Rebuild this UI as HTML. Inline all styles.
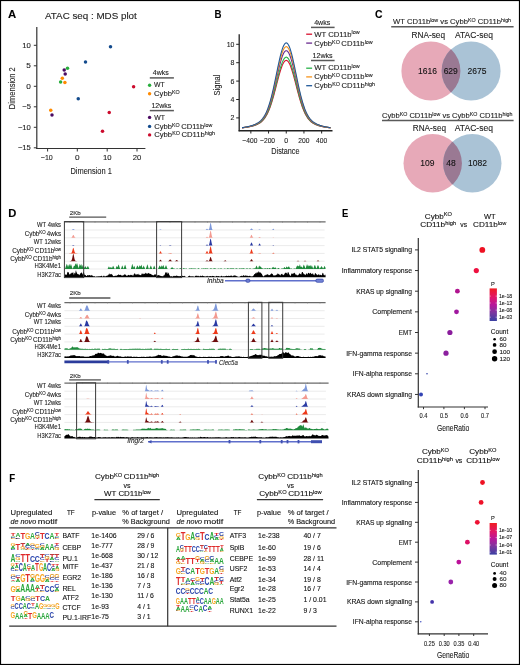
<!DOCTYPE html>
<html><head><meta charset="utf-8"><style>
html,body{margin:0;padding:0;background:#fff;overflow:hidden;width:520px;height:665px;}
svg{display:block;will-change:transform;}
text{font-family:"Liberation Sans",sans-serif;stroke:currentColor;stroke-width:0.1px;}
</style></head><body>
<svg width="520" height="665" viewBox="0 0 520 665">
<rect x="0" y="0" width="520" height="665" fill="#fff"/>
<text x="8.10" y="17.70" font-size="11.40" fill="#000" color="#000" font-weight="bold" textLength="8.20" lengthAdjust="spacingAndGlyphs" >A</text>
<text x="45.00" y="18.80" font-size="8.70" fill="#222" color="#222" textLength="91.80" lengthAdjust="spacingAndGlyphs" >ATAC seq : MDS plot</text>
<line x1="36.80" y1="26.90" x2="36.80" y2="149.00" stroke="#333" stroke-width="1.2" />
<line x1="36.20" y1="148.50" x2="145.40" y2="148.50" stroke="#333" stroke-width="1.2" />
<line x1="33.80" y1="45.30" x2="36.80" y2="45.30" stroke="#333" stroke-width="1" />
<text x="30.90" y="47.90" font-size="7.30" fill="#222" color="#222" text-anchor="end" textLength="8.60" lengthAdjust="spacingAndGlyphs" >10</text>
<line x1="33.80" y1="65.80" x2="36.80" y2="65.80" stroke="#333" stroke-width="1" />
<text x="30.90" y="68.40" font-size="7.30" fill="#222" color="#222" text-anchor="end" textLength="4.60" lengthAdjust="spacingAndGlyphs" >5</text>
<line x1="33.80" y1="86.30" x2="36.80" y2="86.30" stroke="#333" stroke-width="1" />
<text x="30.90" y="88.90" font-size="7.30" fill="#222" color="#222" text-anchor="end" textLength="4.60" lengthAdjust="spacingAndGlyphs" >0</text>
<line x1="33.80" y1="106.80" x2="36.80" y2="106.80" stroke="#333" stroke-width="1" />
<text x="30.90" y="109.40" font-size="7.30" fill="#222" color="#222" text-anchor="end" textLength="8.60" lengthAdjust="spacingAndGlyphs" >−5</text>
<line x1="33.80" y1="127.30" x2="36.80" y2="127.30" stroke="#333" stroke-width="1" />
<text x="30.90" y="129.90" font-size="7.30" fill="#222" color="#222" text-anchor="end" textLength="13.00" lengthAdjust="spacingAndGlyphs" >−10</text>
<line x1="33.80" y1="147.80" x2="36.80" y2="147.80" stroke="#333" stroke-width="1" />
<text x="30.90" y="150.40" font-size="7.30" fill="#222" color="#222" text-anchor="end" textLength="13.00" lengthAdjust="spacingAndGlyphs" >−15</text>
<line x1="47.60" y1="148.50" x2="47.60" y2="151.50" stroke="#333" stroke-width="1" />
<text x="40.80" y="159.90" font-size="7.30" fill="#222" color="#222" textLength="12.00" lengthAdjust="spacingAndGlyphs" >−10</text>
<line x1="77.30" y1="148.50" x2="77.30" y2="151.50" stroke="#333" stroke-width="1" />
<text x="75.00" y="159.90" font-size="7.30" fill="#222" color="#222" textLength="4.60" lengthAdjust="spacingAndGlyphs" >0</text>
<line x1="107.20" y1="148.50" x2="107.20" y2="151.50" stroke="#333" stroke-width="1" />
<text x="102.90" y="159.90" font-size="7.30" fill="#222" color="#222" textLength="8.60" lengthAdjust="spacingAndGlyphs" >10</text>
<line x1="137.00" y1="148.50" x2="137.00" y2="151.50" stroke="#333" stroke-width="1" />
<text x="132.70" y="159.90" font-size="7.30" fill="#222" color="#222" textLength="8.60" lengthAdjust="spacingAndGlyphs" >20</text>
<text x="70.40" y="173.70" font-size="9.00" fill="#222" color="#222" textLength="41.50" lengthAdjust="spacingAndGlyphs" >Dimension 1</text>
<g transform="translate(15.2,109.2) rotate(-90)">
<text x="0.00" y="0.00" font-size="9.00" fill="#222" color="#222" textLength="42.00" lengthAdjust="spacingAndGlyphs" >Dimension 2</text>
</g>
<circle cx="110.50" cy="46.75" r="1.75" fill="#124a8c"/>
<circle cx="85.50" cy="62.00" r="1.75" fill="#124a8c"/>
<circle cx="78.25" cy="98.75" r="1.75" fill="#124a8c"/>
<circle cx="64.20" cy="70.10" r="1.75" fill="#4b0b62"/>
<circle cx="65.20" cy="73.90" r="1.75" fill="#4b0b62"/>
<circle cx="52.00" cy="115.00" r="1.75" fill="#4b0b62"/>
<circle cx="67.50" cy="68.35" r="1.75" fill="#27ae3c"/>
<circle cx="60.60" cy="82.00" r="1.75" fill="#27ae3c"/>
<circle cx="62.30" cy="78.30" r="1.75" fill="#ff8a00"/>
<circle cx="64.90" cy="82.60" r="1.75" fill="#ff8a00"/>
<circle cx="50.75" cy="110.25" r="1.75" fill="#ff8a00"/>
<circle cx="133.60" cy="86.70" r="1.75" fill="#cc0a2c"/>
<circle cx="109.25" cy="112.50" r="1.75" fill="#cc0a2c"/>
<circle cx="102.50" cy="131.25" r="1.75" fill="#cc0a2c"/>
<text x="152.80" y="74.70" font-size="6.60" fill="#222" color="#222" textLength="15.90" lengthAdjust="spacingAndGlyphs" >4wks</text>
<line x1="149.80" y1="77.90" x2="173.90" y2="77.90" stroke="#5a5a5a" stroke-width="1.5" />
<circle cx="149.60" cy="85.30" r="1.70" fill="#27ae3c"/>
<text x="154.10" y="87.40" font-size="6.50" fill="#222" color="#222" textLength="10.70" lengthAdjust="spacingAndGlyphs" >WT</text>
<circle cx="149.60" cy="93.70" r="1.70" fill="#ff8a00"/>
<text x="154.10" y="95.80" font-size="6.50" fill="#222" color="#222" textLength="17.86" lengthAdjust="spacingAndGlyphs" >Cybb</text>
<text x="171.96" y="93.78" font-size="4.55" fill="#222" color="#222" stroke-width="0.05" textLength="7.74" lengthAdjust="spacingAndGlyphs" >KO</text>
<text x="151.40" y="108.20" font-size="6.60" fill="#222" color="#222" textLength="19.80" lengthAdjust="spacingAndGlyphs" >12wks</text>
<line x1="149.80" y1="110.60" x2="173.90" y2="110.60" stroke="#5a5a5a" stroke-width="1.5" />
<circle cx="149.60" cy="117.40" r="1.70" fill="#4b0b62"/>
<text x="154.20" y="119.70" font-size="6.50" fill="#222" color="#222" textLength="10.70" lengthAdjust="spacingAndGlyphs" >WT</text>
<circle cx="149.60" cy="126.40" r="1.70" fill="#124a8c"/>
<text x="154.20" y="128.60" font-size="6.50" fill="#222" color="#222" textLength="17.78" lengthAdjust="spacingAndGlyphs" >Cybb</text>
<text x="171.98" y="126.58" font-size="4.55" fill="#222" color="#222" stroke-width="0.05" textLength="7.70" lengthAdjust="spacingAndGlyphs" >KO</text>
<text x="181.16" y="128.60" font-size="6.50" fill="#222" color="#222" textLength="23.14" lengthAdjust="spacingAndGlyphs" >CD11b</text>
<text x="204.30" y="126.58" font-size="4.55" fill="#222" color="#222" stroke-width="0.05" textLength="8.00" lengthAdjust="spacingAndGlyphs" >low</text>
<circle cx="149.60" cy="134.90" r="1.70" fill="#cc0a2c"/>
<text x="154.20" y="136.90" font-size="6.50" fill="#222" color="#222" textLength="17.96" lengthAdjust="spacingAndGlyphs" >Cybb</text>
<text x="172.16" y="134.89" font-size="4.55" fill="#222" color="#222" stroke-width="0.05" textLength="7.78" lengthAdjust="spacingAndGlyphs" >KO</text>
<text x="181.44" y="136.90" font-size="6.50" fill="#222" color="#222" textLength="23.38" lengthAdjust="spacingAndGlyphs" >CD11b</text>
<text x="204.82" y="134.89" font-size="4.55" fill="#222" color="#222" stroke-width="0.05" textLength="10.18" lengthAdjust="spacingAndGlyphs" >high</text>
<text x="214.40" y="17.50" font-size="11.40" fill="#000" color="#000" font-weight="bold" textLength="7.00" lengthAdjust="spacingAndGlyphs" >B</text>
<line x1="239.20" y1="34.20" x2="239.20" y2="131.30" stroke="#222" stroke-width="1.3" />
<line x1="238.60" y1="130.75" x2="332.50" y2="130.75" stroke="#222" stroke-width="1.3" />
<line x1="236.20" y1="44.30" x2="239.20" y2="44.30" stroke="#222" stroke-width="1" />
<text x="234.40" y="46.80" font-size="7.30" fill="#222" color="#222" text-anchor="end" textLength="7.70" lengthAdjust="spacingAndGlyphs" >10</text>
<line x1="236.20" y1="62.70" x2="239.20" y2="62.70" stroke="#222" stroke-width="1" />
<text x="234.40" y="65.20" font-size="7.30" fill="#222" color="#222" text-anchor="end" textLength="3.90" lengthAdjust="spacingAndGlyphs" >8</text>
<line x1="236.20" y1="81.10" x2="239.20" y2="81.10" stroke="#222" stroke-width="1" />
<text x="234.40" y="83.60" font-size="7.30" fill="#222" color="#222" text-anchor="end" textLength="3.90" lengthAdjust="spacingAndGlyphs" >6</text>
<line x1="236.20" y1="99.50" x2="239.20" y2="99.50" stroke="#222" stroke-width="1" />
<text x="234.40" y="102.00" font-size="7.30" fill="#222" color="#222" text-anchor="end" textLength="3.90" lengthAdjust="spacingAndGlyphs" >4</text>
<line x1="236.20" y1="117.90" x2="239.20" y2="117.90" stroke="#222" stroke-width="1" />
<text x="234.40" y="120.40" font-size="7.30" fill="#222" color="#222" text-anchor="end" textLength="3.90" lengthAdjust="spacingAndGlyphs" >2</text>
<line x1="250.85" y1="130.75" x2="250.85" y2="133.50" stroke="#222" stroke-width="1" />
<text x="242.35" y="143.20" font-size="7.30" fill="#222" color="#222" textLength="15.00" lengthAdjust="spacingAndGlyphs" >−400</text>
<line x1="268.55" y1="130.75" x2="268.55" y2="133.50" stroke="#222" stroke-width="1" />
<text x="260.05" y="143.20" font-size="7.30" fill="#222" color="#222" textLength="15.00" lengthAdjust="spacingAndGlyphs" >−200</text>
<line x1="286.25" y1="130.75" x2="286.25" y2="133.50" stroke="#222" stroke-width="1" />
<text x="284.30" y="143.20" font-size="7.30" fill="#222" color="#222" textLength="3.90" lengthAdjust="spacingAndGlyphs" >0</text>
<line x1="303.95" y1="130.75" x2="303.95" y2="133.50" stroke="#222" stroke-width="1" />
<text x="298.35" y="143.20" font-size="7.30" fill="#222" color="#222" textLength="11.20" lengthAdjust="spacingAndGlyphs" >200</text>
<line x1="321.65" y1="130.75" x2="321.65" y2="133.50" stroke="#222" stroke-width="1" />
<text x="316.05" y="143.20" font-size="7.30" fill="#222" color="#222" textLength="11.20" lengthAdjust="spacingAndGlyphs" >400</text>
<text x="271.30" y="154.00" font-size="9.00" fill="#222" color="#222" textLength="28.20" lengthAdjust="spacingAndGlyphs" >Distance</text>
<g transform="translate(219.6,95.4) rotate(-90)">
<text x="0.00" y="0.00" font-size="9.00" fill="#222" color="#222" textLength="20.80" lengthAdjust="spacingAndGlyphs" >Signal</text>
</g>
<path d="M242.00,127.91 L242.44,127.86 L242.88,127.80 L243.33,127.75 L243.77,127.69 L244.21,127.64 L244.66,127.58 L245.10,127.51 L245.54,127.45 L245.98,127.38 L246.43,127.31 L246.87,127.24 L247.31,127.17 L247.75,127.09 L248.19,127.01 L248.64,126.93 L249.08,126.84 L249.52,126.75 L249.97,126.66 L250.41,126.56 L250.85,126.46 L251.29,126.36 L251.74,126.25 L252.18,126.14 L252.62,126.02 L253.06,125.90 L253.50,125.77 L253.95,125.64 L254.39,125.50 L254.83,125.35 L255.28,125.19 L255.72,125.03 L256.16,124.86 L256.60,124.67 L257.05,124.48 L257.49,124.28 L257.93,124.06 L258.37,123.83 L258.81,123.58 L259.26,123.32 L259.70,123.04 L260.14,122.74 L260.58,122.42 L261.03,122.08 L261.47,121.71 L261.91,121.32 L262.36,120.90 L262.80,120.46 L263.24,119.98 L263.68,119.46 L264.12,118.91 L264.57,118.33 L265.01,117.70 L265.45,117.04 L265.89,116.33 L266.34,115.57 L266.78,114.77 L267.22,113.92 L267.67,113.02 L268.11,112.07 L268.55,111.06 L268.99,110.00 L269.44,108.89 L269.88,107.73 L270.32,106.51 L270.76,105.24 L271.20,103.91 L271.65,102.54 L272.09,101.12 L272.53,99.64 L272.98,98.13 L273.42,96.57 L273.86,94.98 L274.30,93.35 L274.75,91.69 L275.19,90.01 L275.63,88.31 L276.07,86.60 L276.51,84.89 L276.96,83.17 L277.40,81.46 L277.84,79.77 L278.29,78.10 L278.73,76.46 L279.17,74.86 L279.61,73.30 L280.06,71.80 L280.50,70.37 L280.94,69.00 L281.38,67.71 L281.82,66.51 L282.27,65.39 L282.71,64.38 L283.15,63.47 L283.60,62.67 L284.04,61.99 L284.48,61.42 L284.92,60.98 L285.37,60.66 L285.81,60.46 L286.25,60.40 L286.69,60.46 L287.13,60.66 L287.58,60.98 L288.02,61.42 L288.46,61.99 L288.90,62.67 L289.35,63.47 L289.79,64.38 L290.23,65.39 L290.68,66.51 L291.12,67.71 L291.56,69.00 L292.00,70.37 L292.44,71.80 L292.89,73.30 L293.33,74.86 L293.77,76.46 L294.21,78.10 L294.66,79.77 L295.10,81.46 L295.54,83.17 L295.99,84.89 L296.43,86.60 L296.87,88.31 L297.31,90.01 L297.75,91.69 L298.20,93.35 L298.64,94.98 L299.08,96.57 L299.52,98.13 L299.97,99.64 L300.41,101.12 L300.85,102.54 L301.30,103.91 L301.74,105.24 L302.18,106.51 L302.62,107.73 L303.06,108.89 L303.51,110.00 L303.95,111.06 L304.39,112.07 L304.83,113.02 L305.28,113.92 L305.72,114.77 L306.16,115.57 L306.61,116.33 L307.05,117.04 L307.49,117.70 L307.93,118.33 L308.38,118.91 L308.82,119.46 L309.26,119.98 L309.70,120.46 L310.14,120.90 L310.59,121.32 L311.03,121.71 L311.47,122.08 L311.92,122.42 L312.36,122.74 L312.80,123.04 L313.24,123.32 L313.69,123.58 L314.13,123.83 L314.57,124.06 L315.01,124.28 L315.45,124.48 L315.90,124.67 L316.34,124.86 L316.78,125.03 L317.23,125.19 L317.67,125.35 L318.11,125.50 L318.55,125.64 L319.00,125.77 L319.44,125.90 L319.88,126.02 L320.32,126.14 L320.76,126.25 L321.21,126.36 L321.65,126.46 L322.09,126.56 L322.53,126.66 L322.98,126.75 L323.42,126.84 L323.86,126.93 L324.31,127.01 L324.75,127.09 L325.19,127.17 L325.63,127.24 L326.07,127.31 L326.52,127.38 L326.96,127.45 L327.40,127.51 L327.85,127.58 L328.29,127.64 L328.73,127.69 L329.17,127.75 L329.62,127.80 L330.06,127.86 L330.50,127.91" fill="none" stroke="#d8102e" stroke-width="1.1" />
<path d="M242.00,127.86 L242.44,127.81 L242.88,127.75 L243.33,127.69 L243.77,127.64 L244.21,127.58 L244.66,127.51 L245.10,127.45 L245.54,127.38 L245.98,127.31 L246.43,127.24 L246.87,127.16 L247.31,127.08 L247.75,127.00 L248.19,126.92 L248.64,126.83 L249.08,126.74 L249.52,126.65 L249.97,126.55 L250.41,126.45 L250.85,126.35 L251.29,126.24 L251.74,126.12 L252.18,126.01 L252.62,125.88 L253.06,125.76 L253.50,125.62 L253.95,125.48 L254.39,125.33 L254.83,125.18 L255.28,125.02 L255.72,124.85 L256.16,124.67 L256.60,124.47 L257.05,124.27 L257.49,124.06 L257.93,123.83 L258.37,123.59 L258.81,123.33 L259.26,123.06 L259.70,122.76 L260.14,122.45 L260.58,122.12 L261.03,121.76 L261.47,121.38 L261.91,120.97 L262.36,120.53 L262.80,120.06 L263.24,119.56 L263.68,119.02 L264.12,118.44 L264.57,117.83 L265.01,117.18 L265.45,116.48 L265.89,115.73 L266.34,114.94 L266.78,114.10 L267.22,113.21 L267.67,112.27 L268.11,111.27 L268.55,110.22 L268.99,109.11 L269.44,107.95 L269.88,106.73 L270.32,105.46 L270.76,104.13 L271.20,102.74 L271.65,101.30 L272.09,99.81 L272.53,98.27 L272.98,96.68 L273.42,95.05 L273.86,93.38 L274.30,91.68 L274.75,89.94 L275.19,88.18 L275.63,86.40 L276.07,84.61 L276.51,82.82 L276.96,81.02 L277.40,79.23 L277.84,77.46 L278.29,75.71 L278.73,73.99 L279.17,72.32 L279.61,70.69 L280.06,69.12 L280.50,67.62 L280.94,66.18 L281.38,64.83 L281.82,63.57 L282.27,62.41 L282.71,61.35 L283.15,60.40 L283.60,59.56 L284.04,58.84 L284.48,58.25 L284.92,57.78 L285.37,57.45 L285.81,57.25 L286.25,57.18 L286.69,57.25 L287.13,57.45 L287.58,57.78 L288.02,58.25 L288.46,58.84 L288.90,59.56 L289.35,60.40 L289.79,61.35 L290.23,62.41 L290.68,63.57 L291.12,64.83 L291.56,66.18 L292.00,67.62 L292.44,69.12 L292.89,70.69 L293.33,72.32 L293.77,73.99 L294.21,75.71 L294.66,77.46 L295.10,79.23 L295.54,81.02 L295.99,82.82 L296.43,84.61 L296.87,86.40 L297.31,88.18 L297.75,89.94 L298.20,91.68 L298.64,93.38 L299.08,95.05 L299.52,96.68 L299.97,98.27 L300.41,99.81 L300.85,101.30 L301.30,102.74 L301.74,104.13 L302.18,105.46 L302.62,106.73 L303.06,107.95 L303.51,109.11 L303.95,110.22 L304.39,111.27 L304.83,112.27 L305.28,113.21 L305.72,114.10 L306.16,114.94 L306.61,115.73 L307.05,116.48 L307.49,117.18 L307.93,117.83 L308.38,118.44 L308.82,119.02 L309.26,119.56 L309.70,120.06 L310.14,120.53 L310.59,120.97 L311.03,121.38 L311.47,121.76 L311.92,122.12 L312.36,122.45 L312.80,122.76 L313.24,123.06 L313.69,123.33 L314.13,123.59 L314.57,123.83 L315.01,124.06 L315.45,124.27 L315.90,124.47 L316.34,124.67 L316.78,124.85 L317.23,125.02 L317.67,125.18 L318.11,125.33 L318.55,125.48 L319.00,125.62 L319.44,125.76 L319.88,125.88 L320.32,126.01 L320.76,126.12 L321.21,126.24 L321.65,126.35 L322.09,126.45 L322.53,126.55 L322.98,126.65 L323.42,126.74 L323.86,126.83 L324.31,126.92 L324.75,127.00 L325.19,127.08 L325.63,127.16 L326.07,127.24 L326.52,127.31 L326.96,127.38 L327.40,127.45 L327.85,127.51 L328.29,127.58 L328.73,127.64 L329.17,127.69 L329.62,127.75 L330.06,127.81 L330.50,127.86" fill="none" stroke="#2ab34a" stroke-width="1.1" />
<path d="M242.00,127.76 L242.44,127.70 L242.88,127.64 L243.33,127.58 L243.77,127.52 L244.21,127.45 L244.66,127.38 L245.10,127.31 L245.54,127.24 L245.98,127.16 L246.43,127.08 L246.87,127.00 L247.31,126.92 L247.75,126.83 L248.19,126.74 L248.64,126.64 L249.08,126.54 L249.52,126.44 L249.97,126.34 L250.41,126.23 L250.85,126.11 L251.29,125.99 L251.74,125.87 L252.18,125.74 L252.62,125.61 L253.06,125.47 L253.50,125.32 L253.95,125.17 L254.39,125.01 L254.83,124.84 L255.28,124.66 L255.72,124.48 L256.16,124.28 L256.60,124.07 L257.05,123.85 L257.49,123.62 L257.93,123.37 L258.37,123.11 L258.81,122.83 L259.26,122.53 L259.70,122.21 L260.14,121.87 L260.58,121.50 L261.03,121.11 L261.47,120.70 L261.91,120.25 L262.36,119.77 L262.80,119.26 L263.24,118.71 L263.68,118.13 L264.12,117.50 L264.57,116.83 L265.01,116.12 L265.45,115.36 L265.89,114.55 L266.34,113.69 L266.78,112.77 L267.22,111.80 L267.67,110.77 L268.11,109.69 L268.55,108.54 L268.99,107.34 L269.44,106.07 L269.88,104.74 L270.32,103.35 L270.76,101.90 L271.20,100.39 L271.65,98.82 L272.09,97.19 L272.53,95.52 L272.98,93.79 L273.42,92.01 L273.86,90.19 L274.30,88.33 L274.75,86.44 L275.19,84.53 L275.63,82.59 L276.07,80.64 L276.51,78.68 L276.96,76.72 L277.40,74.77 L277.84,72.84 L278.29,70.93 L278.73,69.06 L279.17,67.24 L279.61,65.46 L280.06,63.75 L280.50,62.11 L280.94,60.55 L281.38,59.08 L281.82,57.71 L282.27,56.44 L282.71,55.28 L283.15,54.24 L283.60,53.33 L284.04,52.55 L284.48,51.90 L284.92,51.40 L285.37,51.03 L285.81,50.81 L286.25,50.74 L286.69,50.81 L287.13,51.03 L287.58,51.40 L288.02,51.90 L288.46,52.55 L288.90,53.33 L289.35,54.24 L289.79,55.28 L290.23,56.44 L290.68,57.71 L291.12,59.08 L291.56,60.55 L292.00,62.11 L292.44,63.75 L292.89,65.46 L293.33,67.24 L293.77,69.06 L294.21,70.93 L294.66,72.84 L295.10,74.77 L295.54,76.72 L295.99,78.68 L296.43,80.64 L296.87,82.59 L297.31,84.53 L297.75,86.44 L298.20,88.33 L298.64,90.19 L299.08,92.01 L299.52,93.79 L299.97,95.52 L300.41,97.19 L300.85,98.82 L301.30,100.39 L301.74,101.90 L302.18,103.35 L302.62,104.74 L303.06,106.07 L303.51,107.34 L303.95,108.54 L304.39,109.69 L304.83,110.77 L305.28,111.80 L305.72,112.77 L306.16,113.69 L306.61,114.55 L307.05,115.36 L307.49,116.12 L307.93,116.83 L308.38,117.50 L308.82,118.13 L309.26,118.71 L309.70,119.26 L310.14,119.77 L310.59,120.25 L311.03,120.70 L311.47,121.11 L311.92,121.50 L312.36,121.87 L312.80,122.21 L313.24,122.53 L313.69,122.83 L314.13,123.11 L314.57,123.37 L315.01,123.62 L315.45,123.85 L315.90,124.07 L316.34,124.28 L316.78,124.48 L317.23,124.66 L317.67,124.84 L318.11,125.01 L318.55,125.17 L319.00,125.32 L319.44,125.47 L319.88,125.61 L320.32,125.74 L320.76,125.87 L321.21,125.99 L321.65,126.11 L322.09,126.23 L322.53,126.34 L322.98,126.44 L323.42,126.54 L323.86,126.64 L324.31,126.74 L324.75,126.83 L325.19,126.92 L325.63,127.00 L326.07,127.08 L326.52,127.16 L326.96,127.24 L327.40,127.31 L327.85,127.38 L328.29,127.45 L328.73,127.52 L329.17,127.58 L329.62,127.64 L330.06,127.70 L330.50,127.76" fill="none" stroke="#6a2a8f" stroke-width="1.1" />
<path d="M242.00,127.70 L242.44,127.64 L242.88,127.58 L243.33,127.51 L243.77,127.44 L244.21,127.37 L244.66,127.30 L245.10,127.23 L245.54,127.15 L245.98,127.07 L246.43,126.99 L246.87,126.90 L247.31,126.81 L247.75,126.72 L248.19,126.62 L248.64,126.52 L249.08,126.42 L249.52,126.31 L249.97,126.20 L250.41,126.08 L250.85,125.96 L251.29,125.84 L251.74,125.71 L252.18,125.57 L252.62,125.43 L253.06,125.29 L253.50,125.13 L253.95,124.97 L254.39,124.80 L254.83,124.63 L255.28,124.44 L255.72,124.24 L256.16,124.03 L256.60,123.82 L257.05,123.58 L257.49,123.34 L257.93,123.08 L258.37,122.80 L258.81,122.50 L259.26,122.19 L259.70,121.85 L260.14,121.49 L260.58,121.11 L261.03,120.70 L261.47,120.26 L261.91,119.79 L262.36,119.29 L262.80,118.75 L263.24,118.17 L263.68,117.56 L264.12,116.90 L264.57,116.19 L265.01,115.44 L265.45,114.64 L265.89,113.79 L266.34,112.88 L266.78,111.92 L267.22,110.89 L267.67,109.81 L268.11,108.67 L268.55,107.46 L268.99,106.19 L269.44,104.86 L269.88,103.46 L270.32,101.99 L270.76,100.47 L271.20,98.88 L271.65,97.22 L272.09,95.51 L272.53,93.75 L272.98,91.93 L273.42,90.06 L273.86,88.14 L274.30,86.18 L274.75,84.19 L275.19,82.17 L275.63,80.13 L276.07,78.08 L276.51,76.02 L276.96,73.95 L277.40,71.90 L277.84,69.87 L278.29,67.86 L278.73,65.89 L279.17,63.97 L279.61,62.10 L280.06,60.30 L280.50,58.57 L280.94,56.93 L281.38,55.38 L281.82,53.94 L282.27,52.60 L282.71,51.38 L283.15,50.29 L283.60,49.33 L284.04,48.51 L284.48,47.83 L284.92,47.29 L285.37,46.91 L285.81,46.68 L286.25,46.60 L286.69,46.68 L287.13,46.91 L287.58,47.29 L288.02,47.83 L288.46,48.51 L288.90,49.33 L289.35,50.29 L289.79,51.38 L290.23,52.60 L290.68,53.94 L291.12,55.38 L291.56,56.93 L292.00,58.57 L292.44,60.30 L292.89,62.10 L293.33,63.97 L293.77,65.89 L294.21,67.86 L294.66,69.87 L295.10,71.90 L295.54,73.95 L295.99,76.02 L296.43,78.08 L296.87,80.13 L297.31,82.17 L297.75,84.19 L298.20,86.18 L298.64,88.14 L299.08,90.06 L299.52,91.93 L299.97,93.75 L300.41,95.51 L300.85,97.22 L301.30,98.88 L301.74,100.47 L302.18,101.99 L302.62,103.46 L303.06,104.86 L303.51,106.19 L303.95,107.46 L304.39,108.67 L304.83,109.81 L305.28,110.89 L305.72,111.92 L306.16,112.88 L306.61,113.79 L307.05,114.64 L307.49,115.44 L307.93,116.19 L308.38,116.90 L308.82,117.56 L309.26,118.17 L309.70,118.75 L310.14,119.29 L310.59,119.79 L311.03,120.26 L311.47,120.70 L311.92,121.11 L312.36,121.49 L312.80,121.85 L313.24,122.19 L313.69,122.50 L314.13,122.80 L314.57,123.08 L315.01,123.34 L315.45,123.58 L315.90,123.82 L316.34,124.03 L316.78,124.24 L317.23,124.44 L317.67,124.63 L318.11,124.80 L318.55,124.97 L319.00,125.13 L319.44,125.29 L319.88,125.43 L320.32,125.57 L320.76,125.71 L321.21,125.84 L321.65,125.96 L322.09,126.08 L322.53,126.20 L322.98,126.31 L323.42,126.42 L323.86,126.52 L324.31,126.62 L324.75,126.72 L325.19,126.81 L325.63,126.90 L326.07,126.99 L326.52,127.07 L326.96,127.15 L327.40,127.23 L327.85,127.30 L328.29,127.37 L328.73,127.44 L329.17,127.51 L329.62,127.58 L330.06,127.64 L330.50,127.70" fill="none" stroke="#f7941d" stroke-width="1.1" />
<path d="M242.00,127.64 L242.44,127.58 L242.88,127.51 L243.33,127.45 L243.77,127.38 L244.21,127.30 L244.66,127.23 L245.10,127.15 L245.54,127.07 L245.98,126.98 L246.43,126.90 L246.87,126.81 L247.31,126.71 L247.75,126.62 L248.19,126.52 L248.64,126.41 L249.08,126.30 L249.52,126.19 L249.97,126.08 L250.41,125.96 L250.85,125.83 L251.29,125.70 L251.74,125.56 L252.18,125.42 L252.62,125.28 L253.06,125.12 L253.50,124.96 L253.95,124.79 L254.39,124.62 L254.83,124.43 L255.28,124.24 L255.72,124.03 L256.16,123.82 L256.60,123.59 L257.05,123.34 L257.49,123.09 L257.93,122.82 L258.37,122.53 L258.81,122.22 L259.26,121.89 L259.70,121.54 L260.14,121.16 L260.58,120.76 L261.03,120.33 L261.47,119.87 L261.91,119.38 L262.36,118.86 L262.80,118.29 L263.24,117.69 L263.68,117.05 L264.12,116.36 L264.57,115.62 L265.01,114.84 L265.45,114.00 L265.89,113.11 L266.34,112.16 L266.78,111.15 L267.22,110.09 L267.67,108.96 L268.11,107.76 L268.55,106.50 L268.99,105.17 L269.44,103.78 L269.88,102.32 L270.32,100.79 L270.76,99.19 L271.20,97.53 L271.65,95.81 L272.09,94.02 L272.53,92.17 L272.98,90.27 L273.42,88.32 L273.86,86.32 L274.30,84.27 L274.75,82.19 L275.19,80.08 L275.63,77.95 L276.07,75.80 L276.51,73.65 L276.96,71.50 L277.40,69.35 L277.84,67.23 L278.29,65.13 L278.73,63.07 L279.17,61.06 L279.61,59.11 L280.06,57.23 L280.50,55.43 L280.94,53.71 L281.38,52.10 L281.82,50.58 L282.27,49.19 L282.71,47.92 L283.15,46.77 L283.60,45.77 L284.04,44.91 L284.48,44.20 L284.92,43.64 L285.37,43.24 L285.81,43.00 L286.25,42.92 L286.69,43.00 L287.13,43.24 L287.58,43.64 L288.02,44.20 L288.46,44.91 L288.90,45.77 L289.35,46.77 L289.79,47.92 L290.23,49.19 L290.68,50.58 L291.12,52.10 L291.56,53.71 L292.00,55.43 L292.44,57.23 L292.89,59.11 L293.33,61.06 L293.77,63.07 L294.21,65.13 L294.66,67.23 L295.10,69.35 L295.54,71.50 L295.99,73.65 L296.43,75.80 L296.87,77.95 L297.31,80.08 L297.75,82.19 L298.20,84.27 L298.64,86.32 L299.08,88.32 L299.52,90.27 L299.97,92.17 L300.41,94.02 L300.85,95.81 L301.30,97.53 L301.74,99.19 L302.18,100.79 L302.62,102.32 L303.06,103.78 L303.51,105.17 L303.95,106.50 L304.39,107.76 L304.83,108.96 L305.28,110.09 L305.72,111.15 L306.16,112.16 L306.61,113.11 L307.05,114.00 L307.49,114.84 L307.93,115.62 L308.38,116.36 L308.82,117.05 L309.26,117.69 L309.70,118.29 L310.14,118.86 L310.59,119.38 L311.03,119.87 L311.47,120.33 L311.92,120.76 L312.36,121.16 L312.80,121.54 L313.24,121.89 L313.69,122.22 L314.13,122.53 L314.57,122.82 L315.01,123.09 L315.45,123.34 L315.90,123.59 L316.34,123.82 L316.78,124.03 L317.23,124.24 L317.67,124.43 L318.11,124.62 L318.55,124.79 L319.00,124.96 L319.44,125.12 L319.88,125.28 L320.32,125.42 L320.76,125.56 L321.21,125.70 L321.65,125.83 L322.09,125.96 L322.53,126.08 L322.98,126.19 L323.42,126.30 L323.86,126.41 L324.31,126.52 L324.75,126.62 L325.19,126.71 L325.63,126.81 L326.07,126.90 L326.52,126.98 L326.96,127.07 L327.40,127.15 L327.85,127.23 L328.29,127.30 L328.73,127.38 L329.17,127.45 L329.62,127.51 L330.06,127.58 L330.50,127.64" fill="none" stroke="#215a9a" stroke-width="1.1" />
<text x="314.20" y="24.60" font-size="6.60" fill="#222" color="#222" textLength="16.10" lengthAdjust="spacingAndGlyphs" >4wks</text>
<line x1="311.00" y1="27.40" x2="334.60" y2="27.40" stroke="#5a5a5a" stroke-width="1.5" />
<line x1="306.20" y1="34.20" x2="312.10" y2="34.20" stroke="#d8102e" stroke-width="1.3" />
<text x="314.20" y="36.50" font-size="6.80" fill="#222" color="#222" textLength="37.40" lengthAdjust="spacingAndGlyphs" >WT CD11b</text>
<text x="351.60" y="34.39" font-size="4.76" fill="#222" color="#222" stroke-width="0.05" textLength="8.10" lengthAdjust="spacingAndGlyphs" >low</text>
<line x1="306.20" y1="43.10" x2="312.10" y2="43.10" stroke="#6a2a8f" stroke-width="1.3" />
<text x="314.20" y="45.70" font-size="6.80" fill="#222" color="#222" textLength="17.90" lengthAdjust="spacingAndGlyphs" >Cybb</text>
<text x="332.10" y="43.59" font-size="4.76" fill="#222" color="#222" stroke-width="0.05" textLength="7.76" lengthAdjust="spacingAndGlyphs" >KO</text>
<text x="341.35" y="45.70" font-size="6.80" fill="#222" color="#222" textLength="23.30" lengthAdjust="spacingAndGlyphs" >CD11b</text>
<text x="364.65" y="43.59" font-size="4.76" fill="#222" color="#222" stroke-width="0.05" textLength="8.05" lengthAdjust="spacingAndGlyphs" >low</text>
<line x1="306.20" y1="68.20" x2="312.10" y2="68.20" stroke="#2ab34a" stroke-width="1.3" />
<text x="314.20" y="69.90" font-size="6.80" fill="#222" color="#222" textLength="37.40" lengthAdjust="spacingAndGlyphs" >WT CD11b</text>
<text x="351.60" y="67.79" font-size="4.76" fill="#222" color="#222" stroke-width="0.05" textLength="8.10" lengthAdjust="spacingAndGlyphs" >low</text>
<line x1="306.20" y1="76.90" x2="312.10" y2="76.90" stroke="#f7941d" stroke-width="1.3" />
<text x="314.20" y="78.70" font-size="6.80" fill="#222" color="#222" textLength="17.90" lengthAdjust="spacingAndGlyphs" >Cybb</text>
<text x="332.10" y="76.59" font-size="4.76" fill="#222" color="#222" stroke-width="0.05" textLength="7.76" lengthAdjust="spacingAndGlyphs" >KO</text>
<text x="341.35" y="78.70" font-size="6.80" fill="#222" color="#222" textLength="23.30" lengthAdjust="spacingAndGlyphs" >CD11b</text>
<text x="364.65" y="76.59" font-size="4.76" fill="#222" color="#222" stroke-width="0.05" textLength="8.05" lengthAdjust="spacingAndGlyphs" >low</text>
<line x1="306.20" y1="85.70" x2="312.10" y2="85.70" stroke="#215a9a" stroke-width="1.3" />
<text x="314.20" y="88.40" font-size="6.80" fill="#222" color="#222" textLength="17.96" lengthAdjust="spacingAndGlyphs" >Cybb</text>
<text x="332.16" y="86.29" font-size="4.76" fill="#222" color="#222" stroke-width="0.05" textLength="7.78" lengthAdjust="spacingAndGlyphs" >KO</text>
<text x="341.44" y="88.40" font-size="6.80" fill="#222" color="#222" textLength="23.38" lengthAdjust="spacingAndGlyphs" >CD11b</text>
<text x="364.82" y="86.29" font-size="4.76" fill="#222" color="#222" stroke-width="0.05" textLength="10.18" lengthAdjust="spacingAndGlyphs" >high</text>
<text x="312.60" y="58.00" font-size="6.60" fill="#222" color="#222" textLength="20.00" lengthAdjust="spacingAndGlyphs" >12wks</text>
<line x1="311.00" y1="60.50" x2="334.60" y2="60.50" stroke="#5a5a5a" stroke-width="1.5" />
<text x="375.00" y="17.60" font-size="11.40" fill="#000" color="#000" font-weight="bold" textLength="7.50" lengthAdjust="spacingAndGlyphs" >C</text>
<text x="393.10" y="23.80" font-size="6.80" fill="#222" color="#222" textLength="37.08" lengthAdjust="spacingAndGlyphs" >WT CD11b</text>
<text x="430.18" y="21.69" font-size="4.76" fill="#222" color="#222" stroke-width="0.05" textLength="8.02" lengthAdjust="spacingAndGlyphs" >low</text>
<text x="440.33" y="23.80" font-size="6.80" fill="#222" color="#222" textLength="27.60" lengthAdjust="spacingAndGlyphs" >vs Cybb</text>
<text x="467.92" y="21.69" font-size="4.76" fill="#222" color="#222" stroke-width="0.05" textLength="7.73" lengthAdjust="spacingAndGlyphs" >KO</text>
<text x="477.77" y="23.80" font-size="6.80" fill="#222" color="#222" textLength="23.22" lengthAdjust="spacingAndGlyphs" >CD11b</text>
<text x="500.99" y="21.69" font-size="4.76" fill="#222" color="#222" stroke-width="0.05" textLength="10.11" lengthAdjust="spacingAndGlyphs" >high</text>
<line x1="391.20" y1="26.70" x2="513.60" y2="26.70" stroke="#5a5a5a" stroke-width="1.5" />
<text x="411.50" y="37.70" font-size="8.40" fill="#222" color="#222" textLength="33.50" lengthAdjust="spacingAndGlyphs" >RNA-seq</text>
<text x="455.00" y="37.70" font-size="8.40" fill="#222" color="#222" textLength="38.00" lengthAdjust="spacingAndGlyphs" >ATAC-seq</text>
<circle cx="430.9" cy="70.9" r="29.5" fill="#e39aab" fill-opacity="0.85"/>
<circle cx="471.1" cy="70.9" r="29.5" fill="#9bb8cf" fill-opacity="0.85"/>
<clipPath id="cp70"><circle cx="430.9" cy="70.9" r="29.5"/></clipPath>
<circle cx="471.1" cy="70.9" r="29.5" fill="#9a7993" clip-path="url(#cp70)"/>
<text x="427.50" y="74.20" font-size="9.20" fill="#111" color="#111" text-anchor="middle" textLength="19.00" lengthAdjust="spacingAndGlyphs" >1616</text>
<text x="450.75" y="74.20" font-size="9.20" fill="#111" color="#111" text-anchor="middle" textLength="14.25" lengthAdjust="spacingAndGlyphs" >629</text>
<text x="477.00" y="74.20" font-size="9.20" fill="#111" color="#111" text-anchor="middle" textLength="19.00" lengthAdjust="spacingAndGlyphs" >2675</text>
<text x="382.00" y="118.30" font-size="6.80" fill="#222" color="#222" textLength="17.66" lengthAdjust="spacingAndGlyphs" >Cybb</text>
<text x="399.66" y="116.19" font-size="4.76" fill="#222" color="#222" stroke-width="0.05" textLength="7.65" lengthAdjust="spacingAndGlyphs" >KO</text>
<text x="409.41" y="118.30" font-size="6.80" fill="#222" color="#222" textLength="22.98" lengthAdjust="spacingAndGlyphs" >CD11b</text>
<text x="432.39" y="116.19" font-size="4.76" fill="#222" color="#222" stroke-width="0.05" textLength="7.94" lengthAdjust="spacingAndGlyphs" >low</text>
<text x="442.44" y="118.30" font-size="6.80" fill="#222" color="#222" textLength="27.32" lengthAdjust="spacingAndGlyphs" >vs Cybb</text>
<text x="469.76" y="116.19" font-size="4.76" fill="#222" color="#222" stroke-width="0.05" textLength="7.65" lengthAdjust="spacingAndGlyphs" >KO</text>
<text x="479.51" y="118.30" font-size="6.80" fill="#222" color="#222" textLength="22.98" lengthAdjust="spacingAndGlyphs" >CD11b</text>
<text x="502.49" y="116.19" font-size="4.76" fill="#222" color="#222" stroke-width="0.05" textLength="10.01" lengthAdjust="spacingAndGlyphs" >high</text>
<line x1="382.00" y1="120.60" x2="513.60" y2="120.60" stroke="#5a5a5a" stroke-width="1.5" />
<text x="412.80" y="131.00" font-size="8.40" fill="#222" color="#222" textLength="33.20" lengthAdjust="spacingAndGlyphs" >RNA-seq</text>
<text x="454.80" y="131.00" font-size="8.40" fill="#222" color="#222" textLength="38.20" lengthAdjust="spacingAndGlyphs" >ATAC-seq</text>
<circle cx="432.7" cy="163.2" r="29.2" fill="#e39aab" fill-opacity="0.85"/>
<circle cx="472.3" cy="163.2" r="29.2" fill="#9bb8cf" fill-opacity="0.85"/>
<clipPath id="cp163"><circle cx="432.7" cy="163.2" r="29.2"/></clipPath>
<circle cx="472.3" cy="163.2" r="29.2" fill="#9a7993" clip-path="url(#cp163)"/>
<text x="427.30" y="166.20" font-size="9.20" fill="#111" color="#111" text-anchor="middle" textLength="14.25" lengthAdjust="spacingAndGlyphs" >109</text>
<text x="451.00" y="166.20" font-size="9.20" fill="#111" color="#111" text-anchor="middle" textLength="9.50" lengthAdjust="spacingAndGlyphs" >48</text>
<text x="477.60" y="166.20" font-size="9.20" fill="#111" color="#111" text-anchor="middle" textLength="19.00" lengthAdjust="spacingAndGlyphs" >1082</text>
<text x="8.30" y="216.80" font-size="11.40" fill="#000" color="#000" font-weight="bold" textLength="8.10" lengthAdjust="spacingAndGlyphs" >D</text>
<text x="69.80" y="214.70" font-size="6.20" fill="#222" color="#222" textLength="11.00" lengthAdjust="spacingAndGlyphs" >2Kb</text>
<line x1="69.20" y1="217.10" x2="106.20" y2="217.10" stroke="#555" stroke-width="1.3" />
<line x1="64.40" y1="230.00" x2="324.60" y2="230.00" stroke="#e2e2e2" stroke-width="0.7" />
<line x1="64.40" y1="237.80" x2="324.60" y2="237.80" stroke="#e2e2e2" stroke-width="0.7" />
<line x1="64.40" y1="245.60" x2="324.60" y2="245.60" stroke="#e2e2e2" stroke-width="0.7" />
<line x1="64.40" y1="253.40" x2="324.60" y2="253.40" stroke="#e2e2e2" stroke-width="0.7" />
<line x1="64.40" y1="261.20" x2="324.60" y2="261.20" stroke="#e2e2e2" stroke-width="0.7" />
<line x1="64.40" y1="269.00" x2="324.60" y2="269.00" stroke="#e2e2e2" stroke-width="0.7" />
<line x1="64.40" y1="221.90" x2="325.60" y2="221.90" stroke="#6a6a6a" stroke-width="1.2" />
<line x1="70.00" y1="221.30" x2="70.00" y2="222.80" stroke="#777" stroke-width="0.5" />
<line x1="82.50" y1="221.30" x2="82.50" y2="222.80" stroke="#777" stroke-width="0.5" />
<line x1="95.00" y1="221.30" x2="95.00" y2="222.80" stroke="#777" stroke-width="0.5" />
<line x1="107.50" y1="221.30" x2="107.50" y2="222.80" stroke="#777" stroke-width="0.5" />
<line x1="120.00" y1="221.30" x2="120.00" y2="222.80" stroke="#777" stroke-width="0.5" />
<line x1="132.50" y1="221.30" x2="132.50" y2="222.80" stroke="#777" stroke-width="0.5" />
<line x1="145.00" y1="221.30" x2="145.00" y2="222.80" stroke="#777" stroke-width="0.5" />
<line x1="157.50" y1="221.30" x2="157.50" y2="222.80" stroke="#777" stroke-width="0.5" />
<line x1="170.00" y1="221.30" x2="170.00" y2="222.80" stroke="#777" stroke-width="0.5" />
<line x1="182.50" y1="221.30" x2="182.50" y2="222.80" stroke="#777" stroke-width="0.5" />
<line x1="195.00" y1="221.30" x2="195.00" y2="222.80" stroke="#777" stroke-width="0.5" />
<line x1="207.50" y1="221.30" x2="207.50" y2="222.80" stroke="#777" stroke-width="0.5" />
<line x1="220.00" y1="221.30" x2="220.00" y2="222.80" stroke="#777" stroke-width="0.5" />
<line x1="232.50" y1="221.30" x2="232.50" y2="222.80" stroke="#777" stroke-width="0.5" />
<line x1="245.00" y1="221.30" x2="245.00" y2="222.80" stroke="#777" stroke-width="0.5" />
<line x1="257.50" y1="221.30" x2="257.50" y2="222.80" stroke="#777" stroke-width="0.5" />
<line x1="270.00" y1="221.30" x2="270.00" y2="222.80" stroke="#777" stroke-width="0.5" />
<line x1="282.50" y1="221.30" x2="282.50" y2="222.80" stroke="#777" stroke-width="0.5" />
<line x1="295.00" y1="221.30" x2="295.00" y2="222.80" stroke="#777" stroke-width="0.5" />
<line x1="307.50" y1="221.30" x2="307.50" y2="222.80" stroke="#777" stroke-width="0.5" />
<line x1="320.00" y1="221.30" x2="320.00" y2="222.80" stroke="#777" stroke-width="0.5" />
<text x="61.00" y="227.20" font-size="6.40" fill="#222" color="#222" text-anchor="end" textLength="23.90" lengthAdjust="spacingAndGlyphs" >WT 4wks</text>
<text x="24.80" y="236.20" font-size="6.40" fill="#222" color="#222" textLength="14.52" lengthAdjust="spacingAndGlyphs" >Cybb</text>
<text x="39.32" y="234.22" font-size="4.48" fill="#222" color="#222" stroke-width="0.05" textLength="6.29" lengthAdjust="spacingAndGlyphs" >KO</text>
<text x="46.83" y="236.20" font-size="6.40" fill="#222" color="#222" textLength="14.17" lengthAdjust="spacingAndGlyphs" >4wks</text>
<text x="61.00" y="243.70" font-size="6.40" fill="#222" color="#222" text-anchor="end" textLength="27.20" lengthAdjust="spacingAndGlyphs" >WT 12wks</text>
<text x="12.20" y="252.90" font-size="6.40" fill="#222" color="#222" textLength="14.93" lengthAdjust="spacingAndGlyphs" >Cybb</text>
<text x="27.13" y="250.92" font-size="4.48" fill="#222" color="#222" stroke-width="0.05" textLength="6.47" lengthAdjust="spacingAndGlyphs" >KO</text>
<text x="34.85" y="252.90" font-size="6.40" fill="#222" color="#222" textLength="19.44" lengthAdjust="spacingAndGlyphs" >CD11b</text>
<text x="54.28" y="250.92" font-size="4.48" fill="#222" color="#222" stroke-width="0.05" textLength="6.72" lengthAdjust="spacingAndGlyphs" >low</text>
<text x="10.20" y="261.00" font-size="6.40" fill="#222" color="#222" textLength="15.01" lengthAdjust="spacingAndGlyphs" >Cybb</text>
<text x="25.21" y="259.02" font-size="4.48" fill="#222" color="#222" stroke-width="0.05" textLength="6.50" lengthAdjust="spacingAndGlyphs" >KO</text>
<text x="32.96" y="261.00" font-size="6.40" fill="#222" color="#222" textLength="19.53" lengthAdjust="spacingAndGlyphs" >CD11b</text>
<text x="52.49" y="259.02" font-size="4.48" fill="#222" color="#222" stroke-width="0.05" textLength="8.51" lengthAdjust="spacingAndGlyphs" >high</text>
<text x="61.00" y="267.90" font-size="6.40" fill="#222" color="#222" text-anchor="end" textLength="26.60" lengthAdjust="spacingAndGlyphs" >H3K4Me1</text>
<text x="61.00" y="276.50" font-size="6.40" fill="#222" color="#222" text-anchor="end" textLength="23.70" lengthAdjust="spacingAndGlyphs" >H3K27ac</text>
<path d="M70.90,230.00 L70.90,229.99 L71.20,229.98 L71.50,229.95 L71.80,229.88 L72.10,229.75 L72.40,229.56 L72.70,229.35 L73.00,229.17 L73.30,229.10 L73.60,229.17 L73.90,229.35 L74.20,229.56 L74.50,229.75 L74.80,229.88 L75.10,229.95 L75.40,229.98 L75.70,229.99 L75.70,230.00Z" fill="#7d98da" />
<path d="M158.58,230.00 L158.58,230.00 L158.88,229.98 L159.18,229.95 L159.48,229.86 L159.78,229.71 L160.08,229.53 L160.38,229.41 L160.68,229.43 L160.98,229.56 L161.28,229.74 L161.58,229.88 L161.88,229.96 L162.18,229.99 L162.42,230.00Z" fill="#7d98da" />
<path d="M205.08,230.00 L205.08,229.99 L205.38,229.97 L205.68,229.89 L205.98,229.72 L206.28,229.42 L206.58,229.06 L206.88,228.82 L207.18,228.85 L207.48,229.13 L207.78,229.48 L208.08,229.74 L208.38,229.82 L208.68,229.70 L208.98,229.30 L209.28,228.47 L209.58,227.14 L209.88,225.46 L210.18,223.84 L210.48,222.89 L210.78,223.00 L211.08,224.13 L211.38,225.81 L211.68,227.45 L211.98,228.68 L212.28,229.41 L212.58,229.78 L212.88,229.93 L213.00,230.00Z" fill="#7d98da" />
<path d="M249.26,230.00 L249.26,229.99 L249.56,229.97 L249.86,229.90 L250.16,229.74 L250.46,229.47 L250.76,229.08 L251.06,228.69 L251.36,228.43 L251.66,228.44 L251.96,228.71 L252.26,229.11 L252.56,229.49 L252.86,229.76 L253.16,229.90 L253.46,229.97 L253.74,230.00Z" fill="#7d98da" />
<path d="M257.68,230.00 L257.68,230.00 L257.98,229.98 L258.28,229.95 L258.58,229.86 L258.88,229.71 L259.18,229.53 L259.48,229.41 L259.78,229.43 L260.08,229.56 L260.38,229.74 L260.68,229.88 L260.98,229.96 L261.28,229.99 L261.52,230.00Z" fill="#7d98da" />
<path d="M271.70,230.00 L271.70,229.99 L272.00,229.96 L272.30,229.82 L272.60,229.51 L272.90,229.06 L273.20,228.73 L273.50,228.80 L273.80,229.21 L274.10,229.64 L274.40,229.88 L274.70,229.97 L274.90,230.00Z" fill="#7d98da" />
<path d="M68.18,237.80 L68.18,237.80 L68.48,237.80 L68.78,237.79 L69.08,237.79 L69.38,237.79 L69.68,237.78 L69.98,237.77 L70.28,237.75 L70.58,237.73 L70.88,237.69 L71.18,237.63 L71.48,237.51 L71.78,237.28 L72.08,236.88 L72.38,236.32 L72.68,235.67 L72.98,235.13 L73.28,234.90 L73.58,235.08 L73.88,235.59 L74.18,236.24 L74.48,236.82 L74.78,237.23 L75.08,237.48 L75.38,237.62 L75.68,237.68 L75.98,237.72 L76.28,237.75 L76.58,237.76 L76.88,237.78 L77.18,237.78 L77.48,237.79 L77.78,237.79 L78.08,237.80 L78.38,237.80 L78.42,237.80Z" fill="#f39a90" />
<path d="M205.08,237.80 L205.08,237.79 L205.38,237.77 L205.68,237.71 L205.98,237.56 L206.28,237.31 L206.58,237.02 L206.88,236.82 L207.18,236.84 L207.48,237.07 L207.78,237.36 L208.08,237.58 L208.38,237.64 L208.68,237.51 L208.98,237.10 L209.28,236.27 L209.58,234.94 L209.88,233.26 L210.18,231.64 L210.48,230.69 L210.78,230.80 L211.08,231.93 L211.38,233.61 L211.68,235.25 L211.98,236.48 L212.28,237.21 L212.58,237.58 L212.88,237.73 L213.00,237.80Z" fill="#f39a90" />
<path d="M249.26,237.80 L249.26,237.78 L249.56,237.74 L249.86,237.61 L250.16,237.32 L250.46,236.81 L250.76,236.08 L251.06,235.34 L251.36,234.86 L251.66,234.88 L251.96,235.38 L252.26,236.14 L252.56,236.85 L252.86,237.35 L253.16,237.62 L253.46,237.74 L253.74,237.80Z" fill="#f39a90" />
<path d="M257.68,237.80 L257.68,237.79 L257.98,237.78 L258.28,237.72 L258.58,237.59 L258.88,237.36 L259.18,237.10 L259.48,236.92 L259.78,236.94 L260.08,237.15 L260.38,237.41 L260.68,237.62 L260.98,237.74 L261.28,237.78 L261.52,237.80Z" fill="#f39a90" />
<path d="M271.70,237.80 L271.70,237.80 L272.00,237.79 L272.30,237.76 L272.60,237.69 L272.90,237.58 L273.20,237.51 L273.50,237.52 L273.80,237.62 L274.10,237.72 L274.40,237.77 L274.70,237.79 L274.90,237.80Z" fill="#f39a90" />
<path d="M70.90,245.60 L70.90,245.60 L71.20,245.59 L71.50,245.56 L71.80,245.51 L72.10,245.41 L72.40,245.26 L72.70,245.09 L73.00,244.95 L73.30,244.90 L73.60,244.95 L73.90,245.09 L74.20,245.26 L74.50,245.41 L74.80,245.51 L75.10,245.56 L75.40,245.59 L75.70,245.60 L75.70,245.60Z" fill="#2a3aa3" />
<path d="M158.58,245.60 L158.58,245.60 L158.88,245.59 L159.18,245.56 L159.48,245.48 L159.78,245.36 L160.08,245.21 L160.38,245.11 L160.68,245.12 L160.98,245.24 L161.28,245.39 L161.58,245.50 L161.88,245.56 L162.18,245.59 L162.42,245.60Z" fill="#2a3aa3" />
<path d="M167.64,245.60 L167.64,245.60 L167.94,245.59 L168.24,245.57 L168.54,245.53 L168.84,245.46 L169.14,245.35 L169.44,245.22 L169.74,245.09 L170.04,245.01 L170.34,245.01 L170.64,245.08 L170.94,245.21 L171.24,245.34 L171.54,245.45 L171.84,245.53 L172.14,245.57 L172.44,245.59 L172.74,245.60 L172.76,245.60Z" fill="#2a3aa3" />
<path d="M205.08,245.60 L205.08,245.59 L205.38,245.57 L205.68,245.49 L205.98,245.32 L206.28,245.02 L206.58,244.66 L206.88,244.42 L207.18,244.45 L207.48,244.73 L207.78,245.08 L208.08,245.34 L208.38,245.43 L208.68,245.31 L208.98,244.92 L209.28,244.11 L209.58,242.82 L209.88,241.18 L210.18,239.62 L210.48,238.69 L210.78,238.80 L211.08,239.90 L211.38,241.52 L211.68,243.12 L211.98,244.31 L212.28,245.03 L212.58,245.39 L212.88,245.53 L213.00,245.60Z" fill="#2a3aa3" />
<path d="M249.26,245.60 L249.26,245.58 L249.56,245.53 L249.86,245.39 L250.16,245.09 L250.46,244.54 L250.76,243.77 L251.06,242.97 L251.36,242.46 L251.66,242.48 L251.96,243.02 L252.26,243.83 L252.56,244.58 L252.86,245.12 L253.16,245.41 L253.46,245.54 L253.74,245.60Z" fill="#2a3aa3" />
<path d="M257.68,245.60 L257.68,245.59 L257.98,245.54 L258.28,245.40 L258.58,245.08 L258.88,244.53 L259.18,243.88 L259.48,243.44 L259.78,243.50 L260.08,244.00 L260.38,244.65 L260.68,245.16 L260.98,245.44 L261.28,245.56 L261.52,245.60Z" fill="#2a3aa3" />
<path d="M271.70,245.60 L271.70,245.60 L272.00,245.58 L272.30,245.52 L272.60,245.37 L272.90,245.16 L273.20,245.01 L273.50,245.05 L273.80,245.24 L274.10,245.43 L274.40,245.55 L274.70,245.59 L274.90,245.60Z" fill="#2a3aa3" />
<path d="M68.18,253.40 L68.18,253.40 L68.48,253.39 L68.78,253.39 L69.08,253.38 L69.38,253.37 L69.68,253.35 L69.98,253.33 L70.28,253.30 L70.58,253.25 L70.88,253.18 L71.18,253.06 L71.48,252.82 L71.78,252.38 L72.08,251.62 L72.38,250.54 L72.68,249.29 L72.98,248.25 L73.28,247.80 L73.58,248.15 L73.88,249.13 L74.18,250.37 L74.48,251.49 L74.78,252.30 L75.08,252.78 L75.38,253.04 L75.68,253.17 L75.98,253.24 L76.28,253.29 L76.58,253.33 L76.88,253.35 L77.18,253.37 L77.48,253.38 L77.78,253.39 L78.08,253.39 L78.38,253.40 L78.42,253.40Z" fill="#ee3a1a" />
<path d="M158.58,253.40 L158.58,253.39 L158.88,253.34 L159.18,253.20 L159.48,252.88 L159.78,252.33 L160.08,251.68 L160.38,251.24 L160.68,251.30 L160.98,251.80 L161.28,252.45 L161.58,252.96 L161.88,253.24 L162.18,253.36 L162.42,253.40Z" fill="#ee3a1a" />
<path d="M167.64,253.40 L167.64,253.40 L167.94,253.39 L168.24,253.39 L168.54,253.37 L168.84,253.33 L169.14,253.28 L169.44,253.21 L169.74,253.15 L170.04,253.11 L170.34,253.10 L170.64,253.14 L170.94,253.20 L171.24,253.27 L171.54,253.33 L171.84,253.36 L172.14,253.38 L172.44,253.39 L172.74,253.40 L172.76,253.40Z" fill="#ee3a1a" />
<path d="M205.08,253.40 L205.08,253.39 L205.38,253.33 L205.68,253.18 L205.98,252.81 L206.28,252.18 L206.58,251.44 L206.88,250.95 L207.18,251.01 L207.48,251.58 L207.78,252.32 L208.08,252.88 L208.38,253.13 L208.68,253.08 L208.98,252.69 L209.28,251.87 L209.58,250.54 L209.88,248.86 L210.18,247.24 L210.48,246.29 L210.78,246.40 L211.08,247.53 L211.38,249.21 L211.68,250.85 L211.98,252.08 L212.28,252.81 L212.58,253.18 L212.88,253.33 L213.00,253.40Z" fill="#ee3a1a" />
<path d="M249.26,253.40 L249.26,253.37 L249.56,253.31 L249.86,253.13 L250.16,252.73 L250.46,252.01 L250.76,251.00 L251.06,249.95 L251.36,249.28 L251.66,249.31 L251.96,250.02 L252.26,251.07 L252.56,252.07 L252.86,252.76 L253.16,253.15 L253.46,253.32 L253.74,253.40Z" fill="#ee3a1a" />
<path d="M257.68,253.40 L257.68,253.40 L257.98,253.39 L258.28,253.38 L258.58,253.35 L258.88,253.30 L259.18,253.24 L259.48,253.20 L259.78,253.21 L260.08,253.25 L260.38,253.31 L260.68,253.36 L260.98,253.39 L261.28,253.40 L261.52,253.40Z" fill="#ee3a1a" />
<path d="M271.70,253.40 L271.70,253.40 L272.00,253.38 L272.30,253.32 L272.60,253.17 L272.90,252.96 L273.20,252.81 L273.50,252.85 L273.80,253.04 L274.10,253.23 L274.40,253.35 L274.70,253.39 L274.90,253.40Z" fill="#ee3a1a" />
<path d="M68.18,261.20 L68.18,261.20 L68.48,261.19 L68.78,261.19 L69.08,261.18 L69.38,261.16 L69.68,261.14 L69.98,261.11 L70.28,261.06 L70.58,261.00 L70.88,260.91 L71.18,260.75 L71.48,260.43 L71.78,259.84 L72.08,258.84 L72.38,257.41 L72.68,255.77 L72.98,254.39 L73.28,253.80 L73.58,254.26 L73.88,255.56 L74.18,257.20 L74.48,258.68 L74.78,259.74 L75.08,260.37 L75.38,260.72 L75.68,260.89 L75.98,260.99 L76.28,261.06 L76.58,261.10 L76.88,261.13 L77.18,261.16 L77.48,261.17 L77.78,261.18 L78.08,261.19 L78.38,261.19 L78.42,261.20Z" fill="#6e0c0c" />
<path d="M158.58,261.20 L158.58,261.19 L158.88,261.16 L159.18,261.06 L159.48,260.82 L159.78,260.42 L160.08,259.95 L160.38,259.63 L160.68,259.67 L160.98,260.04 L161.28,260.51 L161.58,260.88 L161.88,261.09 L162.18,261.17 L162.42,261.20Z" fill="#6e0c0c" />
<path d="M167.64,261.20 L167.64,261.19 L167.94,261.17 L168.24,261.11 L168.54,260.99 L168.84,260.78 L169.14,260.45 L169.44,260.05 L169.74,259.67 L170.04,259.44 L170.34,259.43 L170.64,259.65 L170.94,260.03 L171.24,260.43 L171.54,260.76 L171.84,260.98 L172.14,261.10 L172.44,261.16 L172.74,261.19 L172.76,261.20Z" fill="#6e0c0c" />
<path d="M174.46,261.20 L174.46,261.19 L174.76,261.17 L175.06,261.12 L175.36,261.01 L175.66,260.80 L175.96,260.51 L176.26,260.22 L176.56,260.02 L176.86,260.03 L177.16,260.23 L177.46,260.53 L177.76,260.82 L178.06,261.02 L178.36,261.13 L178.66,261.18 L178.94,261.20Z" fill="#6e0c0c" />
<path d="M205.08,261.20 L205.08,261.19 L205.38,261.17 L205.68,261.11 L205.98,260.96 L206.28,260.71 L206.58,260.42 L206.88,260.22 L207.18,260.24 L207.48,260.47 L207.78,260.77 L208.08,260.99 L208.38,261.08 L208.68,261.02 L208.98,260.79 L209.28,260.31 L209.58,259.53 L209.88,258.55 L210.18,257.61 L210.48,257.05 L210.78,257.12 L211.08,257.78 L211.38,258.75 L211.68,259.71 L211.98,260.43 L212.28,260.86 L212.58,261.07 L212.88,261.16 L213.00,261.20Z" fill="#6e0c0c" />
<path d="M223.28,261.20 L223.28,261.19 L223.58,261.18 L223.88,261.12 L224.18,260.99 L224.48,260.76 L224.78,260.50 L225.08,260.32 L225.38,260.34 L225.68,260.55 L225.98,260.81 L226.28,261.02 L226.58,261.14 L226.88,261.18 L227.12,261.20Z" fill="#6e0c0c" />
<path d="M249.26,261.20 L249.26,261.19 L249.56,261.16 L249.86,261.07 L250.16,260.88 L250.46,260.54 L250.76,260.06 L251.06,259.56 L251.36,259.24 L251.66,259.25 L251.96,259.59 L252.26,260.09 L252.56,260.56 L252.86,260.90 L253.16,261.08 L253.46,261.16 L253.74,261.20Z" fill="#6e0c0c" />
<path d="M296.08,261.20 L296.08,261.20 L296.38,261.19 L296.68,261.16 L296.98,261.08 L297.28,260.96 L297.58,260.81 L297.88,260.71 L298.18,260.72 L298.48,260.84 L298.78,260.99 L299.08,261.10 L299.38,261.16 L299.68,261.19 L299.92,261.20Z" fill="#6e0c0c" />
<path d="M303.08,261.20 L303.08,261.20 L303.38,261.19 L303.68,261.16 L303.98,261.08 L304.28,260.96 L304.58,260.81 L304.88,260.71 L305.18,260.72 L305.48,260.84 L305.78,260.99 L306.08,261.10 L306.38,261.16 L306.68,261.19 L306.92,261.20Z" fill="#6e0c0c" />
<path d="M316.08,261.20 L316.08,261.20 L316.38,261.18 L316.68,261.13 L316.98,261.01 L317.28,260.81 L317.58,260.57 L317.88,260.42 L318.18,260.44 L318.48,260.62 L318.78,260.86 L319.08,261.04 L319.38,261.14 L319.68,261.18 L319.92,261.20Z" fill="#6e0c0c" />
<path d="M64.4,269.00 L64.4,269.00 L64.8,269.00 L65.1,268.45 L65.5,267.44 L65.8,266.43 L66.2,265.41 L66.5,264.40 L66.9,263.79 L67.2,264.80 L67.6,265.81 L67.9,266.82 L68.2,266.73 L68.6,265.61 L69.0,264.49 L69.3,264.04 L69.7,265.16 L70.0,266.28 L70.4,265.45 L70.7,264.35 L71.1,264.15 L71.4,265.25 L71.8,266.35 L72.1,267.46 L72.5,268.56 L72.8,268.66 L73.2,267.76 L73.5,266.87 L73.9,265.97 L74.2,265.39 L74.6,266.28 L74.9,265.55 L75.2,264.35 L75.6,263.15 L76.0,264.24 L76.3,265.00 L76.7,263.86 L77.0,262.91 L77.4,264.05 L77.7,265.19 L78.1,266.33 L78.4,267.48 L78.8,267.90 L79.1,266.49 L79.5,265.09 L79.8,263.69 L80.2,264.65 L80.5,266.05 L80.9,264.85 L81.2,263.89 L81.6,265.31 L81.9,266.73 L82.2,266.64 L82.6,265.42 L83.0,264.77 L83.3,265.99 L83.7,267.20 L84.0,268.14 L84.4,267.58 L84.7,267.02 L85.1,266.47 L85.4,266.30 L85.8,266.85 L86.1,267.41 L86.5,267.97 L86.8,267.87 L87.2,267.18 L87.5,266.49 L87.9,265.89 L88.2,266.58 L88.6,267.27 L88.9,267.96 L89.2,268.65 L89.6,269.00 L90.0,269.00 L90.3,269.00 L90.7,269.00 L91.0,269.00 L91.4,269.00 L91.7,269.00 L92.1,269.00 L92.4,269.00 L92.8,269.00 L93.1,269.00 L93.5,269.00 L93.8,269.00 L94.2,269.00 L94.5,269.00 L94.9,269.00 L95.2,269.00 L95.6,269.00 L95.9,269.00 L96.2,269.00 L96.6,269.00 L97.0,269.00 L97.3,269.00 L97.7,269.00 L98.0,269.00 L98.3,269.00 L98.7,269.00 L99.1,269.00 L99.4,269.00 L99.8,269.00 L100.1,269.00 L100.5,269.00 L100.8,269.00 L101.2,269.00 L101.5,269.00 L101.8,269.00 L102.2,269.00 L102.6,269.00 L102.9,269.00 L103.2,269.00 L103.6,269.00 L104.0,269.00 L104.3,269.00 L104.7,269.00 L105.0,269.00 L105.3,269.00 L105.7,269.00 L106.1,269.00 L106.4,269.00 L106.8,269.00 L107.1,269.00 L107.5,269.00 L107.8,268.43 L108.2,267.77 L108.5,267.11 L108.8,266.45 L109.2,266.83 L109.6,267.49 L109.9,268.12 L110.2,267.72 L110.6,267.32 L111.0,267.04 L111.3,267.44 L111.7,267.84 L112.0,268.16 L112.3,267.39 L112.7,266.62 L113.1,265.85 L113.4,266.19 L113.8,266.96 L114.1,267.73 L114.5,268.50 L114.8,269.00 L115.2,269.00 L115.5,269.00 L115.8,268.11 L116.2,267.19 L116.6,266.27 L116.9,265.91 L117.2,266.83 L117.6,267.16 L118.0,266.10 L118.3,265.05 L118.7,264.50 L119.0,265.55 L119.3,266.60 L119.7,267.65 L120.1,268.71 L120.4,269.00 L120.8,269.00 L121.1,268.53 L121.5,267.50 L121.8,266.46 L122.2,265.43 L122.5,265.76 L122.8,266.80 L123.2,267.83 L123.6,268.87 L123.9,268.18 L124.2,267.08 L124.6,265.97 L125.0,264.87 L125.3,265.08 L125.7,266.18 L126.0,267.29 L126.3,268.39 L126.7,269.00 L127.1,269.00 L127.4,269.00 L127.8,269.00 L128.1,269.00 L128.4,269.00 L128.8,269.00 L129.2,269.00 L129.5,269.00 L129.9,269.00 L130.2,269.00 L130.6,269.00 L130.9,269.00 L131.2,267.81 L131.6,266.44 L131.9,265.07 L132.3,263.70 L132.7,265.06 L133.0,266.43 L133.3,267.68 L133.7,266.75 L134.1,265.83 L134.4,266.13 L134.8,267.06 L135.1,267.98 L135.4,268.91 L135.8,268.93 L136.2,268.11 L136.5,267.28 L136.8,266.45 L137.2,265.63 L137.6,265.46 L137.9,266.29 L138.2,267.12 L138.6,267.72 L138.9,266.94 L139.3,266.15 L139.7,265.36 L140.0,265.57 L140.3,266.36 L140.7,266.62 L141.1,265.43 L141.4,264.53 L141.8,265.73 L142.1,266.92 L142.4,268.11 L142.8,267.51 L143.2,266.64 L143.5,265.77 L143.8,265.85 L144.2,266.73 L144.6,267.60 L144.9,268.47 L145.2,269.00 L145.6,269.00 L145.9,268.70 L146.3,267.55 L146.7,266.40 L147.0,265.24 L147.3,264.18 L147.7,265.34 L148.1,266.49 L148.4,267.65 L148.8,268.80 L149.1,269.00 L149.4,268.56 L149.8,267.74 L150.2,266.91 L150.5,266.08 L150.8,265.50 L151.2,266.33 L151.6,267.16 L151.9,267.98 L152.2,268.81 L152.6,269.00 L152.9,268.70 L153.3,267.75 L153.7,266.80 L154.0,265.85 L154.3,265.81 L154.7,266.76 L155.1,267.71 L155.4,268.65 L155.8,269.00 L156.1,269.00 L156.4,269.00 L156.8,269.00 L157.2,269.00 L157.5,269.00 L157.8,269.00 L158.2,268.39 L158.6,267.65 L158.9,266.90 L159.2,266.16 L159.6,265.42 L159.9,265.78 L160.3,266.52 L160.7,267.27 L161.0,267.35 L161.3,266.32 L161.7,265.30 L162.1,265.96 L162.4,266.98 L162.8,266.02 L163.1,264.92 L163.4,265.16 L163.8,266.26 L164.2,267.36 L164.5,268.46 L164.8,267.88 L165.2,266.97 L165.6,266.07 L165.9,265.16 L166.2,265.60 L166.6,266.50 L166.9,267.41 L167.3,268.32 L167.7,269.00 L168.0,269.00 L168.3,269.00 L168.7,269.00 L169.1,269.00 L169.4,269.00 L169.8,269.00 L170.1,269.00 L170.4,268.81 L170.8,268.45 L171.2,268.08 L171.5,267.72 L171.8,267.36 L172.2,267.21 L172.6,267.57 L172.9,267.93 L173.2,268.30 L173.6,268.44 L173.9,268.42 L174.3,268.54 L174.7,268.66 L175.0,268.78 L175.3,268.89 L175.7,269.00 L176.1,268.83 L176.4,268.65 L176.8,268.48 L177.1,268.31 L177.4,268.48 L177.8,268.65 L178.1,268.83 L178.5,269.00 L178.8,268.96 L179.2,268.73 L179.6,268.50 L179.9,268.27 L180.2,268.10 L180.6,268.34 L180.9,268.57 L181.3,268.80 L181.6,269.00 L182.0,269.00 L182.3,268.89 L182.7,268.70 L183.1,268.51 L183.4,268.32 L183.8,268.12 L184.1,268.24 L184.4,268.43 L184.8,268.62 L185.1,268.81 L185.5,268.70 L185.8,268.54 L186.2,268.45 L186.6,268.61 L186.9,268.76 L187.2,268.92 L187.6,269.00 L187.9,269.00 L188.3,268.90 L188.6,268.76 L189.0,268.63 L189.3,268.49 L189.7,268.35 L190.1,268.42 L190.4,268.56 L190.8,268.60 L191.1,268.41 L191.4,268.22 L191.8,268.17 L192.1,268.36 L192.5,268.55 L192.8,268.66 L193.2,268.53 L193.6,268.40 L193.9,268.45 L194.2,268.57 L194.6,268.52 L194.9,268.38 L195.3,268.41 L195.7,268.56 L196.0,268.70 L196.3,268.85 L196.7,268.99 L197.1,268.97 L197.4,268.77 L197.8,268.57 L198.1,268.37 L198.4,268.17 L198.8,268.35 L199.2,268.56 L199.5,268.76 L199.8,268.96 L200.2,269.00 L200.5,269.00 L200.9,268.91 L201.2,268.73 L201.6,268.55 L201.9,268.37 L202.3,268.49 L202.7,268.67 L203.0,268.77 L203.3,268.56 L203.7,268.35 L204.0,268.29 L204.4,268.50 L204.8,268.65 L205.1,268.49 L205.4,268.33 L205.8,268.33 L206.2,268.49 L206.5,268.53 L206.8,268.39 L207.2,268.25 L207.5,268.39 L207.9,268.54 L208.2,268.68 L208.6,268.82 L208.9,268.96 L209.3,268.94 L209.7,268.77 L210.0,268.59 L210.3,268.42 L210.7,268.24 L211.0,268.22 L211.4,268.39 L211.8,268.57 L212.1,268.74 L212.4,268.91 L212.8,268.77 L213.2,268.60 L213.5,268.44 L213.8,268.50 L214.2,268.45 L214.5,268.27 L214.9,268.08 L215.2,268.26 L215.6,268.45 L215.9,268.63 L216.3,268.82 L216.7,269.00 L217.0,268.97 L217.3,268.87 L217.7,268.78 L218.0,268.68 L218.4,268.59 L218.8,268.60 L219.1,268.69 L219.4,268.78 L219.8,268.84 L220.2,268.64 L220.5,268.43 L220.8,268.22 L221.2,268.23 L221.5,268.44 L221.9,268.64 L222.2,268.85 L222.6,269.00 L222.9,269.00 L223.3,268.94 L223.7,268.83 L224.0,268.71 L224.3,268.59 L224.7,268.47 L225.0,268.54 L225.4,268.66 L225.8,268.78 L226.1,268.90 L226.4,268.82 L226.8,268.64 L227.2,268.45 L227.5,268.27 L227.8,268.08 L228.2,268.26 L228.5,268.44 L228.9,268.63 L229.2,268.81 L229.6,268.71 L229.9,268.55 L230.3,268.38 L230.7,268.21 L231.0,268.17 L231.3,268.34 L231.7,268.50 L232.0,268.58 L232.4,268.41 L232.8,268.25 L233.1,268.18 L233.4,268.35 L233.8,268.51 L234.2,268.67 L234.5,268.84 L234.8,268.91 L235.2,268.76 L235.5,268.61 L235.9,268.46 L236.2,268.31 L236.6,268.30 L236.9,268.46 L237.3,268.61 L237.7,268.76 L238.0,268.91 L238.3,268.90 L238.7,268.73 L239.0,268.56 L239.4,268.39 L239.8,268.21 L240.1,268.30 L240.4,268.48 L240.8,268.65 L241.2,268.61 L241.5,268.44 L241.8,268.26 L242.2,268.25 L242.5,268.42 L242.9,268.41 L243.2,268.26 L243.6,268.20 L243.9,268.35 L244.3,268.51 L244.7,268.66 L245.0,268.82 L245.3,268.98 L245.7,268.83 L246.0,268.63 L246.4,268.43 L246.8,268.23 L247.1,268.22 L247.4,268.42 L247.8,268.62 L248.2,268.82 L248.5,268.98 L248.8,268.80 L249.2,268.61 L249.5,268.42 L249.9,268.24 L250.2,268.29 L250.6,268.47 L250.9,268.66 L251.3,268.85 L251.7,268.99 L252.0,268.88 L252.3,268.77 L252.7,268.65 L253.0,268.54 L253.4,268.45 L253.8,268.56 L254.1,268.48 L254.4,268.29 L254.8,268.22 L255.2,268.40 L255.5,267.75 L255.8,266.99 L256.2,266.23 L256.5,265.59 L256.9,266.35 L257.2,267.11 L257.6,267.87 L257.9,268.63 L258.3,267.89 L258.6,266.99 L259.0,266.09 L259.4,265.40 L259.7,266.30 L260.0,267.03 L260.4,266.44 L260.8,266.40 L261.1,266.99 L261.4,267.57 L261.8,268.16 L262.1,268.35 L262.5,268.33 L262.9,268.47 L263.2,268.61 L263.5,268.74 L263.9,268.76 L264.2,268.59 L264.6,268.42 L264.9,268.25 L265.3,268.13 L265.6,268.30 L266.0,268.47 L266.4,268.64 L266.7,268.45 L267.0,268.20 L267.4,268.08 L267.8,268.33 L268.1,268.57 L268.4,268.63 L268.8,268.44 L269.1,268.24 L269.5,268.05 L269.9,268.09 L270.2,268.28 L270.5,268.48 L270.9,268.67 L271.2,268.86 L271.6,268.76 L271.9,268.26 L272.3,267.76 L272.6,267.25 L273.0,266.75 L273.4,267.00 L273.7,267.50 L274.0,268.00 L274.4,267.96 L274.8,267.53 L275.1,267.11 L275.4,267.46 L275.8,267.88 L276.1,268.30 L276.5,268.72 L276.9,268.93 L277.2,268.72 L277.5,268.51 L277.9,268.31 L278.2,268.10 L278.6,268.04 L278.9,268.25 L279.3,268.46 L279.6,268.67 L280.0,268.88 L280.4,269.00 L280.7,269.00 L281.0,268.80 L281.4,268.60 L281.8,268.40 L282.1,268.19 L282.4,268.40 L282.8,268.60 L283.1,268.80 L283.5,268.31 L283.9,267.76 L284.2,267.22 L284.5,266.90 L284.9,267.45 L285.2,268.00 L285.6,268.27 L285.9,267.69 L286.3,267.11 L286.6,266.53 L287.0,266.74 L287.4,267.33 L287.7,267.79 L288.0,267.27 L288.4,266.75 L288.8,266.23 L289.1,266.60 L289.4,267.13 L289.8,267.65 L290.1,268.17 L290.5,268.66 L290.9,268.47 L291.2,268.30 L291.5,268.49 L291.9,268.68 L292.2,268.87 L292.6,269.00 L292.9,268.97 L293.3,268.84 L293.6,268.71 L294.0,268.58 L294.4,268.45 L294.7,268.39 L295.0,268.52 L295.4,268.65 L295.8,268.46 L296.1,267.69 L296.4,266.92 L296.8,266.15 L297.1,265.38 L297.5,265.54 L297.9,266.31 L298.2,266.49 L298.5,265.75 L298.9,266.34 L299.2,266.32 L299.6,265.12 L299.9,264.28 L300.3,265.47 L300.6,266.67 L301.0,267.05 L301.4,266.48 L301.7,266.56 L302.0,267.14 L302.4,267.71 L302.8,267.42 L303.1,266.48 L303.4,265.53 L303.8,264.59 L304.1,265.17 L304.5,266.12 L304.9,267.07 L305.2,268.01 L305.5,268.61 L305.9,267.57 L306.2,266.54 L306.6,265.50 L306.9,264.47 L307.3,264.41 L307.6,265.45 L308.0,266.48 L308.4,266.34 L308.7,265.26 L309.0,265.21 L309.4,266.29 L309.8,265.71 L310.1,264.85 L310.4,265.42 L310.8,266.28 L311.1,266.98 L311.5,266.09 L311.9,265.20 L312.2,266.05 L312.5,266.94 L312.9,267.83 L313.2,268.72 L313.6,267.89 L313.9,266.97 L314.3,266.05 L314.6,265.13 L315.0,264.99 L315.4,265.91 L315.7,266.83 L316.0,267.75 L316.4,268.55 L316.8,267.74 L317.1,266.93 L317.4,266.12 L317.8,265.31 L318.1,265.24 L318.5,266.05 L318.9,266.85 L319.2,267.66 L319.5,268.47 L319.9,268.56 L320.2,267.99 L320.6,267.42 L321.0,266.84 L321.3,266.27 L321.6,266.17 L322.0,266.74 L322.4,267.31 L322.7,267.88 L323.0,268.45 L323.4,268.15 L323.8,267.41 L324.1,266.68 L324.5,265.94 L324.8,266.20 L325.1,266.94 L325.5,267.67 L325.6,269.00Z" fill="#1e8a3c" />
<path d="M64.4,277.30 L64.4,275.83 L64.8,275.05 L65.2,274.13 L65.6,274.49 L66.0,275.19 L66.4,274.67 L66.8,274.60 L67.2,272.74 L67.6,271.89 L68.0,271.82 L68.4,272.25 L68.8,272.53 L69.2,274.19 L69.6,274.24 L70.0,274.81 L70.4,272.98 L70.8,274.18 L71.2,272.46 L71.6,273.72 L72.0,272.24 L72.4,272.69 L72.8,272.96 L73.2,271.93 L73.6,274.14 L74.0,275.12 L74.4,272.96 L74.8,272.66 L75.2,273.87 L75.6,271.48 L76.0,270.07 L76.4,272.21 L76.8,272.43 L77.2,273.83 L77.6,274.24 L78.0,273.78 L78.4,274.81 L78.8,273.92 L79.2,274.90 L79.6,275.15 L80.0,273.39 L80.4,273.41 L80.8,273.26 L81.2,272.50 L81.6,272.53 L82.0,273.05 L82.4,274.63 L82.8,273.47 L83.2,272.26 L83.6,271.80 L84.0,272.69 L84.4,274.13 L84.8,275.02 L85.2,275.07 L85.6,275.12 L86.0,275.80 L86.4,275.99 L86.8,275.90 L87.2,275.61 L87.6,274.95 L88.0,275.00 L88.4,275.76 L88.8,274.96 L89.2,275.09 L89.6,275.03 L90.0,275.47 L90.4,275.41 L90.8,275.44 L91.2,274.85 L91.6,275.61 L92.0,275.39 L92.4,275.86 L92.8,275.46 L93.2,276.16 L93.6,276.28 L94.0,276.32 L94.4,276.11 L94.8,276.56 L95.2,276.49 L95.6,276.66 L96.0,276.71 L96.4,276.62 L96.8,276.28 L97.2,276.38 L97.6,276.15 L98.0,276.47 L98.4,276.19 L98.8,276.34 L99.2,276.52 L99.6,276.20 L100.0,275.79 L100.4,276.24 L100.8,276.27 L101.2,275.75 L101.6,275.87 L102.0,276.08 L102.4,276.51 L102.8,276.75 L103.2,276.32 L103.6,275.81 L104.0,275.61 L104.4,275.94 L104.8,276.46 L105.2,276.53 L105.6,276.19 L106.0,275.87 L106.4,275.72 L106.8,275.93 L107.2,275.67 L107.6,275.46 L108.0,274.99 L108.4,275.19 L108.8,274.00 L109.2,273.23 L109.6,274.28 L110.0,274.70 L110.4,273.76 L110.8,274.56 L111.2,273.81 L111.6,274.35 L112.0,274.47 L112.4,274.67 L112.8,275.52 L113.2,275.92 L113.6,276.19 L114.0,275.88 L114.4,275.69 L114.8,276.14 L115.2,275.60 L115.6,275.74 L116.0,276.00 L116.4,275.92 L116.8,275.21 L117.2,275.26 L117.6,275.19 L118.0,274.78 L118.4,274.47 L118.8,274.55 L119.2,275.04 L119.6,275.12 L120.0,274.78 L120.4,274.72 L120.8,274.95 L121.2,275.38 L121.6,275.61 L122.0,275.26 L122.4,275.27 L122.8,275.97 L123.2,275.48 L123.6,274.91 L124.0,274.70 L124.4,274.43 L124.8,274.26 L125.2,274.67 L125.6,274.58 L126.0,275.09 L126.4,275.78 L126.8,275.84 L127.2,275.93 L127.6,275.14 L128.0,274.95 L128.4,275.00 L128.8,274.87 L129.2,275.50 L129.6,275.21 L130.0,274.70 L130.4,274.86 L130.8,275.22 L131.2,275.12 L131.6,275.22 L132.0,274.56 L132.4,275.25 L132.8,275.77 L133.2,275.64 L133.6,274.78 L134.0,274.10 L134.4,273.83 L134.8,273.01 L135.2,273.68 L135.6,274.83 L136.0,274.44 L136.4,274.28 L136.8,274.85 L137.2,273.94 L137.6,274.27 L138.0,274.76 L138.4,274.84 L138.8,273.39 L139.2,274.84 L139.6,274.83 L140.0,275.01 L140.4,275.29 L140.8,274.88 L141.2,275.15 L141.6,273.55 L142.0,273.64 L142.4,273.22 L142.8,274.34 L143.2,274.27 L143.6,273.90 L144.0,273.12 L144.4,274.07 L144.8,274.11 L145.2,273.15 L145.6,272.59 L146.0,273.73 L146.4,273.66 L146.8,273.08 L147.2,273.69 L147.6,273.44 L148.0,273.38 L148.4,272.71 L148.8,273.27 L149.2,273.31 L149.6,274.01 L150.0,273.52 L150.4,274.07 L150.8,273.95 L151.2,274.19 L151.6,274.48 L152.0,275.11 L152.4,275.31 L152.8,274.69 L153.2,275.10 L153.6,275.83 L154.0,274.68 L154.4,275.11 L154.8,274.12 L155.2,274.21 L155.6,274.68 L156.0,274.13 L156.4,273.88 L156.8,274.77 L157.2,275.61 L157.6,275.39 L158.0,275.05 L158.4,275.18 L158.8,275.04 L159.2,275.40 L159.6,275.37 L160.0,275.78 L160.4,275.87 L160.8,275.98 L161.2,276.07 L161.6,276.13 L162.0,275.78 L162.4,276.19 L162.8,276.36 L163.2,276.36 L163.6,275.40 L164.0,275.12 L164.4,275.55 L164.8,274.23 L165.2,272.98 L165.6,272.08 L166.0,272.74 L166.4,272.07 L166.8,273.00 L167.2,274.14 L167.6,272.70 L168.0,272.09 L168.4,273.62 L168.8,272.91 L169.2,274.75 L169.6,275.24 L170.0,276.12 L170.4,276.37 L170.8,276.55 L171.2,276.07 L171.6,276.27 L172.0,276.48 L172.4,276.60 L172.8,276.53 L173.2,275.96 L173.6,275.83 L174.0,276.25 L174.4,275.91 L174.8,275.86 L175.2,275.92 L175.6,275.89 L176.0,275.75 L176.4,275.54 L176.8,275.73 L177.2,275.73 L177.6,275.91 L178.0,275.88 L178.4,276.09 L178.8,276.20 L179.2,276.19 L179.6,276.04 L180.0,276.29 L180.4,275.95 L180.8,276.07 L181.2,275.87 L181.6,275.87 L182.0,275.66 L182.4,275.74 L182.8,275.98 L183.2,276.14 L183.6,276.08 L184.0,275.92 L184.4,275.76 L184.8,276.23 L185.2,276.56 L185.6,276.73 L186.0,276.85 L186.4,276.94 L186.8,277.04 L187.2,276.91 L187.6,276.94 L188.0,276.53 L188.4,276.34 L188.8,275.98 L189.2,275.78 L189.6,275.82 L190.0,275.70 L190.4,276.29 L190.8,276.50 L191.2,276.13 L191.6,276.23 L192.0,276.47 L192.4,276.23 L192.8,276.31 L193.2,276.27 L193.6,276.41 L194.0,276.54 L194.4,276.73 L194.8,276.45 L195.2,276.01 L195.6,275.70 L196.0,275.68 L196.4,275.52 L196.8,275.88 L197.2,276.14 L197.6,275.78 L198.0,275.82 L198.4,275.79 L198.8,276.33 L199.2,276.47 L199.6,276.33 L200.0,276.04 L200.4,275.78 L200.8,275.68 L201.2,275.99 L201.6,276.14 L202.0,275.83 L202.4,275.54 L202.8,275.80 L203.2,276.20 L203.6,276.08 L204.0,276.09 L204.4,276.25 L204.8,276.44 L205.2,276.44 L205.6,276.26 L206.0,276.53 L206.4,276.37 L206.8,275.95 L207.2,275.86 L207.6,276.19 L208.0,276.26 L208.4,276.54 L208.8,276.21 L209.2,276.08 L209.6,276.37 L210.0,276.23 L210.4,276.10 L210.8,276.03 L211.2,276.15 L211.6,276.28 L212.0,276.31 L212.4,275.75 L212.8,276.01 L213.2,276.00 L213.6,276.04 L214.0,276.32 L214.4,276.28 L214.8,276.44 L215.2,276.43 L215.6,276.38 L216.0,276.37 L216.4,275.83 L216.8,276.10 L217.2,276.24 L217.6,276.03 L218.0,276.15 L218.4,276.12 L218.8,276.00 L219.2,276.42 L219.6,276.18 L220.0,276.51 L220.4,276.59 L220.8,276.19 L221.2,275.82 L221.6,275.86 L222.0,276.27 L222.4,276.31 L222.8,276.45 L223.2,276.11 L223.6,276.36 L224.0,276.54 L224.4,276.30 L224.8,276.15 L225.2,276.09 L225.6,276.13 L226.0,275.76 L226.4,275.93 L226.8,275.62 L227.2,275.88 L227.6,275.97 L228.0,276.11 L228.4,275.86 L228.8,275.66 L229.2,276.02 L229.6,275.96 L230.0,275.71 L230.4,275.78 L230.8,275.66 L231.2,275.63 L231.6,275.50 L232.0,275.80 L232.4,276.03 L232.8,276.45 L233.2,275.83 L233.6,275.56 L234.0,275.81 L234.4,275.38 L234.8,275.20 L235.2,275.84 L235.6,275.56 L236.0,275.80 L236.4,276.05 L236.8,276.25 L237.2,276.23 L237.6,276.56 L238.0,276.75 L238.4,276.81 L238.8,276.66 L239.2,276.71 L239.6,276.78 L240.0,276.13 L240.4,276.18 L240.8,276.09 L241.2,275.93 L241.6,275.49 L242.0,276.01 L242.4,276.23 L242.8,275.73 L243.2,275.37 L243.6,275.13 L244.0,275.40 L244.4,275.72 L244.8,276.10 L245.2,275.60 L245.6,275.45 L246.0,275.59 L246.4,275.44 L246.8,275.88 L247.2,275.89 L247.6,275.55 L248.0,276.11 L248.4,275.98 L248.8,276.31 L249.2,275.93 L249.6,275.73 L250.0,275.79 L250.4,276.00 L250.8,276.47 L251.2,276.36 L251.6,276.40 L252.0,276.36 L252.4,276.59 L252.8,275.92 L253.2,275.78 L253.6,275.54 L254.0,274.86 L254.4,274.10 L254.8,273.98 L255.2,273.78 L255.6,272.82 L256.0,273.24 L256.4,272.03 L256.8,273.72 L257.2,272.47 L257.6,272.48 L258.0,272.17 L258.4,270.77 L258.8,272.45 L259.2,272.89 L259.6,272.00 L260.0,271.85 L260.4,272.68 L260.8,272.77 L261.2,273.38 L261.6,273.61 L262.0,274.31 L262.4,275.15 L262.8,275.67 L263.2,276.16 L263.6,276.35 L264.0,276.55 L264.4,275.21 L264.8,275.62 L265.2,275.05 L265.6,275.54 L266.0,274.30 L266.4,274.41 L266.8,275.19 L267.2,274.56 L267.6,274.24 L268.0,273.95 L268.4,274.96 L268.8,275.25 L269.2,275.00 L269.6,275.35 L270.0,275.04 L270.4,274.53 L270.8,274.02 L271.2,273.48 L271.6,273.26 L272.0,274.11 L272.4,273.68 L272.8,274.15 L273.2,275.00 L273.6,275.81 L274.0,275.13 L274.4,275.23 L274.8,275.77 L275.2,275.31 L275.6,275.14 L276.0,275.19 L276.4,274.71 L276.8,274.48 L277.2,274.41 L277.6,273.50 L278.0,273.26 L278.4,274.35 L278.8,274.03 L279.2,274.82 L279.6,274.26 L280.0,275.29 L280.4,275.43 L280.8,274.38 L281.2,274.05 L281.6,273.64 L282.0,274.38 L282.4,275.05 L282.8,273.48 L283.2,274.68 L283.6,275.17 L284.0,274.89 L284.4,273.84 L284.8,273.58 L285.2,272.68 L285.6,272.58 L286.0,273.23 L286.4,272.39 L286.8,273.28 L287.2,274.52 L287.6,272.84 L288.0,272.05 L288.4,272.25 L288.8,272.95 L289.2,274.15 L289.6,274.85 L290.0,275.62 L290.4,276.01 L290.8,275.41 L291.2,274.18 L291.6,273.33 L292.0,273.67 L292.4,273.52 L292.8,273.88 L293.2,273.45 L293.6,273.40 L294.0,272.85 L294.4,272.87 L294.8,273.25 L295.2,273.63 L295.6,274.65 L296.0,274.62 L296.4,274.59 L296.8,275.16 L297.2,275.40 L297.6,275.06 L298.0,275.40 L298.4,274.58 L298.8,274.80 L299.2,273.46 L299.6,273.36 L300.0,273.65 L300.4,273.96 L300.8,274.18 L301.2,274.71 L301.6,273.02 L302.0,271.97 L302.4,271.99 L302.8,272.01 L303.2,273.54 L303.6,273.37 L304.0,274.39 L304.4,274.60 L304.8,274.08 L305.2,274.85 L305.6,275.13 L306.0,274.02 L306.4,273.91 L306.8,272.72 L307.2,273.89 L307.6,274.82 L308.0,273.03 L308.4,272.92 L308.8,272.70 L309.2,273.00 L309.6,274.27 L310.0,272.93 L310.4,273.33 L310.8,272.46 L311.2,273.80 L311.6,274.24 L312.0,273.72 L312.4,274.23 L312.8,272.78 L313.2,273.69 L313.6,274.80 L314.0,275.26 L314.4,275.28 L314.8,273.68 L315.2,273.03 L315.6,273.17 L316.0,273.78 L316.4,274.97 L316.8,273.87 L317.2,274.79 L317.6,275.18 L318.0,274.88 L318.4,273.73 L318.8,274.65 L319.2,275.49 L319.6,274.14 L320.0,275.29 L320.4,274.39 L320.8,275.09 L321.2,275.13 L321.6,275.33 L322.0,274.86 L322.4,273.35 L322.8,272.65 L323.2,273.07 L323.6,274.52 L324.0,275.22 L324.4,275.44 L324.8,274.75 L325.2,274.41 L325.6,275.69 L325.6,277.30Z" fill="#000" />
<rect x="64.40" y="221.60" width="19.30" height="56.00" fill="none" stroke="#3a3a3a" stroke-width="1.0" />
<rect x="156.60" y="221.60" width="25.00" height="56.00" fill="none" stroke="#3a3a3a" stroke-width="1.0" />
<line x1="225.00" y1="280.70" x2="323.00" y2="280.70" stroke="#5f6fcc" stroke-width="1.6" />
<rect x="246.00" y="279.10" width="3.80" height="3.20" fill="#6d7cd0" stroke="#3446a8" stroke-width="0.7" rx="1"/>
<rect x="315.90" y="279.10" width="7.50" height="3.20" fill="#7383d6" stroke="#3446a8" stroke-width="0.7" rx="1.2"/>
<text x="207.00" y="282.80" font-size="6.60" fill="#222" color="#222" font-style="italic" textLength="16.60" lengthAdjust="spacingAndGlyphs" >Inhba</text>
<text x="69.80" y="295.40" font-size="6.20" fill="#222" color="#222" textLength="11.00" lengthAdjust="spacingAndGlyphs" >2Kb</text>
<line x1="69.20" y1="298.00" x2="110.40" y2="298.00" stroke="#555" stroke-width="1.3" />
<line x1="64.40" y1="310.70" x2="324.60" y2="310.70" stroke="#e2e2e2" stroke-width="0.7" />
<line x1="64.40" y1="318.50" x2="324.60" y2="318.50" stroke="#e2e2e2" stroke-width="0.7" />
<line x1="64.40" y1="326.30" x2="324.60" y2="326.30" stroke="#e2e2e2" stroke-width="0.7" />
<line x1="64.40" y1="334.10" x2="324.60" y2="334.10" stroke="#e2e2e2" stroke-width="0.7" />
<line x1="64.40" y1="341.90" x2="324.60" y2="341.90" stroke="#e2e2e2" stroke-width="0.7" />
<line x1="64.40" y1="349.70" x2="324.60" y2="349.70" stroke="#e2e2e2" stroke-width="0.7" />
<line x1="64.40" y1="302.60" x2="325.60" y2="302.60" stroke="#6a6a6a" stroke-width="1.2" />
<line x1="70.00" y1="302.00" x2="70.00" y2="303.50" stroke="#777" stroke-width="0.5" />
<line x1="82.50" y1="302.00" x2="82.50" y2="303.50" stroke="#777" stroke-width="0.5" />
<line x1="95.00" y1="302.00" x2="95.00" y2="303.50" stroke="#777" stroke-width="0.5" />
<line x1="107.50" y1="302.00" x2="107.50" y2="303.50" stroke="#777" stroke-width="0.5" />
<line x1="120.00" y1="302.00" x2="120.00" y2="303.50" stroke="#777" stroke-width="0.5" />
<line x1="132.50" y1="302.00" x2="132.50" y2="303.50" stroke="#777" stroke-width="0.5" />
<line x1="145.00" y1="302.00" x2="145.00" y2="303.50" stroke="#777" stroke-width="0.5" />
<line x1="157.50" y1="302.00" x2="157.50" y2="303.50" stroke="#777" stroke-width="0.5" />
<line x1="170.00" y1="302.00" x2="170.00" y2="303.50" stroke="#777" stroke-width="0.5" />
<line x1="182.50" y1="302.00" x2="182.50" y2="303.50" stroke="#777" stroke-width="0.5" />
<line x1="195.00" y1="302.00" x2="195.00" y2="303.50" stroke="#777" stroke-width="0.5" />
<line x1="207.50" y1="302.00" x2="207.50" y2="303.50" stroke="#777" stroke-width="0.5" />
<line x1="220.00" y1="302.00" x2="220.00" y2="303.50" stroke="#777" stroke-width="0.5" />
<line x1="232.50" y1="302.00" x2="232.50" y2="303.50" stroke="#777" stroke-width="0.5" />
<line x1="245.00" y1="302.00" x2="245.00" y2="303.50" stroke="#777" stroke-width="0.5" />
<line x1="257.50" y1="302.00" x2="257.50" y2="303.50" stroke="#777" stroke-width="0.5" />
<line x1="270.00" y1="302.00" x2="270.00" y2="303.50" stroke="#777" stroke-width="0.5" />
<line x1="282.50" y1="302.00" x2="282.50" y2="303.50" stroke="#777" stroke-width="0.5" />
<line x1="295.00" y1="302.00" x2="295.00" y2="303.50" stroke="#777" stroke-width="0.5" />
<line x1="307.50" y1="302.00" x2="307.50" y2="303.50" stroke="#777" stroke-width="0.5" />
<line x1="320.00" y1="302.00" x2="320.00" y2="303.50" stroke="#777" stroke-width="0.5" />
<text x="61.00" y="307.90" font-size="6.40" fill="#222" color="#222" text-anchor="end" textLength="23.90" lengthAdjust="spacingAndGlyphs" >WT 4wks</text>
<text x="24.80" y="316.90" font-size="6.40" fill="#222" color="#222" textLength="14.52" lengthAdjust="spacingAndGlyphs" >Cybb</text>
<text x="39.32" y="314.92" font-size="4.48" fill="#222" color="#222" stroke-width="0.05" textLength="6.29" lengthAdjust="spacingAndGlyphs" >KO</text>
<text x="46.83" y="316.90" font-size="6.40" fill="#222" color="#222" textLength="14.17" lengthAdjust="spacingAndGlyphs" >4wks</text>
<text x="61.00" y="324.40" font-size="6.40" fill="#222" color="#222" text-anchor="end" textLength="27.20" lengthAdjust="spacingAndGlyphs" >WT 12wks</text>
<text x="12.20" y="333.60" font-size="6.40" fill="#222" color="#222" textLength="14.93" lengthAdjust="spacingAndGlyphs" >Cybb</text>
<text x="27.13" y="331.62" font-size="4.48" fill="#222" color="#222" stroke-width="0.05" textLength="6.47" lengthAdjust="spacingAndGlyphs" >KO</text>
<text x="34.85" y="333.60" font-size="6.40" fill="#222" color="#222" textLength="19.44" lengthAdjust="spacingAndGlyphs" >CD11b</text>
<text x="54.28" y="331.62" font-size="4.48" fill="#222" color="#222" stroke-width="0.05" textLength="6.72" lengthAdjust="spacingAndGlyphs" >low</text>
<text x="10.20" y="341.70" font-size="6.40" fill="#222" color="#222" textLength="15.01" lengthAdjust="spacingAndGlyphs" >Cybb</text>
<text x="25.21" y="339.72" font-size="4.48" fill="#222" color="#222" stroke-width="0.05" textLength="6.50" lengthAdjust="spacingAndGlyphs" >KO</text>
<text x="32.96" y="341.70" font-size="6.40" fill="#222" color="#222" textLength="19.53" lengthAdjust="spacingAndGlyphs" >CD11b</text>
<text x="52.49" y="339.72" font-size="4.48" fill="#222" color="#222" stroke-width="0.05" textLength="8.51" lengthAdjust="spacingAndGlyphs" >high</text>
<text x="61.00" y="348.60" font-size="6.40" fill="#222" color="#222" text-anchor="end" textLength="26.60" lengthAdjust="spacingAndGlyphs" >H3K4Me1</text>
<text x="61.00" y="357.20" font-size="6.40" fill="#222" color="#222" text-anchor="end" textLength="23.70" lengthAdjust="spacingAndGlyphs" >H3K27ac</text>
<path d="M78.56,310.70 L78.56,310.69 L78.86,310.65 L79.16,310.55 L79.46,310.33 L79.76,309.94 L80.06,309.38 L80.36,308.81 L80.66,308.45 L80.96,308.46 L81.26,308.85 L81.56,309.42 L81.86,309.97 L82.16,310.35 L82.46,310.56 L82.76,310.65 L83.04,310.70Z" fill="#7d98da" />
<path d="M83.64,310.70 L83.64,310.68 L83.94,310.63 L84.24,310.52 L84.54,310.28 L84.84,309.84 L85.14,309.15 L85.44,308.25 L85.74,307.26 L86.04,306.38 L86.34,305.75 L86.64,305.43 L86.94,305.36 L87.24,305.50 L87.54,305.85 L87.84,306.41 L88.14,307.17 L88.44,308.04 L88.74,308.88 L89.04,309.58 L89.34,310.08 L89.64,310.39 L89.94,310.56 L90.24,310.65 L90.48,310.70Z" fill="#7d98da" />
<path d="M193.30,310.70 L193.30,310.70 L193.60,310.69 L193.90,310.68 L194.20,310.66 L194.50,310.63 L194.80,310.58 L195.10,310.51 L195.40,310.41 L195.70,310.27 L196.00,310.06 L196.30,309.70 L196.60,309.09 L196.90,308.18 L197.20,307.07 L197.50,306.06 L197.80,305.53 L198.10,305.74 L198.40,306.61 L198.70,307.82 L199.00,308.97 L199.30,309.81 L199.60,310.31 L199.90,310.56 L200.20,310.65 L200.30,310.70Z" fill="#7d98da" />
<path d="M210.80,310.70 L210.80,310.69 L211.10,310.68 L211.40,310.66 L211.70,310.61 L212.00,310.54 L212.30,310.41 L212.60,310.24 L212.90,310.02 L213.20,309.75 L213.50,309.44 L213.80,309.05 L214.10,308.53 L214.40,307.80 L214.70,306.80 L215.00,305.61 L215.30,304.42 L215.60,303.56 L215.90,303.30 L216.20,303.78 L216.50,304.88 L216.80,306.31 L217.10,307.73 L217.40,308.90 L217.70,309.72 L218.00,310.23 L218.30,310.49 L218.60,310.62 L218.78,310.70Z" fill="#7d98da" />
<path d="M250.30,310.70 L250.30,310.69 L250.60,310.67 L250.90,310.63 L251.20,310.54 L251.50,310.40 L251.80,310.18 L252.10,309.87 L252.40,309.50 L252.70,309.10 L253.00,308.76 L253.30,308.54 L253.60,308.51 L253.90,308.67 L254.20,308.98 L254.50,309.37 L254.80,309.75 L255.10,310.09 L255.40,310.34 L255.70,310.50 L256.00,310.60 L256.30,310.66 L256.60,310.68 L256.70,310.70Z" fill="#7d98da" />
<path d="M270.08,310.70 L270.08,310.69 L270.38,310.65 L270.68,310.52 L270.98,310.23 L271.28,309.73 L271.58,309.13 L271.88,308.74 L272.18,308.79 L272.48,309.25 L272.78,309.84 L273.08,310.30 L273.38,310.56 L273.68,310.66 L273.92,310.70Z" fill="#7d98da" />
<path d="M274.98,310.70 L274.98,310.69 L275.28,310.67 L275.58,310.61 L275.88,310.46 L276.18,310.21 L276.48,309.92 L276.78,309.72 L277.08,309.74 L277.38,309.97 L277.68,310.27 L277.98,310.50 L278.28,310.63 L278.58,310.68 L278.82,310.70Z" fill="#7d98da" />
<path d="M78.56,318.50 L78.56,318.49 L78.86,318.47 L79.16,318.40 L79.46,318.24 L79.76,317.97 L80.06,317.58 L80.36,317.19 L80.66,316.93 L80.96,316.94 L81.26,317.21 L81.56,317.61 L81.86,317.99 L82.16,318.26 L82.46,318.40 L82.76,318.47 L83.04,318.50Z" fill="#f39a90" />
<path d="M83.64,318.50 L83.64,318.49 L83.94,318.46 L84.24,318.40 L84.54,318.26 L84.84,318.00 L85.14,317.60 L85.44,317.06 L85.74,316.45 L86.04,315.87 L86.34,315.40 L86.64,315.08 L86.94,314.90 L87.24,314.87 L87.54,315.01 L87.84,315.36 L88.14,315.89 L88.44,316.52 L88.74,317.14 L89.04,317.66 L89.34,318.04 L89.64,318.27 L89.94,318.40 L90.24,318.46 L90.48,318.50Z" fill="#f39a90" />
<path d="M138.08,318.50 L138.08,318.50 L138.38,318.49 L138.68,318.47 L138.98,318.43 L139.28,318.35 L139.58,318.27 L139.88,318.21 L140.18,318.21 L140.48,318.28 L140.78,318.37 L141.08,318.44 L141.38,318.48 L141.68,318.49 L141.92,318.50Z" fill="#f39a90" />
<path d="M193.30,318.50 L193.30,318.50 L193.60,318.49 L193.90,318.48 L194.20,318.46 L194.50,318.43 L194.80,318.38 L195.10,318.31 L195.40,318.21 L195.70,318.07 L196.00,317.86 L196.30,317.50 L196.60,316.89 L196.90,315.98 L197.20,314.87 L197.50,313.86 L197.80,313.33 L198.10,313.54 L198.40,314.41 L198.70,315.62 L199.00,316.77 L199.30,317.61 L199.60,318.11 L199.90,318.36 L200.20,318.45 L200.30,318.50Z" fill="#f39a90" />
<path d="M210.80,318.50 L210.80,318.49 L211.10,318.49 L211.40,318.47 L211.70,318.43 L212.00,318.36 L212.30,318.26 L212.60,318.12 L212.90,317.93 L213.20,317.70 L213.50,317.42 L213.80,317.07 L214.10,316.58 L214.40,315.88 L214.70,314.92 L215.00,313.77 L215.30,312.63 L215.60,311.79 L215.90,311.54 L216.20,311.98 L216.50,313.01 L216.80,314.36 L217.10,315.70 L217.40,316.80 L217.70,317.58 L218.00,318.05 L218.30,318.31 L218.60,318.42 L218.78,318.50Z" fill="#f39a90" />
<path d="M250.30,318.50 L250.30,318.49 L250.60,318.48 L250.90,318.46 L251.20,318.41 L251.50,318.34 L251.80,318.22 L252.10,318.05 L252.40,317.84 L252.70,317.63 L253.00,317.44 L253.30,317.32 L253.60,317.31 L253.90,317.39 L254.20,317.56 L254.50,317.77 L254.80,317.98 L255.10,318.17 L255.40,318.30 L255.70,318.39 L256.00,318.45 L256.30,318.48 L256.60,318.49 L256.70,318.50Z" fill="#f39a90" />
<path d="M270.08,318.50 L270.08,318.49 L270.38,318.47 L270.68,318.39 L270.98,318.22 L271.28,317.92 L271.58,317.56 L271.88,317.32 L272.18,317.35 L272.48,317.63 L272.78,317.98 L273.08,318.26 L273.38,318.41 L273.68,318.48 L273.92,318.50Z" fill="#f39a90" />
<path d="M274.98,318.50 L274.98,318.50 L275.28,318.48 L275.58,318.45 L275.88,318.36 L276.18,318.21 L276.48,318.03 L276.78,317.91 L277.08,317.93 L277.38,318.06 L277.68,318.24 L277.98,318.38 L278.28,318.46 L278.58,318.49 L278.82,318.50Z" fill="#f39a90" />
<path d="M78.56,326.30 L78.56,326.28 L78.86,326.24 L79.16,326.11 L79.46,325.84 L79.76,325.34 L80.06,324.64 L80.36,323.92 L80.66,323.46 L80.96,323.47 L81.26,323.96 L81.56,324.69 L81.86,325.38 L82.16,325.86 L82.46,326.13 L82.76,326.24 L83.04,326.30Z" fill="#2a3aa3" />
<path d="M83.64,326.30 L83.64,326.27 L83.94,326.22 L84.24,326.07 L84.54,325.77 L84.84,325.21 L85.14,324.35 L85.44,323.24 L85.74,322.07 L86.04,321.11 L86.34,320.55 L86.64,320.45 L86.94,320.69 L87.24,321.14 L87.54,321.70 L87.84,322.37 L88.14,323.14 L88.44,323.95 L88.74,324.70 L89.04,325.32 L89.34,325.76 L89.64,326.03 L89.94,326.18 L90.24,326.25 L90.48,326.30Z" fill="#2a3aa3" />
<path d="M193.30,326.30 L193.30,326.30 L193.60,326.29 L193.90,326.27 L194.20,326.24 L194.50,326.19 L194.80,326.11 L195.10,326.00 L195.40,325.84 L195.70,325.65 L196.00,325.39 L196.30,325.00 L196.60,324.39 L196.90,323.51 L197.20,322.44 L197.50,321.48 L197.80,321.00 L198.10,321.25 L198.40,322.16 L198.70,323.40 L199.00,324.56 L199.30,325.41 L199.60,325.91 L199.90,326.15 L200.20,326.25 L200.30,326.30Z" fill="#2a3aa3" />
<path d="M210.80,326.30 L210.80,326.29 L211.10,326.29 L211.40,326.27 L211.70,326.23 L212.00,326.16 L212.30,326.06 L212.60,325.92 L212.90,325.73 L213.20,325.50 L213.50,325.22 L213.80,324.87 L214.10,324.38 L214.40,323.68 L214.70,322.72 L215.00,321.57 L215.30,320.43 L215.60,319.59 L215.90,319.34 L216.20,319.78 L216.50,320.81 L216.80,322.16 L217.10,323.50 L217.40,324.60 L217.70,325.38 L218.00,325.85 L218.30,326.11 L218.60,326.22 L218.78,326.30Z" fill="#2a3aa3" />
<path d="M250.30,326.30 L250.30,326.28 L250.60,326.26 L250.90,326.21 L251.20,326.12 L251.50,325.95 L251.80,325.69 L252.10,325.32 L252.40,324.88 L252.70,324.41 L253.00,324.01 L253.30,323.75 L253.60,323.71 L253.90,323.90 L254.20,324.26 L254.50,324.72 L254.80,325.18 L255.10,325.58 L255.40,325.87 L255.70,326.07 L256.00,326.19 L256.30,326.25 L256.60,326.28 L256.70,326.30Z" fill="#2a3aa3" />
<path d="M270.08,326.30 L270.08,326.29 L270.38,326.27 L270.68,326.19 L270.98,326.02 L271.28,325.72 L271.58,325.36 L271.88,325.12 L272.18,325.15 L272.48,325.43 L272.78,325.78 L273.08,326.06 L273.38,326.21 L273.68,326.28 L273.92,326.30Z" fill="#2a3aa3" />
<path d="M78.56,334.10 L78.56,334.08 L78.86,334.01 L79.16,333.84 L79.46,333.46 L79.76,332.77 L80.06,331.81 L80.36,330.82 L80.66,330.18 L80.96,330.20 L81.26,330.88 L81.56,331.88 L81.86,332.83 L82.16,333.49 L82.46,333.86 L82.76,334.02 L83.04,334.10Z" fill="#ee3a1a" />
<path d="M83.64,334.10 L83.64,334.07 L83.94,334.02 L84.24,333.87 L84.54,333.56 L84.84,333.00 L85.14,332.13 L85.44,331.01 L85.74,329.81 L86.04,328.80 L86.34,328.17 L86.64,327.97 L86.94,328.11 L87.24,328.47 L87.54,329.00 L87.84,329.69 L88.14,330.52 L88.44,331.42 L88.74,332.28 L89.04,332.98 L89.34,333.48 L89.64,333.79 L89.94,333.96 L90.24,334.05 L90.48,334.10Z" fill="#ee3a1a" />
<path d="M153.20,334.10 L153.20,334.09 L153.50,334.05 L153.80,333.88 L154.10,333.50 L154.40,332.94 L154.70,332.53 L155.00,332.62 L155.30,333.13 L155.60,333.66 L155.90,333.96 L156.20,334.07 L156.40,334.10Z" fill="#ee3a1a" />
<path d="M193.30,334.10 L193.30,334.10 L193.60,334.09 L193.90,334.07 L194.20,334.04 L194.50,333.99 L194.80,333.91 L195.10,333.79 L195.40,333.64 L195.70,333.44 L196.00,333.15 L196.30,332.70 L196.60,331.97 L196.90,330.89 L197.20,329.59 L197.50,328.41 L197.80,327.81 L198.10,328.09 L198.40,329.16 L198.70,330.63 L199.00,332.02 L199.30,333.03 L199.60,333.63 L199.90,333.93 L200.20,334.04 L200.30,334.10Z" fill="#ee3a1a" />
<path d="M210.80,334.10 L210.80,334.09 L211.10,334.09 L211.40,334.07 L211.70,334.03 L212.00,333.96 L212.30,333.86 L212.60,333.72 L212.90,333.53 L213.20,333.31 L213.50,333.05 L213.80,332.73 L214.10,332.29 L214.40,331.68 L214.70,330.85 L215.00,329.85 L215.30,328.87 L215.60,328.15 L215.90,327.94 L216.20,328.34 L216.50,329.25 L216.80,330.44 L217.10,331.63 L217.40,332.60 L217.70,333.29 L218.00,333.71 L218.30,333.93 L218.60,334.03 L218.78,334.10Z" fill="#ee3a1a" />
<path d="M250.30,334.10 L250.30,334.08 L250.60,334.04 L250.90,333.97 L251.20,333.83 L251.50,333.59 L251.80,333.20 L252.10,332.67 L252.40,332.02 L252.70,331.34 L253.00,330.75 L253.30,330.38 L253.60,330.32 L253.90,330.59 L254.20,331.13 L254.50,331.80 L254.80,332.47 L255.10,333.04 L255.40,333.47 L255.70,333.76 L256.00,333.93 L256.30,334.02 L256.60,334.07 L256.70,334.10Z" fill="#ee3a1a" />
<path d="M270.08,334.10 L270.08,334.08 L270.38,334.02 L270.68,333.83 L270.98,333.39 L271.28,332.64 L271.58,331.75 L271.88,331.16 L272.18,331.23 L272.48,331.92 L272.78,332.81 L273.08,333.51 L273.38,333.89 L273.68,334.04 L273.92,334.10Z" fill="#ee3a1a" />
<path d="M274.98,334.10 L274.98,334.09 L275.28,334.07 L275.58,334.01 L275.88,333.86 L276.18,333.61 L276.48,333.32 L276.78,333.12 L277.08,333.14 L277.38,333.37 L277.68,333.67 L277.98,333.90 L278.28,334.03 L278.58,334.08 L278.82,334.10Z" fill="#ee3a1a" />
<path d="M78.56,341.90 L78.56,341.88 L78.86,341.84 L79.16,341.71 L79.46,341.44 L79.76,340.94 L80.06,340.24 L80.36,339.52 L80.66,339.06 L80.96,339.07 L81.26,339.56 L81.56,340.29 L81.86,340.98 L82.16,341.46 L82.46,341.73 L82.76,341.84 L83.04,341.90Z" fill="#6e0c0c" />
<path d="M83.64,341.90 L83.64,341.88 L83.94,341.82 L84.24,341.70 L84.54,341.42 L84.84,340.92 L85.14,340.14 L85.44,339.13 L85.74,338.04 L86.04,337.09 L86.34,336.46 L86.64,336.20 L86.94,336.24 L87.24,336.49 L87.54,336.93 L87.84,337.55 L88.14,338.35 L88.44,339.23 L88.74,340.08 L89.04,340.78 L89.34,341.28 L89.64,341.59 L89.94,341.76 L90.24,341.85 L90.48,341.90Z" fill="#6e0c0c" />
<path d="M153.20,341.90 L153.20,341.89 L153.50,341.86 L153.80,341.74 L154.10,341.45 L154.40,341.03 L154.70,340.72 L155.00,340.79 L155.30,341.17 L155.60,341.57 L155.90,341.79 L156.20,341.88 L156.40,341.90Z" fill="#6e0c0c" />
<path d="M193.30,341.90 L193.30,341.89 L193.60,341.89 L193.90,341.87 L194.20,341.83 L194.50,341.76 L194.80,341.66 L195.10,341.52 L195.40,341.34 L195.70,341.11 L196.00,340.84 L196.30,340.46 L196.60,339.90 L196.90,339.13 L197.20,338.21 L197.50,337.39 L197.80,337.01 L198.10,337.28 L198.40,338.13 L198.70,339.26 L199.00,340.32 L199.30,341.09 L199.60,341.55 L199.90,341.77 L200.20,341.86 L200.30,341.90Z" fill="#6e0c0c" />
<path d="M210.80,341.90 L210.80,341.89 L211.10,341.88 L211.40,341.85 L211.70,341.79 L212.00,341.70 L212.30,341.54 L212.60,341.33 L212.90,341.06 L213.20,340.74 L213.50,340.40 L213.80,340.04 L214.10,339.60 L214.40,339.02 L214.70,338.26 L215.00,337.35 L215.30,336.45 L215.60,335.81 L215.90,335.65 L216.20,336.09 L216.50,337.03 L216.80,338.23 L217.10,339.42 L217.40,340.40 L217.70,341.09 L218.00,341.51 L218.30,341.73 L218.60,341.83 L218.78,341.90Z" fill="#6e0c0c" />
<path d="M250.30,341.90 L250.30,341.88 L250.60,341.85 L250.90,341.78 L251.20,341.64 L251.50,341.41 L251.80,341.05 L252.10,340.55 L252.40,339.93 L252.70,339.29 L253.00,338.72 L253.30,338.37 L253.60,338.32 L253.90,338.58 L254.20,339.08 L254.50,339.72 L254.80,340.35 L255.10,340.90 L255.40,341.31 L255.70,341.58 L256.00,341.74 L256.30,341.83 L256.60,341.87 L256.70,341.90Z" fill="#6e0c0c" />
<path d="M270.08,341.90 L270.08,341.89 L270.38,341.83 L270.68,341.68 L270.98,341.31 L271.28,340.68 L271.58,339.94 L271.88,339.45 L272.18,339.51 L272.48,340.08 L272.78,340.83 L273.08,341.41 L273.38,341.72 L273.68,341.85 L273.92,341.90Z" fill="#6e0c0c" />
<path d="M274.98,341.90 L274.98,341.89 L275.28,341.86 L275.58,341.77 L275.88,341.55 L276.18,341.17 L276.48,340.73 L276.78,340.43 L277.08,340.47 L277.38,340.81 L277.68,341.26 L277.98,341.60 L278.28,341.79 L278.58,341.87 L278.82,341.90Z" fill="#6e0c0c" />
<path d="M64.4,349.70 L64.4,348.74 L64.8,348.49 L65.2,348.33 L65.6,348.30 L66.0,348.45 L66.4,348.25 L66.8,348.19 L67.2,348.36 L67.6,348.50 L68.0,348.72 L68.4,348.94 L68.8,348.89 L69.2,348.73 L69.6,348.78 L70.0,348.36 L70.4,348.30 L70.8,348.18 L71.2,348.21 L71.6,347.32 L72.0,346.93 L72.4,346.53 L72.8,346.58 L73.2,347.27 L73.6,347.39 L74.0,347.31 L74.4,347.66 L74.8,347.04 L75.2,347.25 L75.6,347.60 L76.0,347.15 L76.4,347.57 L76.8,347.06 L77.2,347.24 L77.6,347.30 L78.0,347.60 L78.4,347.74 L78.8,348.14 L79.2,348.53 L79.6,348.33 L80.0,348.63 L80.4,348.60 L80.8,348.85 L81.2,348.73 L81.6,348.70 L82.0,348.73 L82.4,348.74 L82.8,348.80 L83.2,348.80 L83.6,348.97 L84.0,348.97 L84.4,348.86 L84.8,348.99 L85.2,348.85 L85.6,348.77 L86.0,348.87 L86.4,348.94 L86.8,348.96 L87.2,348.99 L87.6,348.83 L88.0,348.91 L88.4,349.07 L88.8,349.14 L89.2,349.00 L89.6,348.83 L90.0,348.88 L90.4,348.90 L90.8,348.90 L91.2,348.83 L91.6,348.94 L92.0,348.88 L92.4,348.84 L92.8,348.78 L93.2,348.88 L93.6,348.93 L94.0,348.88 L94.4,348.59 L94.8,348.64 L95.2,348.55 L95.6,348.63 L96.0,348.77 L96.4,348.89 L96.8,348.64 L97.2,348.53 L97.6,348.66 L98.0,348.64 L98.4,348.65 L98.8,348.59 L99.2,348.56 L99.6,348.74 L100.0,348.66 L100.4,349.65 L100.8,349.67 L101.2,349.68 L101.6,349.69 L102.0,348.90 L102.4,349.00 L102.8,348.87 L103.2,349.00 L103.6,349.11 L104.0,348.95 L104.4,348.86 L104.8,348.89 L105.2,348.80 L105.6,348.98 L106.0,349.01 L106.4,349.01 L106.8,348.95 L107.2,348.99 L107.6,349.04 L108.0,348.95 L108.4,348.65 L108.8,348.40 L109.2,348.34 L109.6,348.42 L110.0,348.58 L110.4,348.37 L110.8,348.46 L111.2,348.44 L111.6,348.76 L112.0,348.88 L112.4,348.72 L112.8,348.68 L113.2,348.64 L113.6,348.72 L114.0,348.83 L114.4,348.85 L114.8,348.78 L115.2,348.91 L115.6,348.92 L116.0,349.00 L116.4,348.90 L116.8,349.07 L117.2,348.96 L117.6,348.82 L118.0,349.02 L118.4,349.70 L118.8,349.70 L119.2,349.70 L119.6,349.70 L120.0,348.96 L120.4,348.99 L120.8,348.83 L121.2,348.76 L121.6,348.95 L122.0,349.07 L122.4,349.14 L122.8,349.21 L123.2,349.12 L123.6,349.16 L124.0,348.97 L124.4,348.91 L124.8,349.04 L125.2,348.99 L125.6,349.03 L126.0,349.00 L126.4,349.06 L126.8,349.11 L127.2,349.14 L127.6,349.09 L128.0,348.96 L128.4,348.92 L128.8,349.06 L129.2,348.92 L129.6,348.78 L130.0,348.71 L130.4,348.66 L130.8,348.88 L131.2,348.85 L131.6,348.97 L132.0,348.77 L132.4,348.87 L132.8,348.70 L133.2,348.78 L133.6,348.64 L134.0,348.71 L134.4,348.87 L134.8,348.82 L135.2,348.83 L135.6,348.58 L136.0,348.70 L136.4,348.69 L136.8,348.68 L137.2,348.53 L137.6,348.78 L138.0,348.75 L138.4,348.77 L138.8,348.72 L139.2,348.61 L139.6,348.79 L140.0,348.77 L140.4,348.82 L140.8,348.84 L141.2,349.01 L141.6,348.88 L142.0,348.75 L142.4,348.86 L142.8,348.94 L143.2,348.77 L143.6,348.94 L144.0,349.05 L144.4,349.12 L144.8,348.90 L145.2,348.77 L145.6,348.79 L146.0,348.73 L146.4,348.90 L146.8,348.76 L147.2,348.74 L147.6,348.68 L148.0,348.69 L148.4,348.68 L148.8,348.75 L149.2,348.87 L149.6,348.77 L150.0,348.80 L150.4,348.61 L150.8,348.45 L151.2,348.41 L151.6,348.52 L152.0,348.70 L152.4,349.43 L152.8,349.46 L153.2,349.47 L153.6,349.47 L154.0,348.83 L154.4,348.85 L154.8,348.86 L155.2,348.80 L155.6,348.72 L156.0,348.71 L156.4,348.76 L156.8,348.75 L157.2,348.77 L157.6,348.73 L158.0,348.76 L158.4,348.78 L158.8,348.92 L159.2,348.81 L159.6,348.90 L160.0,348.89 L160.4,348.81 L160.8,348.73 L161.2,348.67 L161.6,348.93 L162.0,348.99 L162.4,349.03 L162.8,349.03 L163.2,349.11 L163.6,349.03 L164.0,349.12 L164.4,349.11 L164.8,348.91 L165.2,348.86 L165.6,348.90 L166.0,349.04 L166.4,348.87 L166.8,348.84 L167.2,348.97 L167.6,349.01 L168.0,348.95 L168.4,348.89 L168.8,348.99 L169.2,348.84 L169.6,348.94 L170.0,349.02 L170.4,349.70 L170.8,349.70 L171.2,349.70 L171.6,349.70 L172.0,348.97 L172.4,349.03 L172.8,349.03 L173.2,348.87 L173.6,348.91 L174.0,348.95 L174.4,348.91 L174.8,348.99 L175.2,349.07 L175.6,349.06 L176.0,349.08 L176.4,349.12 L176.8,348.92 L177.2,349.07 L177.6,348.93 L178.0,348.81 L178.4,349.70 L178.8,349.70 L179.2,349.70 L179.6,349.70 L180.0,349.70 L180.4,349.70 L180.8,349.70 L181.2,349.14 L181.6,349.05 L182.0,349.13 L182.4,349.12 L182.8,349.06 L183.2,348.90 L183.6,348.96 L184.0,349.06 L184.4,348.93 L184.8,348.84 L185.2,348.88 L185.6,349.04 L186.0,349.10 L186.4,349.07 L186.8,349.01 L187.2,349.07 L187.6,348.93 L188.0,348.83 L188.4,348.75 L188.8,348.72 L189.2,348.95 L189.6,348.93 L190.0,349.06 L190.4,348.90 L190.8,348.84 L191.2,348.81 L191.6,348.96 L192.0,349.09 L192.4,348.94 L192.8,348.91 L193.2,348.89 L193.6,348.92 L194.0,348.84 L194.4,348.93 L194.8,349.00 L195.2,349.01 L195.6,349.03 L196.0,348.94 L196.4,348.78 L196.8,348.94 L197.2,349.03 L197.6,348.91 L198.0,348.76 L198.4,348.84 L198.8,348.85 L199.2,348.95 L199.6,349.01 L200.0,348.86 L200.4,349.40 L200.8,349.40 L201.2,349.46 L201.6,349.52 L202.0,349.50 L202.4,349.54 L202.8,349.58 L203.2,348.80 L203.6,348.78 L204.0,348.84 L204.4,349.01 L204.8,348.88 L205.2,349.00 L205.6,349.12 L206.0,349.10 L206.4,349.03 L206.8,348.96 L207.2,349.05 L207.6,348.95 L208.0,348.95 L208.4,349.05 L208.8,348.91 L209.2,348.83 L209.6,348.76 L210.0,348.78 L210.4,348.93 L210.8,348.86 L211.2,348.77 L211.6,348.83 L212.0,348.76 L212.4,348.69 L212.8,348.83 L213.2,348.74 L213.6,348.70 L214.0,348.71 L214.4,348.95 L214.8,348.99 L215.2,349.70 L215.6,349.70 L216.0,349.69 L216.4,349.69 L216.8,349.69 L217.2,349.68 L217.6,349.67 L218.0,348.75 L218.4,348.90 L218.8,348.73 L219.2,348.76 L219.6,348.69 L220.0,348.64 L220.4,348.55 L220.8,348.66 L221.2,348.83 L221.6,348.79 L222.0,348.85 L222.4,348.72 L222.8,348.51 L223.2,348.57 L223.6,348.70 L224.0,348.84 L224.4,348.72 L224.8,348.58 L225.2,348.77 L225.6,348.58 L226.0,349.32 L226.4,349.38 L226.8,349.29 L227.2,349.33 L227.6,349.31 L228.0,349.38 L228.4,349.47 L228.8,349.52 L229.2,348.88 L229.6,348.82 L230.0,348.75 L230.4,348.72 L230.8,348.75 L231.2,348.90 L231.6,348.93 L232.0,349.67 L232.4,349.68 L232.8,349.69 L233.2,349.69 L233.6,349.69 L234.0,349.70 L234.4,349.70 L234.8,349.70 L235.2,349.70 L235.6,349.70 L236.0,349.70 L236.4,349.70 L236.8,349.70 L237.2,349.70 L237.6,349.70 L238.0,349.70 L238.4,349.70 L238.8,349.70 L239.2,349.70 L239.6,349.70 L240.0,349.70 L240.4,349.70 L240.8,349.70 L241.2,349.70 L241.6,349.70 L242.0,349.70 L242.4,349.70 L242.8,349.70 L243.2,349.70 L243.6,349.70 L244.0,349.70 L244.4,349.70 L244.8,349.70 L245.2,349.70 L245.6,349.70 L246.0,349.70 L246.4,349.70 L246.8,349.70 L247.2,349.70 L247.6,349.70 L248.0,349.70 L248.4,349.70 L248.8,349.70 L249.2,349.70 L249.6,349.70 L250.0,348.94 L250.4,349.05 L250.8,348.90 L251.2,348.97 L251.6,348.88 L252.0,348.94 L252.4,348.98 L252.8,349.00 L253.2,349.54 L253.6,349.46 L254.0,349.44 L254.4,349.35 L254.8,349.32 L255.2,349.25 L255.6,349.25 L256.0,348.65 L256.4,348.76 L256.8,348.88 L257.2,348.68 L257.6,348.71 L258.0,348.88 L258.4,348.69 L258.8,348.69 L259.2,348.93 L259.6,348.83 L260.0,348.82 L260.4,349.60 L260.8,349.58 L261.2,349.52 L261.6,349.49 L262.0,348.59 L262.4,348.48 L262.8,348.50 L263.2,348.49 L263.6,348.23 L264.0,348.10 L264.4,348.12 L264.8,348.11 L265.2,348.29 L265.6,348.09 L266.0,348.46 L266.4,348.36 L266.8,348.44 L267.2,348.63 L267.6,348.58 L268.0,348.55 L268.4,348.75 L268.8,348.67 L269.2,348.73 L269.6,348.42 L270.0,348.42 L270.4,348.39 L270.8,348.42 L271.2,348.53 L271.6,348.51 L272.0,348.53 L272.4,348.25 L272.8,347.97 L273.2,348.27 L273.6,348.54 L274.0,348.50 L274.4,348.74 L274.8,348.75 L275.2,348.64 L275.6,348.81 L276.0,348.70 L276.4,348.69 L276.8,348.83 L277.2,348.83 L277.6,348.63 L278.0,348.71 L278.4,348.69 L278.8,348.44 L279.2,348.12 L279.6,348.10 L280.0,348.01 L280.4,348.38 L280.8,348.45 L281.2,348.52 L281.6,348.28 L282.0,348.48 L282.4,348.42 L282.8,348.75 L283.2,349.44 L283.6,349.43 L284.0,349.42 L284.4,349.40 L284.8,349.40 L285.2,349.26 L285.6,349.26 L286.0,348.18 L286.4,347.97 L286.8,347.83 L287.2,347.84 L287.6,348.10 L288.0,348.15 L288.4,348.00 L288.8,347.95 L289.2,348.15 L289.6,348.08 L290.0,348.51 L290.4,348.66 L290.8,348.87 L291.2,348.91 L291.6,348.77 L292.0,348.73 L292.4,348.92 L292.8,348.98 L293.2,349.07 L293.6,348.94 L294.0,348.91 L294.4,348.95 L294.8,348.90 L295.2,348.65 L295.6,348.63 L296.0,348.47 L296.4,348.36 L296.8,348.35 L297.2,348.29 L297.6,348.35 L298.0,348.50 L298.4,348.44 L298.8,348.53 L299.2,348.60 L299.6,348.74 L300.0,348.52 L300.4,349.39 L300.8,349.49 L301.2,349.57 L301.6,349.61 L302.0,349.61 L302.4,349.65 L302.8,349.66 L303.2,349.68 L303.6,349.69 L304.0,348.96 L304.4,348.88 L304.8,348.90 L305.2,348.96 L305.6,349.02 L306.0,348.96 L306.4,349.69 L306.8,349.68 L307.2,349.68 L307.6,349.67 L308.0,349.64 L308.4,349.60 L308.8,349.59 L309.2,349.54 L309.6,349.48 L310.0,348.55 L310.4,348.37 L310.8,348.27 L311.2,348.48 L311.6,348.27 L312.0,348.45 L312.4,348.56 L312.8,348.36 L313.2,349.37 L313.6,349.42 L314.0,349.44 L314.4,349.51 L314.8,349.55 L315.2,349.54 L315.6,349.54 L316.0,349.52 L316.4,349.47 L316.8,349.39 L317.2,349.29 L317.6,349.18 L318.0,347.98 L318.4,348.06 L318.8,347.97 L319.2,348.01 L319.6,347.75 L320.0,347.80 L320.4,348.00 L320.8,348.02 L321.2,348.29 L321.6,348.57 L322.0,348.63 L322.4,348.82 L322.8,349.00 L323.2,349.08 L323.6,349.01 L324.0,348.87 L324.4,349.05 L324.8,348.96 L325.2,349.07 L325.6,349.02 L325.6,349.70Z" fill="#1e8a3c" />
<path d="M64.4,358.00 L64.4,356.27 L64.8,356.44 L65.2,356.59 L65.6,356.22 L66.0,356.39 L66.4,356.54 L66.8,356.40 L67.2,356.47 L67.6,356.29 L68.0,356.49 L68.4,356.28 L68.8,356.41 L69.2,356.33 L69.6,356.05 L70.0,355.92 L70.4,355.62 L70.8,355.45 L71.2,355.71 L71.6,355.26 L72.0,355.15 L72.4,355.29 L72.8,355.50 L73.2,355.17 L73.6,355.24 L74.0,355.11 L74.4,355.25 L74.8,355.29 L75.2,355.62 L75.6,355.78 L76.0,355.94 L76.4,356.21 L76.8,356.02 L77.2,356.21 L77.6,356.07 L78.0,355.88 L78.4,355.90 L78.8,356.16 L79.2,355.96 L79.6,355.92 L80.0,356.15 L80.4,356.38 L80.8,356.27 L81.2,356.49 L81.6,356.18 L82.0,356.24 L82.4,356.30 L82.8,356.41 L83.2,356.39 L83.6,356.30 L84.0,356.52 L84.4,356.64 L84.8,356.65 L85.2,356.76 L85.6,356.73 L86.0,356.74 L86.4,356.78 L86.8,356.72 L87.2,356.72 L87.6,356.87 L88.0,356.61 L88.4,356.67 L88.8,356.65 L89.2,356.62 L89.6,356.35 L90.0,356.11 L90.4,356.11 L90.8,356.11 L91.2,356.22 L91.6,355.78 L92.0,355.86 L92.4,355.60 L92.8,355.50 L93.2,355.38 L93.6,355.21 L94.0,355.17 L94.4,355.25 L94.8,354.72 L95.2,354.04 L95.6,353.69 L96.0,353.96 L96.4,353.48 L96.8,353.97 L97.2,353.80 L97.6,353.14 L98.0,352.62 L98.4,352.95 L98.8,352.66 L99.2,352.99 L99.6,353.18 L100.0,353.26 L100.4,352.84 L100.8,352.92 L101.2,353.31 L101.6,353.26 L102.0,353.33 L102.4,353.73 L102.8,353.50 L103.2,353.38 L103.6,353.61 L104.0,353.49 L104.4,354.48 L104.8,354.68 L105.2,354.80 L105.6,355.23 L106.0,355.68 L106.4,355.64 L106.8,355.83 L107.2,356.04 L107.6,356.27 L108.0,355.81 L108.4,355.83 L108.8,355.92 L109.2,355.86 L109.6,355.74 L110.0,355.16 L110.4,355.35 L110.8,355.41 L111.2,355.64 L111.6,355.55 L112.0,355.78 L112.4,355.90 L112.8,355.80 L113.2,355.74 L113.6,355.84 L114.0,356.32 L114.4,356.44 L114.8,356.27 L115.2,356.51 L115.6,356.55 L116.0,356.38 L116.4,356.29 L116.8,356.01 L117.2,355.82 L117.6,355.84 L118.0,356.00 L118.4,356.14 L118.8,356.23 L119.2,356.45 L119.6,356.30 L120.0,356.52 L120.4,356.36 L120.8,356.42 L121.2,356.72 L121.6,356.73 L122.0,356.72 L122.4,356.91 L122.8,356.86 L123.2,356.98 L123.6,356.79 L124.0,356.93 L124.4,356.78 L124.8,356.54 L125.2,356.43 L125.6,356.58 L126.0,356.55 L126.4,356.68 L126.8,356.67 L127.2,356.45 L127.6,356.33 L128.0,356.60 L128.4,356.62 L128.8,356.52 L129.2,356.67 L129.6,356.51 L130.0,356.40 L130.4,356.48 L130.8,356.62 L131.2,356.53 L131.6,356.62 L132.0,356.79 L132.4,356.88 L132.8,356.97 L133.2,356.80 L133.6,356.82 L134.0,356.78 L134.4,356.72 L134.8,356.64 L135.2,356.84 L135.6,356.89 L136.0,356.77 L136.4,356.74 L136.8,356.84 L137.2,356.82 L137.6,356.94 L138.0,357.03 L138.4,357.12 L138.8,357.07 L139.2,357.08 L139.6,357.00 L140.0,356.82 L140.4,356.96 L140.8,356.92 L141.2,356.80 L141.6,356.81 L142.0,356.84 L142.4,356.78 L142.8,356.97 L143.2,356.81 L143.6,356.79 L144.0,356.74 L144.4,356.70 L144.8,356.90 L145.2,357.03 L145.6,357.08 L146.0,357.00 L146.4,356.82 L146.8,356.72 L147.2,356.81 L147.6,356.80 L148.0,356.75 L148.4,356.84 L148.8,356.69 L149.2,356.59 L149.6,356.60 L150.0,356.53 L150.4,356.50 L150.8,356.52 L151.2,356.63 L151.6,356.69 L152.0,356.73 L152.4,356.80 L152.8,356.46 L153.2,356.48 L153.6,356.59 L154.0,356.49 L154.4,356.50 L154.8,356.29 L155.2,356.18 L155.6,356.18 L156.0,355.95 L156.4,355.81 L156.8,355.73 L157.2,355.31 L157.6,355.41 L158.0,355.26 L158.4,354.90 L158.8,354.59 L159.2,354.88 L159.6,355.33 L160.0,354.88 L160.4,354.98 L160.8,355.30 L161.2,355.58 L161.6,355.68 L162.0,355.70 L162.4,355.87 L162.8,356.04 L163.2,355.49 L163.6,355.30 L164.0,355.69 L164.4,355.68 L164.8,355.48 L165.2,355.58 L165.6,355.95 L166.0,356.03 L166.4,356.09 L166.8,355.87 L167.2,355.98 L167.6,356.17 L168.0,356.24 L168.4,356.58 L168.8,356.52 L169.2,356.47 L169.6,356.50 L170.0,356.64 L170.4,356.74 L170.8,356.89 L171.2,356.93 L171.6,356.91 L172.0,356.75 L172.4,356.47 L172.8,356.51 L173.2,356.37 L173.6,356.15 L174.0,355.97 L174.4,356.17 L174.8,355.72 L175.2,355.61 L175.6,355.70 L176.0,355.78 L176.4,355.52 L176.8,355.20 L177.2,355.43 L177.6,355.56 L178.0,355.55 L178.4,355.85 L178.8,355.91 L179.2,355.68 L179.6,355.82 L180.0,355.81 L180.4,356.15 L180.8,356.09 L181.2,356.14 L181.6,356.45 L182.0,356.53 L182.4,356.54 L182.8,356.61 L183.2,356.65 L183.6,356.81 L184.0,356.80 L184.4,356.86 L184.8,356.75 L185.2,356.81 L185.6,356.63 L186.0,356.63 L186.4,356.73 L186.8,356.68 L187.2,356.73 L187.6,356.44 L188.0,356.51 L188.4,356.21 L188.8,356.10 L189.2,355.66 L189.6,355.73 L190.0,355.31 L190.4,354.94 L190.8,355.06 L191.2,355.22 L191.6,355.09 L192.0,354.78 L192.4,355.00 L192.8,355.41 L193.2,355.33 L193.6,355.08 L194.0,355.55 L194.4,355.34 L194.8,355.63 L195.2,356.07 L195.6,356.41 L196.0,356.51 L196.4,356.56 L196.8,356.76 L197.2,356.92 L197.6,356.87 L198.0,356.95 L198.4,356.94 L198.8,356.93 L199.2,356.85 L199.6,356.85 L200.0,356.95 L200.4,357.03 L200.8,356.87 L201.2,357.02 L201.6,357.09 L202.0,357.15 L202.4,356.95 L202.8,356.92 L203.2,356.78 L203.6,356.79 L204.0,356.88 L204.4,356.91 L204.8,356.84 L205.2,356.94 L205.6,356.83 L206.0,356.89 L206.4,357.03 L206.8,357.03 L207.2,356.96 L207.6,357.04 L208.0,356.86 L208.4,356.75 L208.8,356.80 L209.2,356.72 L209.6,356.73 L210.0,356.79 L210.4,356.94 L210.8,356.78 L211.2,356.70 L211.6,356.80 L212.0,356.87 L212.4,357.01 L212.8,356.93 L213.2,356.81 L213.6,356.88 L214.0,356.95 L214.4,356.90 L214.8,356.81 L215.2,356.94 L215.6,356.99 L216.0,356.90 L216.4,357.04 L216.8,356.86 L217.2,356.91 L217.6,356.75 L218.0,356.76 L218.4,356.84 L218.8,356.92 L219.2,356.90 L219.6,356.80 L220.0,356.49 L220.4,356.23 L220.8,356.11 L221.2,356.18 L221.6,356.04 L222.0,355.92 L222.4,356.07 L222.8,356.33 L223.2,356.31 L223.6,356.45 L224.0,356.56 L224.4,356.53 L224.8,356.65 L225.2,356.31 L225.6,356.37 L226.0,356.05 L226.4,355.89 L226.8,356.16 L227.2,355.81 L227.6,355.64 L228.0,355.71 L228.4,355.59 L228.8,355.79 L229.2,356.22 L229.6,356.44 L230.0,356.53 L230.4,356.39 L230.8,356.37 L231.2,356.68 L231.6,356.79 L232.0,356.94 L232.4,357.00 L232.8,356.99 L233.2,356.96 L233.6,357.02 L234.0,356.87 L234.4,356.90 L234.8,356.67 L235.2,356.64 L235.6,356.62 L236.0,356.43 L236.4,356.47 L236.8,356.51 L237.2,356.59 L237.6,356.56 L238.0,356.57 L238.4,356.36 L238.8,356.44 L239.2,356.36 L239.6,356.54 L240.0,356.76 L240.4,356.81 L240.8,356.83 L241.2,356.68 L241.6,356.85 L242.0,356.95 L242.4,357.04 L242.8,357.06 L243.2,356.85 L243.6,356.74 L244.0,356.89 L244.4,357.03 L244.8,356.98 L245.2,356.92 L245.6,357.03 L246.0,357.01 L246.4,356.88 L246.8,357.04 L247.2,356.91 L247.6,356.83 L248.0,356.73 L248.4,356.74 L248.8,356.70 L249.2,356.59 L249.6,356.59 L250.0,356.33 L250.4,356.19 L250.8,355.97 L251.2,355.96 L251.6,355.85 L252.0,355.85 L252.4,355.46 L252.8,355.47 L253.2,355.18 L253.6,354.98 L254.0,355.01 L254.4,355.05 L254.8,354.55 L255.2,354.15 L255.6,353.97 L256.0,354.18 L256.4,354.38 L256.8,355.11 L257.2,355.30 L257.6,354.96 L258.0,355.03 L258.4,355.24 L258.8,355.05 L259.2,354.57 L259.6,354.98 L260.0,355.22 L260.4,354.98 L260.8,354.45 L261.2,354.60 L261.6,354.90 L262.0,354.75 L262.4,355.41 L262.8,355.73 L263.2,355.77 L263.6,355.66 L264.0,355.56 L264.4,355.79 L264.8,355.95 L265.2,356.03 L265.6,356.26 L266.0,356.38 L266.4,356.28 L266.8,356.22 L267.2,356.54 L267.6,356.83 L268.0,356.77 L268.4,356.67 L268.8,356.68 L269.2,356.80 L269.6,356.76 L270.0,356.73 L270.4,356.71 L270.8,356.77 L271.2,356.63 L271.6,356.60 L272.0,356.74 L272.4,356.73 L272.8,356.82 L273.2,356.74 L273.6,356.47 L274.0,356.39 L274.4,356.29 L274.8,356.07 L275.2,356.27 L275.6,356.24 L276.0,356.14 L276.4,356.07 L276.8,355.89 L277.2,355.58 L277.6,355.38 L278.0,355.30 L278.4,355.03 L278.8,354.85 L279.2,354.23 L279.6,354.11 L280.0,353.99 L280.4,354.09 L280.8,354.09 L281.2,353.64 L281.6,353.73 L282.0,353.05 L282.4,352.76 L282.8,352.23 L283.2,352.23 L283.6,352.43 L284.0,352.83 L284.4,353.53 L284.8,353.00 L285.2,352.48 L285.6,352.16 L286.0,351.90 L286.4,352.86 L286.8,352.49 L287.2,352.88 L287.6,352.93 L288.0,352.20 L288.4,352.47 L288.8,352.59 L289.2,353.39 L289.6,353.80 L290.0,354.15 L290.4,354.49 L290.8,354.46 L291.2,355.06 L291.6,355.42 L292.0,355.69 L292.4,355.41 L292.8,355.23 L293.2,355.44 L293.6,355.80 L294.0,356.27 L294.4,356.22 L294.8,356.49 L295.2,356.63 L295.6,356.46 L296.0,356.14 L296.4,356.19 L296.8,355.93 L297.2,356.09 L297.6,355.91 L298.0,356.00 L298.4,356.07 L298.8,356.14 L299.2,356.30 L299.6,356.65 L300.0,356.74 L300.4,356.80 L300.8,356.77 L301.2,356.91 L301.6,356.89 L302.0,356.96 L302.4,357.03 L302.8,357.00 L303.2,356.86 L303.6,356.86 L304.0,356.92 L304.4,357.00 L304.8,357.00 L305.2,356.99 L305.6,357.03 L306.0,357.03 L306.4,357.06 L306.8,357.06 L307.2,356.94 L307.6,356.89 L308.0,356.85 L308.4,356.74 L308.8,356.75 L309.2,356.92 L309.6,356.94 L310.0,356.91 L310.4,356.82 L310.8,356.82 L311.2,356.96 L311.6,356.90 L312.0,356.78 L312.4,356.63 L312.8,356.63 L313.2,356.68 L313.6,356.75 L314.0,356.56 L314.4,356.28 L314.8,356.38 L315.2,356.20 L315.6,356.02 L316.0,355.91 L316.4,356.02 L316.8,356.16 L317.2,356.28 L317.6,356.17 L318.0,355.69 L318.4,355.69 L318.8,355.29 L319.2,355.13 L319.6,355.20 L320.0,355.34 L320.4,355.35 L320.8,355.16 L321.2,355.41 L321.6,355.69 L322.0,355.36 L322.4,355.39 L322.8,355.63 L323.2,355.82 L323.6,356.18 L324.0,356.20 L324.4,356.20 L324.8,356.40 L325.2,356.48 L325.6,356.56 L325.6,358.00Z" fill="#000" />
<rect x="248.40" y="302.30" width="13.50" height="56.00" fill="none" stroke="#3a3a3a" stroke-width="1.0" />
<rect x="268.80" y="302.30" width="13.90" height="56.00" fill="none" stroke="#3a3a3a" stroke-width="1.0" />
<line x1="64.40" y1="361.90" x2="108.30" y2="361.90" stroke="#2b3c9c" stroke-width="2.6" />
<line x1="108.30" y1="361.90" x2="216.00" y2="361.90" stroke="#5f6fcc" stroke-width="1.4" />
<rect x="107.40" y="360.10" width="1.80" height="3.60" fill="#3f4fb0" />
<rect x="126.90" y="360.10" width="1.80" height="3.60" fill="#3f4fb0" />
<rect x="160.90" y="360.10" width="1.80" height="3.60" fill="#3f4fb0" />
<rect x="166.80" y="360.10" width="1.80" height="3.60" fill="#3f4fb0" />
<rect x="207.10" y="360.10" width="1.80" height="3.60" fill="#3f4fb0" />
<rect x="215.10" y="360.10" width="1.80" height="3.60" fill="#3f4fb0" />
<text x="219.00" y="364.70" font-size="6.60" fill="#222" color="#222" font-style="italic" textLength="18.80" lengthAdjust="spacingAndGlyphs" >Clec5a</text>
<text x="69.80" y="377.60" font-size="6.20" fill="#222" color="#222" textLength="11.00" lengthAdjust="spacingAndGlyphs" >2Kb</text>
<line x1="69.20" y1="379.90" x2="100.90" y2="379.90" stroke="#555" stroke-width="1.3" />
<line x1="64.40" y1="391.20" x2="325.90" y2="391.20" stroke="#e2e2e2" stroke-width="0.7" />
<line x1="64.40" y1="399.00" x2="325.90" y2="399.00" stroke="#e2e2e2" stroke-width="0.7" />
<line x1="64.40" y1="406.80" x2="325.90" y2="406.80" stroke="#e2e2e2" stroke-width="0.7" />
<line x1="64.40" y1="414.60" x2="325.90" y2="414.60" stroke="#e2e2e2" stroke-width="0.7" />
<line x1="64.40" y1="422.40" x2="325.90" y2="422.40" stroke="#e2e2e2" stroke-width="0.7" />
<line x1="64.40" y1="430.20" x2="325.90" y2="430.20" stroke="#e2e2e2" stroke-width="0.7" />
<line x1="64.40" y1="383.10" x2="328.60" y2="383.10" stroke="#6a6a6a" stroke-width="1.2" />
<line x1="70.00" y1="382.50" x2="70.00" y2="384.00" stroke="#777" stroke-width="0.5" />
<line x1="82.50" y1="382.50" x2="82.50" y2="384.00" stroke="#777" stroke-width="0.5" />
<line x1="95.00" y1="382.50" x2="95.00" y2="384.00" stroke="#777" stroke-width="0.5" />
<line x1="107.50" y1="382.50" x2="107.50" y2="384.00" stroke="#777" stroke-width="0.5" />
<line x1="120.00" y1="382.50" x2="120.00" y2="384.00" stroke="#777" stroke-width="0.5" />
<line x1="132.50" y1="382.50" x2="132.50" y2="384.00" stroke="#777" stroke-width="0.5" />
<line x1="145.00" y1="382.50" x2="145.00" y2="384.00" stroke="#777" stroke-width="0.5" />
<line x1="157.50" y1="382.50" x2="157.50" y2="384.00" stroke="#777" stroke-width="0.5" />
<line x1="170.00" y1="382.50" x2="170.00" y2="384.00" stroke="#777" stroke-width="0.5" />
<line x1="182.50" y1="382.50" x2="182.50" y2="384.00" stroke="#777" stroke-width="0.5" />
<line x1="195.00" y1="382.50" x2="195.00" y2="384.00" stroke="#777" stroke-width="0.5" />
<line x1="207.50" y1="382.50" x2="207.50" y2="384.00" stroke="#777" stroke-width="0.5" />
<line x1="220.00" y1="382.50" x2="220.00" y2="384.00" stroke="#777" stroke-width="0.5" />
<line x1="232.50" y1="382.50" x2="232.50" y2="384.00" stroke="#777" stroke-width="0.5" />
<line x1="245.00" y1="382.50" x2="245.00" y2="384.00" stroke="#777" stroke-width="0.5" />
<line x1="257.50" y1="382.50" x2="257.50" y2="384.00" stroke="#777" stroke-width="0.5" />
<line x1="270.00" y1="382.50" x2="270.00" y2="384.00" stroke="#777" stroke-width="0.5" />
<line x1="282.50" y1="382.50" x2="282.50" y2="384.00" stroke="#777" stroke-width="0.5" />
<line x1="295.00" y1="382.50" x2="295.00" y2="384.00" stroke="#777" stroke-width="0.5" />
<line x1="307.50" y1="382.50" x2="307.50" y2="384.00" stroke="#777" stroke-width="0.5" />
<line x1="320.00" y1="382.50" x2="320.00" y2="384.00" stroke="#777" stroke-width="0.5" />
<text x="61.00" y="388.40" font-size="6.40" fill="#222" color="#222" text-anchor="end" textLength="23.90" lengthAdjust="spacingAndGlyphs" >WT 4wks</text>
<text x="24.80" y="397.40" font-size="6.40" fill="#222" color="#222" textLength="14.52" lengthAdjust="spacingAndGlyphs" >Cybb</text>
<text x="39.32" y="395.42" font-size="4.48" fill="#222" color="#222" stroke-width="0.05" textLength="6.29" lengthAdjust="spacingAndGlyphs" >KO</text>
<text x="46.83" y="397.40" font-size="6.40" fill="#222" color="#222" textLength="14.17" lengthAdjust="spacingAndGlyphs" >4wks</text>
<text x="61.00" y="404.90" font-size="6.40" fill="#222" color="#222" text-anchor="end" textLength="27.20" lengthAdjust="spacingAndGlyphs" >WT 12wks</text>
<text x="12.20" y="414.10" font-size="6.40" fill="#222" color="#222" textLength="14.93" lengthAdjust="spacingAndGlyphs" >Cybb</text>
<text x="27.13" y="412.12" font-size="4.48" fill="#222" color="#222" stroke-width="0.05" textLength="6.47" lengthAdjust="spacingAndGlyphs" >KO</text>
<text x="34.85" y="414.10" font-size="6.40" fill="#222" color="#222" textLength="19.44" lengthAdjust="spacingAndGlyphs" >CD11b</text>
<text x="54.28" y="412.12" font-size="4.48" fill="#222" color="#222" stroke-width="0.05" textLength="6.72" lengthAdjust="spacingAndGlyphs" >low</text>
<text x="10.20" y="422.20" font-size="6.40" fill="#222" color="#222" textLength="15.01" lengthAdjust="spacingAndGlyphs" >Cybb</text>
<text x="25.21" y="420.22" font-size="4.48" fill="#222" color="#222" stroke-width="0.05" textLength="6.50" lengthAdjust="spacingAndGlyphs" >KO</text>
<text x="32.96" y="422.20" font-size="6.40" fill="#222" color="#222" textLength="19.53" lengthAdjust="spacingAndGlyphs" >CD11b</text>
<text x="52.49" y="420.22" font-size="4.48" fill="#222" color="#222" stroke-width="0.05" textLength="8.51" lengthAdjust="spacingAndGlyphs" >high</text>
<text x="61.00" y="429.10" font-size="6.40" fill="#222" color="#222" text-anchor="end" textLength="26.60" lengthAdjust="spacingAndGlyphs" >H3K4Me1</text>
<text x="61.00" y="437.70" font-size="6.40" fill="#222" color="#222" text-anchor="end" textLength="23.70" lengthAdjust="spacingAndGlyphs" >H3K27ac</text>
<path d="M144.76,391.20 L144.76,391.06 L145.06,390.79 L145.36,389.93 L145.66,388.06 L145.96,385.77 L146.26,384.87 L146.56,386.10 L146.86,388.02 L147.16,389.19 L147.46,389.59 L147.76,389.72 L148.06,389.85 L148.36,390.04 L148.66,390.26 L148.96,390.48 L149.26,390.67 L149.56,390.80 L149.86,390.86 L150.16,390.83 L150.46,390.70 L150.76,390.51 L151.06,390.32 L151.36,390.21 L151.66,390.22 L151.96,390.35 L152.26,390.56 L152.56,390.78 L152.86,390.95 L153.16,391.06 L153.46,391.09 L153.76,391.06 L154.06,390.97 L154.36,390.84 L154.66,390.68 L154.96,390.53 L155.26,390.43 L155.56,390.40 L155.86,390.44 L156.16,390.54 L156.46,390.62 L156.76,390.63 L157.06,390.56 L157.36,390.45 L157.66,390.37 L157.96,390.40 L158.26,390.55 L158.56,390.75 L158.86,390.95 L159.16,391.08 L159.46,391.15 L159.76,391.18 L160.04,391.20Z" fill="#7d98da" />
<path d="M160.38,391.20 L160.38,391.19 L160.68,391.16 L160.98,391.06 L161.28,390.82 L161.58,390.42 L161.88,389.95 L162.18,389.63 L162.48,389.67 L162.78,390.04 L163.08,390.51 L163.38,390.88 L163.68,391.09 L163.98,391.17 L164.22,391.20Z" fill="#7d98da" />
<path d="M248.08,391.20 L248.08,391.20 L248.38,391.18 L248.68,391.13 L248.98,391.01 L249.28,390.81 L249.58,390.57 L249.88,390.40 L250.18,390.39 L250.48,390.49 L250.78,390.58 L251.08,390.54 L251.38,390.38 L251.68,390.23 L251.98,390.20 L252.28,390.34 L252.58,390.58 L252.88,390.82 L253.18,391.01 L253.48,391.12 L253.78,391.17 L254.08,391.19 L254.14,391.20Z" fill="#7d98da" />
<path d="M295.00,391.20 L295.00,391.20 L295.30,391.18 L295.60,391.13 L295.90,391.01 L296.20,390.84 L296.50,390.71 L296.80,390.74 L297.10,390.90 L297.40,391.06 L297.70,391.16 L298.00,391.19 L298.20,391.20Z" fill="#7d98da" />
<path d="M300.16,391.20 L300.16,391.19 L300.46,391.17 L300.76,391.15 L301.06,391.10 L301.36,391.02 L301.66,390.90 L301.96,390.73 L302.26,390.50 L302.56,390.23 L302.86,389.92 L303.16,389.62 L303.46,389.36 L303.76,389.12 L304.06,388.90 L304.36,388.58 L304.66,388.05 L304.96,387.18 L305.26,385.72 L305.56,383.92 L305.86,383.50 L306.16,384.63 L306.46,385.97 L306.76,387.36 L307.06,388.71 L307.36,389.79 L307.66,390.51 L307.96,390.90 L308.26,391.09 L308.56,391.20Z" fill="#7d98da" />
<path d="M84.80,399.00 L84.80,399.00 L85.10,398.99 L85.40,398.99 L85.70,398.97 L86.00,398.95 L86.30,398.91 L86.60,398.85 L86.90,398.78 L87.20,398.71 L87.50,398.65 L87.80,398.61 L88.10,398.60 L88.40,398.63 L88.70,398.69 L89.00,398.76 L89.30,398.83 L89.60,398.89 L89.90,398.93 L90.20,398.96 L90.50,398.98 L90.80,398.99 L91.10,399.00 L91.20,399.00Z" fill="#f39a90" />
<path d="M144.76,399.00 L144.76,398.86 L145.06,398.59 L145.36,397.73 L145.66,395.86 L145.96,393.57 L146.26,392.67 L146.56,393.90 L146.86,395.82 L147.16,396.99 L147.46,397.39 L147.76,397.52 L148.06,397.65 L148.36,397.84 L148.66,398.06 L148.96,398.28 L149.26,398.47 L149.56,398.60 L149.86,398.66 L150.16,398.63 L150.46,398.50 L150.76,398.31 L151.06,398.12 L151.36,398.01 L151.66,398.02 L151.96,398.15 L152.26,398.36 L152.56,398.58 L152.86,398.75 L153.16,398.86 L153.46,398.89 L153.76,398.86 L154.06,398.77 L154.36,398.64 L154.66,398.48 L154.96,398.33 L155.26,398.23 L155.56,398.20 L155.86,398.24 L156.16,398.33 L156.46,398.40 L156.76,398.40 L157.06,398.31 L157.36,398.17 L157.66,398.07 L157.96,398.10 L158.26,398.27 L158.56,398.50 L158.86,398.71 L159.16,398.86 L159.46,398.95 L159.76,398.98 L160.04,399.00Z" fill="#f39a90" />
<path d="M160.38,399.00 L160.38,398.99 L160.68,398.97 L160.98,398.88 L161.28,398.69 L161.58,398.37 L161.88,397.98 L162.18,397.73 L162.48,397.76 L162.78,398.06 L163.08,398.44 L163.38,398.74 L163.68,398.91 L163.98,398.97 L164.22,399.00Z" fill="#f39a90" />
<path d="M249.66,399.00 L249.66,398.99 L249.96,398.95 L250.26,398.84 L250.56,398.60 L250.86,398.17 L251.16,397.57 L251.46,396.95 L251.76,396.55 L252.06,396.56 L252.36,396.99 L252.66,397.61 L252.96,398.21 L253.26,398.62 L253.56,398.85 L253.86,398.95 L254.14,399.00Z" fill="#f39a90" />
<path d="M295.00,399.00 L295.00,399.00 L295.30,398.97 L295.60,398.89 L295.90,398.70 L296.20,398.42 L296.50,398.22 L296.80,398.26 L297.10,398.51 L297.40,398.78 L297.70,398.93 L298.00,398.98 L298.20,399.00Z" fill="#f39a90" />
<path d="M300.16,399.00 L300.16,398.99 L300.46,398.97 L300.76,398.95 L301.06,398.90 L301.36,398.82 L301.66,398.70 L301.96,398.53 L302.26,398.30 L302.56,398.03 L302.86,397.72 L303.16,397.43 L303.46,397.17 L303.76,396.96 L304.06,396.79 L304.36,396.60 L304.66,396.30 L304.96,395.81 L305.26,395.07 L305.56,394.25 L305.86,394.03 L306.16,394.53 L306.46,395.34 L306.76,396.31 L307.06,397.26 L307.36,398.02 L307.66,398.52 L307.96,398.79 L308.26,398.92 L308.56,399.00Z" fill="#f39a90" />
<path d="M144.76,406.80 L144.76,406.66 L145.06,406.41 L145.36,405.62 L145.66,403.90 L145.96,401.80 L146.26,400.96 L146.56,402.07 L146.86,403.79 L147.16,404.85 L147.46,405.20 L147.76,405.32 L148.06,405.45 L148.36,405.64 L148.66,405.86 L148.96,406.08 L149.26,406.27 L149.56,406.40 L149.86,406.46 L150.16,406.43 L150.46,406.30 L150.76,406.11 L151.06,405.92 L151.36,405.81 L151.66,405.82 L151.96,405.95 L152.26,406.16 L152.56,406.38 L152.86,406.55 L153.16,406.65 L153.46,406.68 L153.76,406.64 L154.06,406.54 L154.36,406.39 L154.66,406.22 L154.96,406.05 L155.26,405.93 L155.56,405.90 L155.86,405.96 L156.16,406.07 L156.46,406.19 L156.76,406.26 L157.06,406.26 L157.36,406.20 L157.66,406.16 L157.96,406.19 L158.26,406.31 L158.56,406.46 L158.86,406.61 L159.16,406.71 L159.46,406.76 L159.76,406.79 L160.04,406.80Z" fill="#2a3aa3" />
<path d="M160.38,406.80 L160.38,406.79 L160.68,406.75 L160.98,406.62 L161.28,406.33 L161.58,405.83 L161.88,405.23 L162.18,404.84 L162.48,404.89 L162.78,405.35 L163.08,405.94 L163.38,406.40 L163.68,406.66 L163.98,406.76 L164.22,406.80Z" fill="#2a3aa3" />
<path d="M249.66,406.80 L249.66,406.79 L249.96,406.77 L250.26,406.70 L250.56,406.56 L250.86,406.30 L251.16,405.94 L251.46,405.57 L251.76,405.33 L252.06,405.34 L252.36,405.59 L252.66,405.97 L252.96,406.32 L253.26,406.57 L253.56,406.71 L253.86,406.77 L254.14,406.80Z" fill="#2a3aa3" />
<path d="M295.00,406.80 L295.00,406.79 L295.30,406.77 L295.60,406.66 L295.90,406.42 L296.20,406.07 L296.50,405.82 L296.80,405.88 L297.10,406.19 L297.40,406.52 L297.70,406.71 L298.00,406.78 L298.20,406.80Z" fill="#2a3aa3" />
<path d="M300.16,406.80 L300.16,406.79 L300.46,406.77 L300.76,406.75 L301.06,406.70 L301.36,406.62 L301.66,406.50 L301.96,406.33 L302.26,406.10 L302.56,405.83 L302.86,405.52 L303.16,405.23 L303.46,404.96 L303.76,404.74 L304.06,404.55 L304.36,404.30 L304.66,403.90 L304.96,403.26 L305.26,402.35 L305.56,401.37 L305.86,401.04 L306.16,401.54 L306.46,402.47 L306.76,403.60 L307.06,404.73 L307.36,405.63 L307.66,406.22 L307.96,406.55 L308.26,406.71 L308.56,406.80Z" fill="#2a3aa3" />
<path d="M84.80,414.60 L84.80,414.41 L85.10,414.34 L85.40,414.23 L85.70,414.07 L86.00,413.84 L86.30,413.50 L86.60,413.07 L86.90,412.55 L87.20,412.02 L87.50,411.57 L87.80,411.28 L88.10,411.22 L88.40,411.40 L88.70,411.78 L89.00,412.27 L89.30,412.78 L89.60,413.23 L89.90,413.59 L90.20,413.86 L90.50,414.05 L90.80,414.18 L91.10,414.28 L91.40,414.35 L91.70,414.41 L92.00,414.45 L92.30,414.49 L92.60,414.52 L92.90,414.54 L93.20,414.56 L93.50,414.57 L93.80,414.58 L94.10,414.59 L94.40,414.59 L94.70,414.60 L94.70,414.60Z" fill="#ee3a1a" />
<path d="M144.76,414.60 L144.76,414.46 L145.06,414.19 L145.36,413.33 L145.66,411.46 L145.96,409.17 L146.26,408.27 L146.56,409.50 L146.86,411.42 L147.16,412.59 L147.46,412.99 L147.76,413.12 L148.06,413.25 L148.36,413.44 L148.66,413.66 L148.96,413.88 L149.26,414.07 L149.56,414.20 L149.86,414.26 L150.16,414.23 L150.46,414.10 L150.76,413.91 L151.06,413.72 L151.36,413.61 L151.66,413.62 L151.96,413.75 L152.26,413.96 L152.56,414.18 L152.86,414.35 L153.16,414.45 L153.46,414.47 L153.76,414.43 L154.06,414.32 L154.36,414.15 L154.66,413.95 L154.96,413.76 L155.26,413.63 L155.56,413.60 L155.86,413.66 L156.16,413.77 L156.46,413.87 L156.76,413.89 L157.06,413.81 L157.36,413.66 L157.66,413.56 L157.96,413.60 L158.26,413.79 L158.56,414.04 L158.86,414.28 L159.16,414.45 L159.46,414.54 L159.76,414.58 L160.04,414.60Z" fill="#ee3a1a" />
<path d="M160.38,414.60 L160.38,414.59 L160.68,414.56 L160.98,414.46 L161.28,414.22 L161.58,413.82 L161.88,413.35 L162.18,413.03 L162.48,413.07 L162.78,413.44 L163.08,413.91 L163.38,414.28 L163.68,414.49 L163.98,414.57 L164.22,414.60Z" fill="#ee3a1a" />
<path d="M178.60,414.60 L178.60,414.60 L178.90,414.58 L179.20,414.52 L179.50,414.37 L179.80,414.16 L180.10,414.01 L180.40,414.05 L180.70,414.24 L181.00,414.43 L181.30,414.55 L181.60,414.59 L181.80,414.60Z" fill="#ee3a1a" />
<path d="M249.66,414.60 L249.66,414.59 L249.96,414.58 L250.26,414.54 L250.56,414.44 L250.86,414.27 L251.16,414.03 L251.46,413.78 L251.76,413.62 L252.06,413.63 L252.36,413.79 L252.66,414.05 L252.96,414.28 L253.26,414.45 L253.56,414.54 L253.86,414.58 L254.14,414.60Z" fill="#ee3a1a" />
<path d="M260.40,414.60 L260.40,414.60 L260.70,414.59 L261.00,414.56 L261.30,414.49 L261.60,414.38 L261.90,414.31 L262.20,414.32 L262.50,414.42 L262.80,414.52 L263.10,414.57 L263.40,414.59 L263.60,414.60Z" fill="#ee3a1a" />
<path d="M295.00,414.60 L295.00,414.59 L295.30,414.57 L295.60,414.46 L295.90,414.22 L296.20,413.87 L296.50,413.62 L296.80,413.68 L297.10,413.99 L297.40,414.32 L297.70,414.51 L298.00,414.58 L298.20,414.60Z" fill="#ee3a1a" />
<path d="M300.16,414.60 L300.16,414.59 L300.46,414.57 L300.76,414.55 L301.06,414.50 L301.36,414.42 L301.66,414.30 L301.96,414.13 L302.26,413.90 L302.56,413.63 L302.86,413.32 L303.16,413.03 L303.46,412.76 L303.76,412.54 L304.06,412.35 L304.36,412.10 L304.66,411.70 L304.96,411.06 L305.26,410.15 L305.56,409.17 L305.86,408.84 L306.16,409.34 L306.46,410.27 L306.76,411.40 L307.06,412.53 L307.36,413.43 L307.66,414.02 L307.96,414.35 L308.26,414.51 L308.56,414.60Z" fill="#ee3a1a" />
<path d="M84.80,422.40 L84.80,422.11 L85.10,421.99 L85.40,421.80 L85.70,421.50 L86.00,421.05 L86.30,420.40 L86.60,419.54 L86.90,418.51 L87.20,417.45 L87.50,416.53 L87.80,415.94 L88.10,415.83 L88.40,416.22 L88.70,417.00 L89.00,418.00 L89.30,419.02 L89.60,419.93 L89.90,420.64 L90.20,421.16 L90.50,421.51 L90.80,421.74 L91.10,421.91 L91.40,422.02 L91.70,422.11 L92.00,422.18 L92.30,422.24 L92.60,422.28 L92.90,422.31 L93.20,422.34 L93.50,422.36 L93.80,422.37 L94.10,422.38 L94.40,422.39 L94.70,422.39 L94.70,422.40Z" fill="#6e0c0c" />
<path d="M144.76,422.40 L144.76,422.28 L145.06,422.05 L145.36,421.35 L145.66,419.81 L145.96,417.93 L146.26,417.18 L146.56,418.18 L146.86,419.74 L147.16,420.69 L147.46,421.01 L147.76,421.12 L148.06,421.23 L148.36,421.39 L148.66,421.58 L148.96,421.77 L149.26,421.94 L149.56,422.05 L149.86,422.09 L150.16,422.04 L150.46,421.91 L150.76,421.72 L151.06,421.52 L151.36,421.41 L151.66,421.42 L151.96,421.55 L152.26,421.76 L152.56,421.98 L152.86,422.15 L153.16,422.25 L153.46,422.27 L153.76,422.23 L154.06,422.12 L154.36,421.95 L154.66,421.75 L154.96,421.56 L155.26,421.43 L155.56,421.40 L155.86,421.45 L156.16,421.56 L156.46,421.64 L156.76,421.63 L157.06,421.49 L157.36,421.30 L157.66,421.17 L157.96,421.21 L158.26,421.42 L158.56,421.73 L158.86,422.02 L159.16,422.22 L159.46,422.33 L159.76,422.38 L160.04,422.40Z" fill="#6e0c0c" />
<path d="M160.38,422.40 L160.38,422.39 L160.68,422.36 L160.98,422.27 L161.28,422.05 L161.58,421.67 L161.88,421.23 L162.18,420.93 L162.48,420.97 L162.78,421.31 L163.08,421.76 L163.38,422.10 L163.68,422.29 L163.98,422.37 L164.22,422.40Z" fill="#6e0c0c" />
<path d="M178.60,422.40 L178.60,422.39 L178.90,422.37 L179.20,422.26 L179.50,422.02 L179.80,421.67 L180.10,421.42 L180.40,421.48 L180.70,421.79 L181.00,422.12 L181.30,422.31 L181.60,422.38 L181.80,422.40Z" fill="#6e0c0c" />
<path d="M249.66,422.40 L249.66,422.39 L249.96,422.35 L250.26,422.24 L250.56,422.00 L250.86,421.57 L251.16,420.97 L251.46,420.35 L251.76,419.95 L252.06,419.96 L252.36,420.39 L252.66,421.01 L252.96,421.61 L253.26,422.02 L253.56,422.25 L253.86,422.35 L254.14,422.40Z" fill="#6e0c0c" />
<path d="M260.40,422.40 L260.40,422.40 L260.70,422.37 L261.00,422.29 L261.30,422.10 L261.60,421.82 L261.90,421.62 L262.20,421.66 L262.50,421.91 L262.80,422.18 L263.10,422.33 L263.40,422.38 L263.60,422.40Z" fill="#6e0c0c" />
<path d="M300.16,422.40 L300.16,422.39 L300.46,422.37 L300.76,422.35 L301.06,422.30 L301.36,422.22 L301.66,422.10 L301.96,421.93 L302.26,421.70 L302.56,421.43 L302.86,421.12 L303.16,420.83 L303.46,420.57 L303.76,420.36 L304.06,420.18 L304.36,419.97 L304.66,419.65 L304.96,419.12 L305.26,418.34 L305.56,417.48 L305.86,417.23 L306.16,417.73 L306.46,418.58 L306.76,419.58 L307.06,420.58 L307.36,421.37 L307.66,421.89 L307.96,422.18 L308.26,422.32 L308.56,422.40Z" fill="#6e0c0c" />
<path d="M64.4,430.20 L64.4,429.35 L64.8,429.34 L65.2,429.17 L65.6,428.89 L66.0,429.04 L66.4,429.18 L66.8,429.23 L67.2,429.05 L67.6,429.29 L68.0,429.20 L68.4,429.20 L68.8,429.39 L69.2,429.34 L69.6,429.31 L70.0,429.28 L70.4,429.68 L70.8,429.73 L71.2,429.77 L71.6,429.59 L72.0,429.61 L72.4,429.69 L72.8,429.73 L73.2,429.77 L73.6,429.72 L74.0,429.85 L74.4,429.94 L74.8,429.96 L75.2,429.39 L75.6,429.26 L76.0,429.20 L76.4,429.30 L76.8,429.38 L77.2,429.15 L77.6,428.89 L78.0,429.09 L78.4,428.85 L78.8,428.59 L79.2,428.52 L79.6,428.73 L80.0,428.53 L80.4,428.48 L80.8,428.81 L81.2,428.79 L81.6,429.05 L82.0,429.32 L82.4,429.84 L82.8,429.90 L83.2,429.95 L83.6,429.95 L84.0,429.26 L84.4,429.13 L84.8,428.99 L85.2,428.84 L85.6,428.77 L86.0,428.89 L86.4,429.00 L86.8,428.82 L87.2,428.72 L87.6,428.59 L88.0,428.86 L88.4,428.99 L88.8,428.68 L89.2,428.72 L89.6,428.74 L90.0,429.08 L90.4,429.14 L90.8,428.93 L91.2,429.59 L91.6,429.48 L92.0,429.57 L92.4,429.56 L92.8,429.47 L93.2,429.54 L93.6,429.54 L94.0,429.65 L94.4,429.84 L94.8,429.97 L95.2,429.98 L95.6,430.08 L96.0,429.65 L96.4,429.67 L96.8,429.59 L97.2,429.51 L97.6,429.55 L98.0,429.57 L98.4,429.52 L98.8,429.60 L99.2,429.63 L99.6,429.59 L100.0,429.56 L100.4,430.20 L100.8,430.20 L101.2,430.20 L101.6,430.20 L102.0,430.20 L102.4,430.20 L102.8,430.20 L103.2,430.20 L103.6,430.20 L104.0,429.44 L104.4,429.54 L104.8,429.68 L105.2,429.68 L105.6,429.70 L106.0,429.74 L106.4,429.79 L106.8,429.80 L107.2,429.64 L107.6,429.73 L108.0,429.65 L108.4,430.20 L108.8,430.20 L109.2,430.20 L109.6,430.20 L110.0,430.20 L110.4,430.20 L110.8,430.20 L111.2,430.20 L111.6,430.20 L112.0,429.57 L112.4,429.58 L112.8,429.53 L113.2,429.57 L113.6,429.53 L114.0,429.57 L114.4,429.67 L114.8,429.73 L115.2,429.61 L115.6,429.55 L116.0,429.46 L116.4,429.47 L116.8,429.50 L117.2,429.62 L117.6,429.53 L118.0,429.65 L118.4,430.20 L118.8,430.20 L119.2,430.20 L119.6,430.20 L120.0,430.20 L120.4,430.20 L120.8,430.20 L121.2,430.20 L121.6,430.20 L122.0,429.52 L122.4,429.48 L122.8,429.64 L123.2,429.59 L123.6,429.50 L124.0,429.60 L124.4,429.67 L124.8,429.57 L125.2,429.61 L125.6,429.63 L126.0,429.54 L126.4,429.59 L126.8,429.67 L127.2,429.71 L127.6,429.70 L128.0,429.61 L128.4,430.20 L128.8,430.20 L129.2,430.20 L129.6,430.20 L130.0,430.20 L130.4,430.20 L130.8,430.20 L131.2,430.20 L131.6,430.20 L132.0,430.20 L132.4,430.20 L132.8,430.20 L133.2,429.71 L133.6,429.67 L134.0,429.76 L134.4,429.82 L134.8,429.76 L135.2,429.63 L135.6,429.67 L136.0,429.54 L136.4,429.54 L136.8,429.58 L137.2,429.51 L137.6,429.60 L138.0,429.55 L138.4,429.44 L138.8,429.44 L139.2,429.47 L139.6,429.54 L140.0,429.40 L140.4,429.41 L140.8,429.31 L141.2,429.13 L141.6,428.78 L142.0,428.65 L142.4,428.64 L142.8,428.43 L143.2,428.63 L143.6,428.72 L144.0,428.61 L144.4,428.64 L144.8,428.87 L145.2,428.89 L145.6,428.66 L146.0,428.84 L146.4,428.66 L146.8,428.91 L147.2,428.46 L147.6,428.31 L148.0,428.43 L148.4,427.99 L148.8,427.83 L149.2,428.29 L149.6,428.43 L150.0,428.32 L150.4,427.85 L150.8,428.28 L151.2,428.64 L151.6,428.65 L152.0,428.89 L152.4,428.77 L152.8,428.63 L153.2,428.63 L153.6,428.85 L154.0,429.05 L154.4,428.65 L154.8,428.64 L155.2,428.59 L155.6,428.54 L156.0,428.36 L156.4,428.07 L156.8,427.93 L157.2,427.91 L157.6,428.19 L158.0,428.48 L158.4,428.73 L158.8,428.31 L159.2,428.66 L159.6,428.50 L160.0,428.16 L160.4,428.38 L160.8,428.46 L161.2,428.49 L161.6,428.13 L162.0,428.11 L162.4,428.02 L162.8,428.55 L163.2,428.43 L163.6,428.59 L164.0,428.77 L164.4,428.70 L164.8,428.78 L165.2,428.81 L165.6,428.96 L166.0,429.02 L166.4,429.95 L166.8,430.03 L167.2,430.08 L167.6,430.13 L168.0,430.16 L168.4,430.18 L168.8,430.18 L169.2,430.19 L169.6,430.20 L170.0,429.63 L170.4,429.68 L170.8,429.69 L171.2,429.54 L171.6,429.58 L172.0,429.64 L172.4,429.68 L172.8,429.66 L173.2,429.60 L173.6,429.63 L174.0,429.70 L174.4,429.72 L174.8,429.73 L175.2,430.20 L175.6,430.20 L176.0,430.20 L176.4,430.20 L176.8,430.20 L177.2,430.20 L177.6,430.20 L178.0,430.20 L178.4,430.20 L178.8,430.20 L179.2,430.20 L179.6,430.20 L180.0,429.60 L180.4,429.64 L180.8,429.58 L181.2,429.59 L181.6,429.70 L182.0,429.64 L182.4,429.67 L182.8,429.56 L183.2,429.56 L183.6,429.51 L184.0,429.64 L184.4,429.57 L184.8,429.56 L185.2,429.49 L185.6,429.44 L186.0,429.49 L186.4,430.20 L186.8,430.20 L187.2,430.20 L187.6,430.20 L188.0,430.20 L188.4,430.19 L188.8,430.19 L189.2,430.19 L189.6,430.19 L190.0,429.53 L190.4,429.66 L190.8,429.59 L191.2,429.67 L191.6,429.51 L192.0,429.53 L192.4,429.52 L192.8,429.44 L193.2,429.37 L193.6,429.52 L194.0,429.52 L194.4,429.59 L194.8,429.54 L195.2,429.61 L195.6,429.42 L196.0,429.45 L196.4,429.46 L196.8,429.29 L197.2,429.20 L197.6,429.30 L198.0,429.31 L198.4,429.25 L198.8,429.38 L199.2,429.48 L199.6,429.28 L200.0,429.41 L200.4,429.90 L200.8,429.88 L201.2,429.89 L201.6,429.92 L202.0,429.90 L202.4,429.90 L202.8,429.98 L203.2,429.95 L203.6,429.97 L204.0,429.42 L204.4,429.54 L204.8,429.63 L205.2,429.49 L205.6,429.40 L206.0,429.49 L206.4,429.60 L206.8,429.69 L207.2,429.66 L207.6,429.67 L208.0,429.75 L208.4,429.73 L208.8,429.59 L209.2,429.70 L209.6,429.68 L210.0,429.64 L210.4,429.70 L210.8,429.77 L211.2,429.81 L211.6,429.81 L212.0,429.61 L212.4,429.52 L212.8,429.50 L213.2,429.44 L213.6,429.55 L214.0,429.63 L214.4,430.20 L214.8,430.20 L215.2,430.20 L215.6,430.20 L216.0,430.20 L216.4,430.20 L216.8,430.20 L217.2,430.20 L217.6,430.20 L218.0,429.75 L218.4,429.68 L218.8,429.54 L219.2,429.55 L219.6,429.65 L220.0,429.59 L220.4,429.56 L220.8,429.67 L221.2,429.54 L221.6,429.53 L222.0,429.56 L222.4,429.61 L222.8,429.69 L223.2,429.66 L223.6,429.67 L224.0,429.71 L224.4,429.63 L224.8,429.58 L225.2,429.48 L225.6,429.41 L226.0,429.50 L226.4,429.49 L226.8,429.56 L227.2,429.59 L227.6,429.58 L228.0,429.47 L228.4,429.63 L228.8,429.62 L229.2,429.65 L229.6,429.55 L230.0,430.18 L230.4,430.18 L230.8,430.18 L231.2,430.17 L231.6,430.17 L232.0,430.16 L232.4,430.14 L232.8,430.14 L233.2,429.48 L233.6,429.42 L234.0,429.57 L234.4,429.60 L234.8,429.49 L235.2,429.32 L235.6,429.22 L236.0,429.35 L236.4,429.21 L236.8,429.34 L237.2,429.35 L237.6,429.46 L238.0,429.37 L238.4,429.38 L238.8,429.28 L239.2,429.12 L239.6,429.33 L240.0,429.26 L240.4,429.24 L240.8,429.35 L241.2,429.50 L241.6,429.28 L242.0,429.24 L242.4,429.25 L242.8,429.44 L243.2,429.30 L243.6,429.38 L244.0,429.42 L244.4,429.42 L244.8,429.46 L245.2,430.05 L245.6,430.08 L246.0,430.09 L246.4,430.10 L246.8,430.11 L247.2,430.14 L247.6,430.15 L248.0,429.46 L248.4,429.48 L248.8,429.55 L249.2,429.47 L249.6,429.61 L250.0,429.67 L250.4,429.74 L250.8,429.64 L251.2,429.63 L251.6,429.66 L252.0,429.65 L252.4,429.69 L252.8,429.60 L253.2,429.54 L253.6,429.59 L254.0,429.51 L254.4,429.65 L254.8,429.62 L255.2,429.69 L255.6,429.75 L256.0,429.67 L256.4,429.74 L256.8,429.78 L257.2,429.78 L257.6,429.72 L258.0,429.54 L258.4,429.57 L258.8,429.61 L259.2,429.43 L259.6,429.26 L260.0,429.05 L260.4,429.26 L260.8,429.33 L261.2,429.26 L261.6,428.97 L262.0,429.00 L262.4,428.88 L262.8,429.12 L263.2,429.19 L263.6,429.17 L264.0,429.36 L264.4,429.38 L264.8,429.32 L265.2,429.32 L265.6,429.36 L266.0,429.37 L266.4,429.33 L266.8,429.41 L267.2,429.55 L267.6,429.64 L268.0,429.73 L268.4,429.58 L268.8,429.56 L269.2,429.55 L269.6,429.47 L270.0,429.45 L270.4,429.51 L270.8,429.48 L271.2,429.59 L271.6,429.59 L272.0,429.54 L272.4,429.33 L272.8,429.20 L273.2,429.11 L273.6,429.12 L274.0,429.13 L274.4,429.12 L274.8,429.27 L275.2,429.23 L275.6,428.97 L276.0,428.90 L276.4,429.14 L276.8,429.20 L277.2,429.18 L277.6,429.40 L278.0,429.48 L278.4,429.48 L278.8,429.60 L279.2,429.48 L279.6,429.65 L280.0,429.53 L280.4,429.52 L280.8,429.57 L281.2,429.63 L281.6,429.52 L282.0,429.47 L282.4,429.55 L282.8,429.54 L283.2,429.57 L283.6,429.34 L284.0,429.19 L284.4,429.07 L284.8,428.71 L285.2,428.71 L285.6,428.78 L286.0,428.37 L286.4,428.11 L286.8,428.08 L287.2,428.30 L287.6,428.36 L288.0,428.32 L288.4,428.75 L288.8,428.82 L289.2,428.80 L289.6,428.53 L290.0,428.65 L290.4,428.50 L290.8,428.80 L291.2,428.67 L291.6,428.96 L292.0,429.11 L292.4,429.22 L292.8,429.23 L293.2,429.30 L293.6,429.38 L294.0,429.26 L294.4,429.01 L294.8,428.99 L295.2,428.43 L295.6,428.39 L296.0,427.92 L296.4,428.15 L296.8,427.89 L297.2,427.76 L297.6,427.57 L298.0,426.55 L298.4,426.50 L298.8,426.40 L299.2,425.50 L299.6,425.77 L300.0,425.79 L300.4,425.10 L300.8,425.14 L301.2,425.22 L301.6,425.56 L302.0,425.91 L302.4,426.77 L302.8,425.51 L303.2,424.34 L303.6,425.02 L304.0,426.40 L304.4,427.45 L304.8,428.25 L305.2,428.05 L305.6,427.31 L306.0,427.37 L306.4,427.81 L306.8,428.36 L307.2,428.22 L307.6,428.54 L308.0,428.84 L308.4,428.50 L308.8,428.47 L309.2,427.97 L309.6,427.98 L310.0,428.23 L310.4,428.51 L310.8,428.88 L311.2,428.64 L311.6,428.92 L312.0,428.95 L312.4,428.99 L312.8,429.20 L313.2,429.25 L313.6,429.14 L314.0,429.02 L314.4,428.99 L314.8,429.01 L315.2,428.95 L315.6,429.08 L316.0,428.78 L316.4,428.65 L316.8,428.58 L317.2,428.82 L317.6,428.88 L318.0,429.06 L318.4,429.07 L318.8,429.18 L319.2,429.15 L319.6,429.08 L320.0,429.12 L320.4,429.16 L320.8,428.70 L321.2,428.42 L321.6,428.34 L322.0,428.04 L322.4,428.46 L322.8,428.41 L323.2,428.64 L323.6,429.07 L324.0,429.32 L324.4,429.51 L324.8,429.53 L325.2,429.27 L325.6,429.14 L326.0,429.20 L326.4,428.98 L326.8,428.54 L327.2,428.44 L327.6,428.76 L328.0,428.95 L328.4,429.19 L328.6,430.20Z" fill="#1e8a3c" />
<path d="M64.4,438.50 L64.4,436.13 L64.8,436.06 L65.2,435.88 L65.6,435.08 L66.0,434.97 L66.4,434.61 L66.8,435.10 L67.2,434.93 L67.6,434.46 L68.0,434.62 L68.4,434.31 L68.8,434.31 L69.2,434.96 L69.6,435.78 L70.0,435.61 L70.4,436.14 L70.8,436.57 L71.2,436.31 L71.6,436.14 L72.0,436.10 L72.4,436.05 L72.8,436.52 L73.2,436.89 L73.6,437.10 L74.0,436.79 L74.4,437.08 L74.8,437.24 L75.2,437.40 L75.6,437.48 L76.0,437.53 L76.4,437.40 L76.8,437.41 L77.2,437.34 L77.6,436.98 L78.0,437.13 L78.4,436.89 L78.8,436.77 L79.2,436.78 L79.6,436.78 L80.0,436.69 L80.4,436.73 L80.8,436.95 L81.2,437.03 L81.6,437.13 L82.0,437.13 L82.4,436.85 L82.8,436.97 L83.2,437.21 L83.6,437.17 L84.0,436.99 L84.4,437.06 L84.8,436.97 L85.2,437.20 L85.6,437.34 L86.0,437.13 L86.4,437.29 L86.8,437.25 L87.2,437.17 L87.6,437.21 L88.0,437.30 L88.4,437.37 L88.8,436.90 L89.2,436.76 L89.6,436.52 L90.0,436.63 L90.4,436.46 L90.8,436.42 L91.2,436.54 L91.6,436.68 L92.0,436.78 L92.4,437.01 L92.8,437.08 L93.2,436.97 L93.6,437.17 L94.0,437.00 L94.4,437.07 L94.8,437.08 L95.2,437.01 L95.6,437.05 L96.0,437.28 L96.4,437.38 L96.8,437.54 L97.2,437.62 L97.6,437.31 L98.0,437.27 L98.4,437.10 L98.8,437.07 L99.2,437.23 L99.6,437.08 L100.0,437.01 L100.4,437.14 L100.8,437.36 L101.2,437.41 L101.6,437.49 L102.0,437.47 L102.4,437.56 L102.8,437.37 L103.2,437.16 L103.6,437.33 L104.0,437.21 L104.4,437.21 L104.8,437.25 L105.2,437.11 L105.6,437.23 L106.0,437.13 L106.4,437.38 L106.8,437.16 L107.2,437.34 L107.6,437.51 L108.0,437.27 L108.4,437.19 L108.8,437.16 L109.2,437.10 L109.6,437.22 L110.0,437.39 L110.4,437.41 L110.8,437.17 L111.2,437.01 L111.6,437.21 L112.0,437.24 L112.4,437.26 L112.8,437.08 L113.2,437.33 L113.6,437.14 L114.0,437.26 L114.4,437.21 L114.8,437.35 L115.2,437.45 L115.6,437.17 L116.0,437.16 L116.4,436.94 L116.8,436.85 L117.2,436.85 L117.6,437.14 L118.0,437.09 L118.4,436.87 L118.8,436.96 L119.2,437.21 L119.6,437.31 L120.0,437.01 L120.4,436.83 L120.8,437.05 L121.2,437.16 L121.6,437.05 L122.0,437.07 L122.4,437.24 L122.8,436.98 L123.2,437.00 L123.6,437.12 L124.0,437.35 L124.4,437.27 L124.8,437.13 L125.2,437.29 L125.6,437.43 L126.0,437.25 L126.4,437.07 L126.8,437.19 L127.2,437.22 L127.6,437.18 L128.0,437.20 L128.4,437.37 L128.8,437.42 L129.2,437.48 L129.6,437.52 L130.0,437.58 L130.4,437.50 L130.8,437.53 L131.2,437.30 L131.6,437.36 L132.0,437.15 L132.4,437.09 L132.8,437.26 L133.2,437.41 L133.6,437.34 L134.0,437.33 L134.4,437.30 L134.8,437.45 L135.2,437.38 L135.6,437.25 L136.0,437.29 L136.4,437.39 L136.8,437.19 L137.2,437.31 L137.6,437.12 L138.0,437.12 L138.4,437.38 L138.8,437.37 L139.2,437.48 L139.6,437.30 L140.0,437.33 L140.4,437.48 L140.8,437.23 L141.2,437.14 L141.6,437.17 L142.0,437.19 L142.4,437.40 L142.8,437.17 L143.2,437.30 L143.6,437.29 L144.0,437.30 L144.4,437.31 L144.8,437.49 L145.2,437.26 L145.6,437.28 L146.0,437.33 L146.4,437.18 L146.8,437.09 L147.2,437.09 L147.6,437.02 L148.0,437.19 L148.4,437.38 L148.8,437.41 L149.2,437.33 L149.6,437.21 L150.0,437.15 L150.4,437.16 L150.8,437.18 L151.2,437.16 L151.6,437.19 L152.0,437.42 L152.4,437.35 L152.8,437.42 L153.2,437.54 L153.6,437.40 L154.0,437.23 L154.4,437.34 L154.8,437.26 L155.2,437.23 L155.6,437.19 L156.0,437.09 L156.4,437.10 L156.8,437.34 L157.2,437.28 L157.6,437.35 L158.0,437.36 L158.4,437.27 L158.8,437.41 L159.2,437.32 L159.6,437.14 L160.0,437.37 L160.4,437.21 L160.8,437.16 L161.2,437.25 L161.6,437.17 L162.0,437.38 L162.4,437.48 L162.8,437.22 L163.2,437.20 L163.6,437.37 L164.0,437.48 L164.4,437.43 L164.8,437.36 L165.2,437.15 L165.6,437.33 L166.0,437.27 L166.4,437.30 L166.8,437.28 L167.2,437.12 L167.6,437.34 L168.0,437.19 L168.4,437.15 L168.8,437.30 L169.2,437.44 L169.6,437.29 L170.0,437.16 L170.4,437.28 L170.8,437.42 L171.2,437.35 L171.6,437.27 L172.0,437.33 L172.4,437.35 L172.8,437.49 L173.2,437.55 L173.6,437.56 L174.0,437.35 L174.4,437.48 L174.8,437.52 L175.2,437.45 L175.6,437.50 L176.0,437.52 L176.4,437.34 L176.8,437.43 L177.2,437.35 L177.6,437.49 L178.0,437.41 L178.4,437.29 L178.8,437.31 L179.2,437.43 L179.6,437.56 L180.0,437.54 L180.4,437.48 L180.8,437.56 L181.2,437.48 L181.6,437.41 L182.0,437.53 L182.4,437.38 L182.8,437.17 L183.2,437.14 L183.6,437.23 L184.0,437.13 L184.4,437.02 L184.8,436.96 L185.2,436.92 L185.6,436.97 L186.0,436.93 L186.4,436.97 L186.8,437.17 L187.2,437.36 L187.6,437.34 L188.0,437.24 L188.4,437.34 L188.8,437.37 L189.2,437.50 L189.6,437.59 L190.0,437.55 L190.4,437.30 L190.8,437.46 L191.2,437.51 L191.6,437.45 L192.0,437.17 L192.4,437.31 L192.8,437.46 L193.2,437.54 L193.6,437.47 L194.0,437.56 L194.4,437.34 L194.8,437.46 L195.2,437.47 L195.6,437.52 L196.0,437.47 L196.4,437.52 L196.8,437.51 L197.2,437.49 L197.6,437.45 L198.0,437.26 L198.4,437.25 L198.8,437.32 L199.2,437.45 L199.6,437.15 L200.0,436.97 L200.4,436.82 L200.8,436.84 L201.2,436.98 L201.6,437.11 L202.0,437.25 L202.4,437.23 L202.8,437.23 L203.2,437.01 L203.6,437.20 L204.0,437.10 L204.4,437.03 L204.8,437.03 L205.2,437.05 L205.6,437.30 L206.0,437.42 L206.4,437.33 L206.8,437.25 L207.2,437.06 L207.6,437.02 L208.0,437.23 L208.4,437.38 L208.8,437.23 L209.2,437.44 L209.6,437.21 L210.0,437.40 L210.4,437.31 L210.8,437.17 L211.2,437.38 L211.6,437.50 L212.0,437.36 L212.4,437.25 L212.8,437.46 L213.2,437.41 L213.6,437.25 L214.0,437.16 L214.4,437.26 L214.8,437.46 L215.2,437.35 L215.6,437.32 L216.0,437.34 L216.4,437.29 L216.8,437.26 L217.2,437.28 L217.6,437.27 L218.0,437.26 L218.4,437.17 L218.8,437.11 L219.2,437.37 L219.6,437.23 L220.0,437.36 L220.4,437.36 L220.8,437.45 L221.2,437.46 L221.6,437.44 L222.0,437.40 L222.4,437.51 L222.8,437.51 L223.2,437.44 L223.6,437.43 L224.0,437.37 L224.4,437.50 L224.8,437.40 L225.2,437.20 L225.6,437.15 L226.0,437.19 L226.4,437.12 L226.8,437.24 L227.2,437.39 L227.6,437.31 L228.0,437.40 L228.4,437.45 L228.8,437.29 L229.2,437.29 L229.6,437.42 L230.0,437.48 L230.4,437.32 L230.8,437.25 L231.2,437.12 L231.6,437.10 L232.0,437.26 L232.4,437.20 L232.8,437.09 L233.2,437.03 L233.6,436.98 L234.0,437.24 L234.4,437.36 L234.8,437.46 L235.2,437.28 L235.6,437.21 L236.0,437.22 L236.4,437.37 L236.8,437.38 L237.2,437.27 L237.6,437.46 L238.0,437.25 L238.4,437.19 L238.8,437.08 L239.2,437.00 L239.6,437.11 L240.0,437.26 L240.4,437.32 L240.8,437.32 L241.2,437.27 L241.6,437.37 L242.0,437.42 L242.4,437.37 L242.8,437.25 L243.2,437.46 L243.6,437.24 L244.0,437.21 L244.4,437.24 L244.8,437.24 L245.2,437.14 L245.6,437.23 L246.0,437.32 L246.4,437.47 L246.8,437.46 L247.2,437.56 L247.6,437.54 L248.0,437.38 L248.4,437.38 L248.8,437.16 L249.2,437.19 L249.6,437.06 L250.0,437.22 L250.4,436.99 L250.8,436.88 L251.2,436.78 L251.6,436.74 L252.0,436.84 L252.4,437.05 L252.8,436.85 L253.2,436.65 L253.6,436.77 L254.0,436.68 L254.4,436.70 L254.8,436.64 L255.2,436.53 L255.6,436.61 L256.0,436.93 L256.4,436.97 L256.8,436.96 L257.2,437.13 L257.6,437.01 L258.0,437.13 L258.4,437.32 L258.8,437.32 L259.2,437.16 L259.6,437.13 L260.0,437.24 L260.4,437.28 L260.8,437.20 L261.2,437.09 L261.6,437.32 L262.0,437.43 L262.4,437.41 L262.8,437.47 L263.2,437.52 L263.6,437.51 L264.0,437.56 L264.4,437.64 L264.8,437.53 L265.2,437.46 L265.6,437.35 L266.0,437.16 L266.4,437.04 L266.8,437.15 L267.2,437.28 L267.6,437.23 L268.0,437.26 L268.4,437.22 L268.8,437.04 L269.2,437.00 L269.6,436.86 L270.0,436.84 L270.4,436.82 L270.8,436.69 L271.2,436.71 L271.6,436.70 L272.0,436.70 L272.4,436.54 L272.8,436.65 L273.2,436.77 L273.6,436.73 L274.0,436.92 L274.4,436.71 L274.8,436.73 L275.2,436.83 L275.6,436.73 L276.0,436.67 L276.4,436.70 L276.8,436.89 L277.2,436.91 L277.6,437.19 L278.0,437.18 L278.4,437.37 L278.8,437.23 L279.2,437.39 L279.6,437.42 L280.0,437.22 L280.4,437.14 L280.8,437.30 L281.2,437.47 L281.6,437.21 L282.0,437.26 L282.4,437.43 L282.8,437.34 L283.2,437.15 L283.6,437.10 L284.0,437.17 L284.4,437.08 L284.8,437.04 L285.2,436.66 L285.6,436.42 L286.0,436.56 L286.4,436.34 L286.8,436.02 L287.2,436.22 L287.6,436.39 L288.0,436.16 L288.4,435.98 L288.8,436.06 L289.2,436.03 L289.6,435.97 L290.0,435.85 L290.4,436.22 L290.8,436.22 L291.2,436.34 L291.6,436.32 L292.0,435.66 L292.4,435.49 L292.8,435.20 L293.2,435.44 L293.6,435.80 L294.0,436.16 L294.4,435.80 L294.8,435.55 L295.2,435.54 L295.6,435.94 L296.0,435.72 L296.4,435.45 L296.8,435.74 L297.2,435.74 L297.6,435.30 L298.0,435.73 L298.4,435.61 L298.8,435.46 L299.2,435.57 L299.6,435.35 L300.0,435.56 L300.4,435.95 L300.8,435.98 L301.2,435.99 L301.6,435.78 L302.0,435.74 L302.4,435.26 L302.8,435.18 L303.2,435.01 L303.6,435.17 L304.0,435.83 L304.4,436.18 L304.8,436.48 L305.2,436.25 L305.6,436.42 L306.0,436.20 L306.4,436.02 L306.8,435.90 L307.2,435.91 L307.6,436.18 L308.0,436.44 L308.4,436.27 L308.8,435.92 L309.2,435.63 L309.6,436.10 L310.0,436.40 L310.4,436.25 L310.8,435.93 L311.2,435.90 L311.6,435.45 L312.0,435.01 L312.4,434.61 L312.8,434.27 L313.2,434.95 L313.6,434.61 L314.0,435.40 L314.4,435.32 L314.8,435.06 L315.2,435.46 L315.6,435.43 L316.0,434.81 L316.4,434.66 L316.8,434.99 L317.2,435.35 L317.6,434.97 L318.0,435.46 L318.4,435.83 L318.8,435.98 L319.2,435.81 L319.6,436.11 L320.0,436.00 L320.4,435.94 L320.8,435.94 L321.2,435.47 L321.6,435.54 L322.0,435.33 L322.4,435.12 L322.8,434.96 L323.2,435.42 L323.6,435.18 L324.0,435.48 L324.4,435.74 L324.8,435.24 L325.2,435.09 L325.6,435.45 L326.0,435.53 L326.4,435.11 L326.8,434.96 L327.2,435.49 L327.6,435.16 L328.0,436.03 L328.4,436.38 L328.6,438.50Z" fill="#000" />
<rect x="76.60" y="382.80" width="19.00" height="56.00" fill="none" stroke="#3a3a3a" stroke-width="1.0" />
<line x1="148.00" y1="441.70" x2="322.00" y2="441.70" stroke="#5f6fcc" stroke-width="1.4" />
<path d="M148.0,441.7 L151.5,439.9 L151.5,443.5Z" fill="#3f4fb0" />
<rect x="228.60" y="440.00" width="1.80" height="3.40" fill="#3f4fb0" />
<rect x="259.40" y="440.00" width="1.80" height="3.40" fill="#3f4fb0" />
<rect x="280.80" y="440.00" width="1.80" height="3.40" fill="#3f4fb0" />
<rect x="286.60" y="440.00" width="1.80" height="3.40" fill="#3f4fb0" />
<rect x="297.60" y="440.00" width="1.80" height="3.40" fill="#3f4fb0" />
<line x1="311.00" y1="441.70" x2="322.00" y2="441.70" stroke="#3f4fb0" stroke-width="3.0" />
<text x="127.30" y="443.30" font-size="6.60" fill="#222" color="#222" font-style="italic" textLength="16.70" lengthAdjust="spacingAndGlyphs" >Ifngr2</text>
<text x="342.10" y="216.70" font-size="11.40" fill="#000" color="#000" font-weight="bold" textLength="6.30" lengthAdjust="spacingAndGlyphs" >E</text>
<defs>
<linearGradient id="gE1" x1="0" y1="0" x2="0" y2="1">
<stop offset="0" stop-color="#f01c22"/><stop offset="0.28" stop-color="#e0176a"/><stop offset="0.5" stop-color="#b8189a"/>
<stop offset="0.75" stop-color="#7a379f"/><stop offset="1" stop-color="#3a40a2"/></linearGradient>
<linearGradient id="gE2" x1="0" y1="0" x2="0" y2="1">
<stop offset="0" stop-color="#f01c22"/><stop offset="0.28" stop-color="#e0176a"/><stop offset="0.5" stop-color="#b8189a"/>
<stop offset="0.75" stop-color="#7a379f"/><stop offset="1" stop-color="#3a40a2"/></linearGradient>
</defs>
<text x="424.80" y="218.60" font-size="6.80" fill="#111" color="#111" textLength="18.91" lengthAdjust="spacingAndGlyphs" >Cybb</text>
<text x="443.71" y="216.49" font-size="4.76" fill="#111" color="#111" stroke-width="0.05" textLength="8.19" lengthAdjust="spacingAndGlyphs" >KO</text>
<text x="420.20" y="227.10" font-size="6.80" fill="#111" color="#111" textLength="25.01" lengthAdjust="spacingAndGlyphs" >CD11b</text>
<text x="445.21" y="224.99" font-size="4.76" fill="#111" color="#111" stroke-width="0.05" textLength="10.89" lengthAdjust="spacingAndGlyphs" >high</text>
<text x="460.30" y="227.10" font-size="6.80" fill="#111" color="#111" textLength="6.80" lengthAdjust="spacingAndGlyphs" >vs</text>
<text x="484.00" y="218.60" font-size="6.80" fill="#111" color="#111" textLength="11.70" lengthAdjust="spacingAndGlyphs" >WT</text>
<text x="473.00" y="227.10" font-size="6.80" fill="#111" color="#111" textLength="24.75" lengthAdjust="spacingAndGlyphs" >CD11b</text>
<text x="497.75" y="224.99" font-size="4.76" fill="#111" color="#111" stroke-width="0.05" textLength="8.55" lengthAdjust="spacingAndGlyphs" >low</text>
<line x1="418.30" y1="238.00" x2="418.30" y2="407.60" stroke="#333" stroke-width="1.2" />
<line x1="417.70" y1="407.00" x2="488.00" y2="407.00" stroke="#333" stroke-width="1.2" />
<line x1="415.00" y1="249.90" x2="418.30" y2="249.90" stroke="#333" stroke-width="1.0" />
<text x="412.00" y="252.40" font-size="6.50" fill="#111" color="#111" text-anchor="end" textLength="60.60" lengthAdjust="spacingAndGlyphs" >IL2 STAT5 signaling</text>
<line x1="415.00" y1="270.55" x2="418.30" y2="270.55" stroke="#333" stroke-width="1.0" />
<text x="412.00" y="273.05" font-size="6.50" fill="#111" color="#111" text-anchor="end" textLength="70.30" lengthAdjust="spacingAndGlyphs" >Inflammatory response</text>
<line x1="415.00" y1="291.20" x2="418.30" y2="291.20" stroke="#333" stroke-width="1.0" />
<text x="412.00" y="293.70" font-size="6.50" fill="#111" color="#111" text-anchor="end" textLength="55.70" lengthAdjust="spacingAndGlyphs" >KRAS up signaling</text>
<line x1="415.00" y1="311.85" x2="418.30" y2="311.85" stroke="#333" stroke-width="1.0" />
<text x="412.00" y="314.35" font-size="6.50" fill="#111" color="#111" text-anchor="end" textLength="39.80" lengthAdjust="spacingAndGlyphs" >Complement</text>
<line x1="415.00" y1="332.50" x2="418.30" y2="332.50" stroke="#333" stroke-width="1.0" />
<text x="412.00" y="335.00" font-size="6.50" fill="#111" color="#111" text-anchor="end" textLength="13.20" lengthAdjust="spacingAndGlyphs" >EMT</text>
<line x1="415.00" y1="353.15" x2="418.30" y2="353.15" stroke="#333" stroke-width="1.0" />
<text x="412.00" y="355.65" font-size="6.50" fill="#111" color="#111" text-anchor="end" textLength="65.80" lengthAdjust="spacingAndGlyphs" >IFN-gamma response</text>
<line x1="415.00" y1="373.80" x2="418.30" y2="373.80" stroke="#333" stroke-width="1.0" />
<text x="412.00" y="376.30" font-size="6.50" fill="#111" color="#111" text-anchor="end" textLength="59.20" lengthAdjust="spacingAndGlyphs" >IFN-alpha response</text>
<line x1="415.00" y1="394.45" x2="418.30" y2="394.45" stroke="#333" stroke-width="1.0" />
<text x="412.00" y="396.95" font-size="6.50" fill="#111" color="#111" text-anchor="end" textLength="65.10" lengthAdjust="spacingAndGlyphs" >KRAS down signaling</text>
<line x1="423.50" y1="407.00" x2="423.50" y2="409.20" stroke="#333" stroke-width="1.0" />
<text x="423.50" y="417.70" font-size="7.30" fill="#222" color="#222" text-anchor="middle" textLength="8.00" lengthAdjust="spacingAndGlyphs" >0.4</text>
<line x1="443.90" y1="407.00" x2="443.90" y2="409.20" stroke="#333" stroke-width="1.0" />
<text x="443.90" y="417.70" font-size="7.30" fill="#222" color="#222" text-anchor="middle" textLength="8.00" lengthAdjust="spacingAndGlyphs" >0.5</text>
<line x1="464.40" y1="407.00" x2="464.40" y2="409.20" stroke="#333" stroke-width="1.0" />
<text x="464.40" y="417.70" font-size="7.30" fill="#222" color="#222" text-anchor="middle" textLength="8.00" lengthAdjust="spacingAndGlyphs" >0.6</text>
<line x1="485.00" y1="407.00" x2="485.00" y2="409.20" stroke="#333" stroke-width="1.0" />
<text x="485.00" y="417.70" font-size="7.30" fill="#222" color="#222" text-anchor="middle" textLength="8.00" lengthAdjust="spacingAndGlyphs" >0.7</text>
<text x="436.90" y="430.60" font-size="9.00" fill="#222" color="#222" textLength="32.30" lengthAdjust="spacingAndGlyphs" >GeneRatio</text>
<circle cx="482.30" cy="249.90" r="2.90" fill="#ee1122"/>
<circle cx="476.30" cy="270.55" r="2.60" fill="#ee1140"/>
<circle cx="457.40" cy="291.20" r="2.40" fill="#b0148f"/>
<circle cx="456.50" cy="311.85" r="2.40" fill="#a0189f"/>
<circle cx="449.90" cy="332.50" r="2.60" fill="#8a1c9c"/>
<circle cx="446.00" cy="353.15" r="2.60" fill="#8b1f9e"/>
<circle cx="427.00" cy="373.80" r="0.80" fill="#3344aa"/>
<circle cx="421.00" cy="394.45" r="2.00" fill="#3344b4"/>
<text x="490.90" y="285.80" font-size="5.80" fill="#222" color="#222" textLength="3.80" lengthAdjust="spacingAndGlyphs" >P</text>
<rect x="489.60" y="288.40" width="7.30" height="32.60" fill="url(#gE1)" />
<line x1="489.60" y1="296.10" x2="490.80" y2="296.10" stroke="#fff" stroke-width="0.5" />
<line x1="495.60" y1="296.10" x2="496.90" y2="296.10" stroke="#fff" stroke-width="0.5" />
<text x="498.90" y="297.80" font-size="5.40" fill="#222" color="#222" stroke-width="0.05" textLength="13.40" lengthAdjust="spacingAndGlyphs" >1e-18</text>
<line x1="489.60" y1="303.00" x2="490.80" y2="303.00" stroke="#fff" stroke-width="0.5" />
<line x1="495.60" y1="303.00" x2="496.90" y2="303.00" stroke="#fff" stroke-width="0.5" />
<text x="498.90" y="304.70" font-size="5.40" fill="#222" color="#222" stroke-width="0.05" textLength="13.40" lengthAdjust="spacingAndGlyphs" >1e-13</text>
<line x1="489.60" y1="310.10" x2="490.80" y2="310.10" stroke="#fff" stroke-width="0.5" />
<line x1="495.60" y1="310.10" x2="496.90" y2="310.10" stroke="#fff" stroke-width="0.5" />
<text x="498.90" y="311.80" font-size="5.40" fill="#222" color="#222" stroke-width="0.05" textLength="13.40" lengthAdjust="spacingAndGlyphs" >1e-08</text>
<line x1="489.60" y1="317.20" x2="490.80" y2="317.20" stroke="#fff" stroke-width="0.5" />
<line x1="495.60" y1="317.20" x2="496.90" y2="317.20" stroke="#fff" stroke-width="0.5" />
<text x="498.90" y="318.90" font-size="5.40" fill="#222" color="#222" stroke-width="0.05" textLength="13.40" lengthAdjust="spacingAndGlyphs" >1e-03</text>
<text x="490.80" y="333.50" font-size="6.30" fill="#111" color="#111" textLength="17.40" lengthAdjust="spacingAndGlyphs" >Count</text>
<circle cx="494.60" cy="339.20" r="1.30" fill="#000"/>
<text x="499.40" y="341.00" font-size="5.20" fill="#222" color="#222" stroke-width="0.05" textLength="7.00" lengthAdjust="spacingAndGlyphs" >60</text>
<circle cx="494.60" cy="344.90" r="1.85" fill="#000"/>
<text x="499.40" y="346.70" font-size="5.20" fill="#222" color="#222" stroke-width="0.05" textLength="7.00" lengthAdjust="spacingAndGlyphs" >80</text>
<circle cx="494.60" cy="351.70" r="2.35" fill="#000"/>
<text x="499.40" y="353.50" font-size="5.20" fill="#222" color="#222" stroke-width="0.05" textLength="10.60" lengthAdjust="spacingAndGlyphs" >100</text>
<circle cx="494.60" cy="358.70" r="2.70" fill="#000"/>
<text x="499.40" y="360.50" font-size="5.20" fill="#222" color="#222" stroke-width="0.05" textLength="10.60" lengthAdjust="spacingAndGlyphs" >120</text>
<text x="421.90" y="453.80" font-size="6.80" fill="#111" color="#111" textLength="18.84" lengthAdjust="spacingAndGlyphs" >Cybb</text>
<text x="440.74" y="451.69" font-size="4.76" fill="#111" color="#111" stroke-width="0.05" textLength="8.16" lengthAdjust="spacingAndGlyphs" >KO</text>
<text x="416.80" y="463.10" font-size="6.80" fill="#111" color="#111" textLength="25.29" lengthAdjust="spacingAndGlyphs" >CD11b</text>
<text x="442.09" y="460.99" font-size="4.76" fill="#111" color="#111" stroke-width="0.05" textLength="11.01" lengthAdjust="spacingAndGlyphs" >high</text>
<text x="455.40" y="463.10" font-size="6.80" fill="#111" color="#111" textLength="6.90" lengthAdjust="spacingAndGlyphs" >vs</text>
<text x="469.20" y="453.80" font-size="6.80" fill="#111" color="#111" textLength="19.05" lengthAdjust="spacingAndGlyphs" >Cybb</text>
<text x="488.25" y="451.69" font-size="4.76" fill="#111" color="#111" stroke-width="0.05" textLength="8.25" lengthAdjust="spacingAndGlyphs" >KO</text>
<text x="466.20" y="463.10" font-size="6.80" fill="#111" color="#111" textLength="24.89" lengthAdjust="spacingAndGlyphs" >CD11b</text>
<text x="491.09" y="460.99" font-size="4.76" fill="#111" color="#111" stroke-width="0.05" textLength="8.61" lengthAdjust="spacingAndGlyphs" >low</text>
<line x1="418.30" y1="470.00" x2="418.30" y2="634.40" stroke="#333" stroke-width="1.2" />
<line x1="417.70" y1="633.80" x2="488.00" y2="633.80" stroke="#333" stroke-width="1.2" />
<line x1="415.00" y1="482.50" x2="418.30" y2="482.50" stroke="#333" stroke-width="1.0" />
<text x="412.00" y="485.00" font-size="6.50" fill="#111" color="#111" text-anchor="end" textLength="60.60" lengthAdjust="spacingAndGlyphs" >IL2 STAT5 signaling</text>
<line x1="415.00" y1="502.40" x2="418.30" y2="502.40" stroke="#333" stroke-width="1.0" />
<text x="412.00" y="504.90" font-size="6.50" fill="#111" color="#111" text-anchor="end" textLength="70.30" lengthAdjust="spacingAndGlyphs" >Inflammatory response</text>
<line x1="415.00" y1="522.30" x2="418.30" y2="522.30" stroke="#333" stroke-width="1.0" />
<text x="412.00" y="524.80" font-size="6.50" fill="#111" color="#111" text-anchor="end" textLength="55.70" lengthAdjust="spacingAndGlyphs" >KRAS up signaling</text>
<line x1="415.00" y1="542.20" x2="418.30" y2="542.20" stroke="#333" stroke-width="1.0" />
<text x="412.00" y="544.70" font-size="6.50" fill="#111" color="#111" text-anchor="end" textLength="13.20" lengthAdjust="spacingAndGlyphs" >EMT</text>
<line x1="415.00" y1="562.10" x2="418.30" y2="562.10" stroke="#333" stroke-width="1.0" />
<text x="412.00" y="564.60" font-size="6.50" fill="#111" color="#111" text-anchor="end" textLength="39.80" lengthAdjust="spacingAndGlyphs" >Complement</text>
<line x1="415.00" y1="582.00" x2="418.30" y2="582.00" stroke="#333" stroke-width="1.0" />
<text x="412.00" y="584.50" font-size="6.50" fill="#111" color="#111" text-anchor="end" textLength="65.80" lengthAdjust="spacingAndGlyphs" >IFN-gamma response</text>
<line x1="415.00" y1="601.90" x2="418.30" y2="601.90" stroke="#333" stroke-width="1.0" />
<text x="412.00" y="604.40" font-size="6.50" fill="#111" color="#111" text-anchor="end" textLength="65.10" lengthAdjust="spacingAndGlyphs" >KRAS down signaling</text>
<line x1="415.00" y1="621.80" x2="418.30" y2="621.80" stroke="#333" stroke-width="1.0" />
<text x="412.00" y="624.30" font-size="6.50" fill="#111" color="#111" text-anchor="end" textLength="59.20" lengthAdjust="spacingAndGlyphs" >IFN-alpha response</text>
<line x1="429.40" y1="633.80" x2="429.40" y2="636.00" stroke="#333" stroke-width="1.0" />
<text x="429.40" y="646.00" font-size="7.30" fill="#222" color="#222" text-anchor="middle" textLength="11.00" lengthAdjust="spacingAndGlyphs" >0.25</text>
<line x1="444.20" y1="633.80" x2="444.20" y2="636.00" stroke="#333" stroke-width="1.0" />
<text x="444.20" y="646.00" font-size="7.30" fill="#222" color="#222" text-anchor="middle" textLength="11.00" lengthAdjust="spacingAndGlyphs" >0.30</text>
<line x1="458.90" y1="633.80" x2="458.90" y2="636.00" stroke="#333" stroke-width="1.0" />
<text x="458.90" y="646.00" font-size="7.30" fill="#222" color="#222" text-anchor="middle" textLength="11.00" lengthAdjust="spacingAndGlyphs" >0.35</text>
<line x1="473.70" y1="633.80" x2="473.70" y2="636.00" stroke="#333" stroke-width="1.0" />
<text x="473.70" y="646.00" font-size="7.30" fill="#222" color="#222" text-anchor="middle" textLength="11.00" lengthAdjust="spacingAndGlyphs" >0.40</text>
<text x="436.90" y="657.50" font-size="9.00" fill="#222" color="#222" textLength="32.30" lengthAdjust="spacingAndGlyphs" >GeneRatio</text>
<circle cx="482.50" cy="482.50" r="2.40" fill="#ee1122"/>
<circle cx="481.10" cy="502.40" r="2.40" fill="#ee1128"/>
<circle cx="477.30" cy="522.30" r="2.40" fill="#ee1133"/>
<circle cx="467.40" cy="542.20" r="2.40" fill="#dd1166"/>
<circle cx="458.80" cy="562.10" r="2.40" fill="#bb1199"/>
<circle cx="450.80" cy="582.00" r="2.40" fill="#9922aa"/>
<circle cx="432.10" cy="601.90" r="1.90" fill="#4433aa"/>
<circle cx="420.80" cy="621.80" r="0.70" fill="#3344bb"/>
<text x="490.90" y="520.00" font-size="5.80" fill="#222" color="#222" textLength="3.80" lengthAdjust="spacingAndGlyphs" >P</text>
<rect x="489.60" y="523.00" width="7.30" height="31.60" fill="url(#gE2)" />
<line x1="489.60" y1="530.40" x2="490.80" y2="530.40" stroke="#fff" stroke-width="0.5" />
<line x1="495.60" y1="530.40" x2="496.90" y2="530.40" stroke="#fff" stroke-width="0.5" />
<text x="498.90" y="532.10" font-size="5.40" fill="#222" color="#222" stroke-width="0.05" textLength="13.40" lengthAdjust="spacingAndGlyphs" >1e-10</text>
<line x1="489.60" y1="537.60" x2="490.80" y2="537.60" stroke="#fff" stroke-width="0.5" />
<line x1="495.60" y1="537.60" x2="496.90" y2="537.60" stroke="#fff" stroke-width="0.5" />
<text x="498.90" y="539.30" font-size="5.40" fill="#222" color="#222" stroke-width="0.05" textLength="13.40" lengthAdjust="spacingAndGlyphs" >1e-07</text>
<line x1="489.60" y1="545.00" x2="490.80" y2="545.00" stroke="#fff" stroke-width="0.5" />
<line x1="495.60" y1="545.00" x2="496.90" y2="545.00" stroke="#fff" stroke-width="0.5" />
<text x="498.90" y="546.70" font-size="5.40" fill="#222" color="#222" stroke-width="0.05" textLength="13.40" lengthAdjust="spacingAndGlyphs" >1e-04</text>
<line x1="489.60" y1="552.20" x2="490.80" y2="552.20" stroke="#fff" stroke-width="0.5" />
<line x1="495.60" y1="552.20" x2="496.90" y2="552.20" stroke="#fff" stroke-width="0.5" />
<text x="498.90" y="553.90" font-size="5.40" fill="#222" color="#222" stroke-width="0.05" textLength="13.40" lengthAdjust="spacingAndGlyphs" >1e-01</text>
<text x="490.80" y="566.70" font-size="6.30" fill="#111" color="#111" textLength="17.40" lengthAdjust="spacingAndGlyphs" >Count</text>
<circle cx="494.60" cy="573.40" r="1.40" fill="#000"/>
<text x="499.40" y="575.20" font-size="5.20" fill="#222" color="#222" stroke-width="0.05" textLength="7.00" lengthAdjust="spacingAndGlyphs" >40</text>
<circle cx="494.60" cy="579.10" r="2.00" fill="#000"/>
<text x="499.40" y="580.90" font-size="5.20" fill="#222" color="#222" stroke-width="0.05" textLength="7.00" lengthAdjust="spacingAndGlyphs" >60</text>
<circle cx="494.60" cy="585.50" r="2.50" fill="#000"/>
<text x="499.40" y="587.30" font-size="5.20" fill="#222" color="#222" stroke-width="0.05" textLength="7.00" lengthAdjust="spacingAndGlyphs" >80</text>
<text x="9.20" y="481.90" font-size="11.40" fill="#000" color="#000" font-weight="bold" textLength="5.90" lengthAdjust="spacingAndGlyphs" >F</text>
<text x="95.00" y="479.40" font-size="7.00" fill="#111" color="#111" textLength="18.97" lengthAdjust="spacingAndGlyphs" >Cybb</text>
<text x="113.97" y="477.23" font-size="4.90" fill="#111" color="#111" stroke-width="0.05" textLength="8.22" lengthAdjust="spacingAndGlyphs" >KO</text>
<text x="123.76" y="479.40" font-size="7.00" fill="#111" color="#111" textLength="24.69" lengthAdjust="spacingAndGlyphs" >CD11b</text>
<text x="148.45" y="477.23" font-size="4.90" fill="#111" color="#111" stroke-width="0.05" textLength="10.75" lengthAdjust="spacingAndGlyphs" >high</text>
<text x="127.10" y="487.70" font-size="7.00" fill="#111" color="#111" text-anchor="middle" >vs</text>
<text x="104.00" y="496.20" font-size="7.00" fill="#111" color="#111" textLength="38.47" lengthAdjust="spacingAndGlyphs" >WT CD11b</text>
<text x="142.47" y="494.03" font-size="4.90" fill="#111" color="#111" stroke-width="0.05" textLength="8.33" lengthAdjust="spacingAndGlyphs" >low</text>
<line x1="94.40" y1="499.70" x2="159.80" y2="499.70" stroke="#333" stroke-width="1.2" />
<text x="258.30" y="479.40" font-size="7.00" fill="#111" color="#111" textLength="19.02" lengthAdjust="spacingAndGlyphs" >Cybb</text>
<text x="277.32" y="477.23" font-size="4.90" fill="#111" color="#111" stroke-width="0.05" textLength="8.24" lengthAdjust="spacingAndGlyphs" >KO</text>
<text x="287.15" y="479.40" font-size="7.00" fill="#111" color="#111" textLength="24.76" lengthAdjust="spacingAndGlyphs" >CD11b</text>
<text x="311.92" y="477.23" font-size="4.90" fill="#111" color="#111" stroke-width="0.05" textLength="10.78" lengthAdjust="spacingAndGlyphs" >high</text>
<text x="290.40" y="487.70" font-size="7.00" fill="#111" color="#111" text-anchor="middle" >vs</text>
<text x="259.20" y="496.20" font-size="7.00" fill="#111" color="#111" textLength="19.12" lengthAdjust="spacingAndGlyphs" >Cybb</text>
<text x="278.32" y="494.03" font-size="4.90" fill="#111" color="#111" stroke-width="0.05" textLength="8.29" lengthAdjust="spacingAndGlyphs" >KO</text>
<text x="288.20" y="496.20" font-size="7.00" fill="#111" color="#111" textLength="24.89" lengthAdjust="spacingAndGlyphs" >CD11b</text>
<text x="313.10" y="494.03" font-size="4.90" fill="#111" color="#111" stroke-width="0.05" textLength="8.60" lengthAdjust="spacingAndGlyphs" >low</text>
<line x1="256.90" y1="499.70" x2="323.10" y2="499.70" stroke="#333" stroke-width="1.2" />
<text x="10.60" y="515.40" font-size="6.90" fill="#111" color="#111" textLength="41.80" lengthAdjust="spacingAndGlyphs" >Upregulated</text>
<text x="10.60" y="523.70" font-size="6.90" fill="#111" color="#111" font-style="italic" textLength="25.60" lengthAdjust="spacingAndGlyphs" >de novo</text>
<text x="37.80" y="523.70" font-size="6.90" fill="#111" color="#111" textLength="19.50" lengthAdjust="spacingAndGlyphs" >motif</text>
<text x="66.90" y="515.40" font-size="6.90" fill="#111" color="#111" textLength="7.70" lengthAdjust="spacingAndGlyphs" >TF</text>
<text x="91.90" y="515.40" font-size="6.90" fill="#111" color="#111" textLength="24.10" lengthAdjust="spacingAndGlyphs" >p-value</text>
<text x="122.30" y="515.40" font-size="6.90" fill="#111" color="#111" textLength="40.80" lengthAdjust="spacingAndGlyphs" >% of target /</text>
<text x="122.30" y="523.70" font-size="6.90" fill="#111" color="#111" textLength="47.50" lengthAdjust="spacingAndGlyphs" >% Background</text>
<text x="176.50" y="515.40" font-size="6.90" fill="#111" color="#111" textLength="41.80" lengthAdjust="spacingAndGlyphs" >Upregulated</text>
<text x="176.50" y="523.70" font-size="6.90" fill="#111" color="#111" font-style="italic" textLength="25.60" lengthAdjust="spacingAndGlyphs" >de novo</text>
<text x="203.70" y="523.70" font-size="6.90" fill="#111" color="#111" textLength="19.50" lengthAdjust="spacingAndGlyphs" >motif</text>
<text x="233.70" y="515.40" font-size="6.90" fill="#111" color="#111" textLength="7.70" lengthAdjust="spacingAndGlyphs" >TF</text>
<text x="256.90" y="515.40" font-size="6.90" fill="#111" color="#111" textLength="24.10" lengthAdjust="spacingAndGlyphs" >p-value</text>
<text x="287.70" y="515.40" font-size="6.90" fill="#111" color="#111" textLength="40.80" lengthAdjust="spacingAndGlyphs" >% of target /</text>
<text x="287.70" y="523.70" font-size="6.90" fill="#111" color="#111" textLength="47.50" lengthAdjust="spacingAndGlyphs" >% Background</text>
<line x1="9.20" y1="527.80" x2="336.50" y2="527.80" stroke="#333" stroke-width="1.3" />
<line x1="9.20" y1="626.20" x2="336.50" y2="626.20" stroke="#333" stroke-width="1.3" />
<line x1="167.70" y1="527.80" x2="167.70" y2="626.20" stroke="#333" stroke-width="1.2" />
<text transform="matrix(0.0775,0,0,0.0371,10.67,535.56)" font-size="100" font-weight="bold" fill="#e02a2a" stroke="none">T</text>
<text transform="matrix(0.0682,0,0,0.0186,10.58,536.84)" font-size="100" font-weight="bold" fill="#2aa83c" stroke="none">A</text>
<text transform="matrix(0.0698,0,0,0.0180,10.47,538.10)" font-size="100" font-weight="bold" fill="#2a46b0" stroke="none">C</text>
<text transform="matrix(0.0677,0,0,0.0180,10.48,539.38)" font-size="100" font-weight="bold" fill="#f8a825" stroke="none">G</text>
<text transform="matrix(0.0682,0,0,0.0557,15.45,537.48)" font-size="100" font-weight="bold" fill="#2aa83c" stroke="none">A</text>
<text transform="matrix(0.0677,0,0,0.0180,15.35,538.74)" font-size="100" font-weight="bold" fill="#f8a825" stroke="none">G</text>
<text transform="matrix(0.0698,0,0,0.0090,15.34,539.39)" font-size="100" font-weight="bold" fill="#2a46b0" stroke="none">C</text>
<text transform="matrix(0.0775,0,0,0.0928,20.41,539.40)" font-size="100" font-weight="bold" fill="#e02a2a" stroke="none">T</text>
<text transform="matrix(0.0677,0,0,0.0901,25.09,539.31)" font-size="100" font-weight="bold" fill="#f8a825" stroke="none">G</text>
<text transform="matrix(0.0682,0,0,0.0928,30.06,539.40)" font-size="100" font-weight="bold" fill="#2aa83c" stroke="none">A</text>
<text transform="matrix(0.0698,0,0,0.0451,34.82,536.15)" font-size="100" font-weight="bold" fill="#2a46b0" stroke="none">C</text>
<text transform="matrix(0.0677,0,0,0.0270,34.83,538.09)" font-size="100" font-weight="bold" fill="#f8a825" stroke="none">G</text>
<text transform="matrix(0.0775,0,0,0.0186,35.02,539.40)" font-size="100" font-weight="bold" fill="#e02a2a" stroke="none">T</text>
<text transform="matrix(0.0775,0,0,0.0928,39.89,539.40)" font-size="100" font-weight="bold" fill="#e02a2a" stroke="none">T</text>
<text transform="matrix(0.0698,0,0,0.0901,44.56,539.31)" font-size="100" font-weight="bold" fill="#2a46b0" stroke="none">C</text>
<text transform="matrix(0.0682,0,0,0.0928,49.54,539.40)" font-size="100" font-weight="bold" fill="#2aa83c" stroke="none">A</text>
<text transform="matrix(0.0775,0,0,0.0371,54.50,535.56)" font-size="100" font-weight="bold" fill="#e02a2a" stroke="none">T</text>
<text transform="matrix(0.0682,0,0,0.0186,54.41,536.84)" font-size="100" font-weight="bold" fill="#2aa83c" stroke="none">A</text>
<text transform="matrix(0.0698,0,0,0.0180,54.30,538.10)" font-size="100" font-weight="bold" fill="#2a46b0" stroke="none">C</text>
<text transform="matrix(0.0677,0,0,0.0180,54.31,539.38)" font-size="100" font-weight="bold" fill="#f8a825" stroke="none">G</text>
<text x="62.40" y="538.10" font-size="6.90" fill="#111" color="#111" >BATF</text>
<text x="91.30" y="538.10" font-size="6.90" fill="#111" color="#111" >1e-1406</text>
<text x="137.20" y="538.10" font-size="6.90" fill="#111" color="#111" >29 / 6</text>
<text transform="matrix(0.0677,0,0,0.0279,10.48,546.21)" font-size="100" font-weight="bold" fill="#f8a825" stroke="none">G</text>
<text transform="matrix(0.0682,0,0,0.0383,10.58,548.88)" font-size="100" font-weight="bold" fill="#2aa83c" stroke="none">A</text>
<text transform="matrix(0.0698,0,0,0.0186,10.47,550.18)" font-size="100" font-weight="bold" fill="#2a46b0" stroke="none">C</text>
<text transform="matrix(0.0775,0,0,0.0957,15.54,550.20)" font-size="100" font-weight="bold" fill="#e02a2a" stroke="none">T</text>
<text transform="matrix(0.0775,0,0,0.0478,20.41,546.90)" font-size="100" font-weight="bold" fill="#e02a2a" stroke="none">T</text>
<text transform="matrix(0.0677,0,0,0.0279,20.22,548.85)" font-size="100" font-weight="bold" fill="#f8a825" stroke="none">G</text>
<text transform="matrix(0.0682,0,0,0.0191,20.32,550.20)" font-size="100" font-weight="bold" fill="#2aa83c" stroke="none">A</text>
<text transform="matrix(0.0682,0,0,0.0287,25.19,545.58)" font-size="100" font-weight="bold" fill="#2aa83c" stroke="none">A</text>
<text transform="matrix(0.0698,0,0,0.0279,25.08,547.53)" font-size="100" font-weight="bold" fill="#2a46b0" stroke="none">C</text>
<text transform="matrix(0.0775,0,0,0.0191,25.28,548.88)" font-size="100" font-weight="bold" fill="#e02a2a" stroke="none">T</text>
<text transform="matrix(0.0677,0,0,0.0186,25.09,550.18)" font-size="100" font-weight="bold" fill="#f8a825" stroke="none">G</text>
<text transform="matrix(0.0677,0,0,0.0279,29.96,545.55)" font-size="100" font-weight="bold" fill="#f8a825" stroke="none">G</text>
<text transform="matrix(0.0698,0,0,0.0279,29.95,547.53)" font-size="100" font-weight="bold" fill="#2a46b0" stroke="none">C</text>
<text transform="matrix(0.0682,0,0,0.0191,30.06,548.88)" font-size="100" font-weight="bold" fill="#2aa83c" stroke="none">A</text>
<text transform="matrix(0.0775,0,0,0.0191,30.15,550.20)" font-size="100" font-weight="bold" fill="#e02a2a" stroke="none">T</text>
<text transform="matrix(0.0677,0,0,0.0465,34.83,547.51)" font-size="100" font-weight="bold" fill="#f8a825" stroke="none">G</text>
<text transform="matrix(0.0698,0,0,0.0186,34.82,548.86)" font-size="100" font-weight="bold" fill="#2a46b0" stroke="none">C</text>
<text transform="matrix(0.0682,0,0,0.0191,34.93,550.20)" font-size="100" font-weight="bold" fill="#2aa83c" stroke="none">A</text>
<text transform="matrix(0.0698,0,0,0.0372,39.69,546.20)" font-size="100" font-weight="bold" fill="#2a46b0" stroke="none">C</text>
<text transform="matrix(0.0677,0,0,0.0279,39.70,548.19)" font-size="100" font-weight="bold" fill="#f8a825" stroke="none">G</text>
<text transform="matrix(0.0682,0,0,0.0287,39.80,550.20)" font-size="100" font-weight="bold" fill="#2aa83c" stroke="none">A</text>
<text transform="matrix(0.0682,0,0,0.0957,44.67,550.20)" font-size="100" font-weight="bold" fill="#2aa83c" stroke="none">A</text>
<text transform="matrix(0.0682,0,0,0.0957,49.54,550.20)" font-size="100" font-weight="bold" fill="#2aa83c" stroke="none">A</text>
<text transform="matrix(0.0775,0,0,0.0383,54.50,546.24)" font-size="100" font-weight="bold" fill="#e02a2a" stroke="none">T</text>
<text transform="matrix(0.0698,0,0,0.0279,54.30,548.19)" font-size="100" font-weight="bold" fill="#2a46b0" stroke="none">C</text>
<text transform="matrix(0.0677,0,0,0.0279,54.31,550.17)" font-size="100" font-weight="bold" fill="#f8a825" stroke="none">G</text>
<text x="62.40" y="549.50" font-size="6.90" fill="#111" color="#111" >CEBP</text>
<text x="91.30" y="548.16" font-size="6.90" fill="#111" color="#111" >1e-777</text>
<text x="137.20" y="548.16" font-size="6.90" fill="#111" color="#111" >28 / 9</text>
<text transform="matrix(0.0682,0,0,0.1014,10.58,561.60)" font-size="100" font-weight="bold" fill="#2aa83c" stroke="none">A</text>
<text transform="matrix(0.0698,0,0,0.0394,15.34,557.36)" font-size="100" font-weight="bold" fill="#2a46b0" stroke="none">C</text>
<text transform="matrix(0.0677,0,0,0.0394,15.35,560.16)" font-size="100" font-weight="bold" fill="#f8a825" stroke="none">G</text>
<text transform="matrix(0.0682,0,0,0.0203,15.45,561.60)" font-size="100" font-weight="bold" fill="#2aa83c" stroke="none">A</text>
<text transform="matrix(0.0775,0,0,0.1014,20.41,561.60)" font-size="100" font-weight="bold" fill="#e02a2a" stroke="none">T</text>
<text transform="matrix(0.0775,0,0,0.1014,25.28,561.60)" font-size="100" font-weight="bold" fill="#e02a2a" stroke="none">T</text>
<text transform="matrix(0.0698,0,0,0.0986,29.95,561.50)" font-size="100" font-weight="bold" fill="#2a46b0" stroke="none">C</text>
<text transform="matrix(0.0698,0,0,0.0986,34.82,561.50)" font-size="100" font-weight="bold" fill="#2a46b0" stroke="none">C</text>
<text transform="matrix(0.0775,0,0,0.0507,39.89,558.10)" font-size="100" font-weight="bold" fill="#e02a2a" stroke="none">T</text>
<text transform="matrix(0.0698,0,0,0.0296,39.69,560.17)" font-size="100" font-weight="bold" fill="#2a46b0" stroke="none">C</text>
<text transform="matrix(0.0677,0,0,0.0197,39.70,561.58)" font-size="100" font-weight="bold" fill="#f8a825" stroke="none">G</text>
<text transform="matrix(0.0698,0,0,0.0394,44.56,557.36)" font-size="100" font-weight="bold" fill="#2a46b0" stroke="none">C</text>
<text transform="matrix(0.0677,0,0,0.0296,44.57,559.47)" font-size="100" font-weight="bold" fill="#f8a825" stroke="none">G</text>
<text transform="matrix(0.0775,0,0,0.0304,44.76,561.60)" font-size="100" font-weight="bold" fill="#e02a2a" stroke="none">T</text>
<text transform="matrix(0.0775,0,0,0.0507,49.63,558.10)" font-size="100" font-weight="bold" fill="#e02a2a" stroke="none">T</text>
<text transform="matrix(0.0682,0,0,0.0304,49.54,560.20)" font-size="100" font-weight="bold" fill="#2aa83c" stroke="none">A</text>
<text transform="matrix(0.0698,0,0,0.0197,49.43,561.58)" font-size="100" font-weight="bold" fill="#2a46b0" stroke="none">C</text>
<text transform="matrix(0.0775,0,0,0.0507,54.50,558.10)" font-size="100" font-weight="bold" fill="#e02a2a" stroke="none">T</text>
<text transform="matrix(0.0698,0,0,0.0296,54.30,560.17)" font-size="100" font-weight="bold" fill="#2a46b0" stroke="none">C</text>
<text transform="matrix(0.0682,0,0,0.0203,54.41,561.60)" font-size="100" font-weight="bold" fill="#2aa83c" stroke="none">A</text>
<text x="62.40" y="560.60" font-size="6.90" fill="#111" color="#111" >PU.1</text>
<text x="91.30" y="558.22" font-size="6.90" fill="#111" color="#111" >1e-668</text>
<text x="137.20" y="558.22" font-size="6.90" fill="#111" color="#111" >30 / 12</text>
<text transform="matrix(0.0557,0,0,0.0313,10.53,565.99)" font-size="100" font-weight="bold" fill="#f8a825" stroke="none">G</text>
<text transform="matrix(0.0561,0,0,0.0429,10.61,568.98)" font-size="100" font-weight="bold" fill="#2aa83c" stroke="none">A</text>
<text transform="matrix(0.0574,0,0,0.0313,10.52,571.17)" font-size="100" font-weight="bold" fill="#2a46b0" stroke="none">C</text>
<text transform="matrix(0.0637,0,0,0.0322,14.74,566.02)" font-size="100" font-weight="bold" fill="#e02a2a" stroke="none">T</text>
<text transform="matrix(0.0561,0,0,0.0322,14.67,568.24)" font-size="100" font-weight="bold" fill="#2aa83c" stroke="none">A</text>
<text transform="matrix(0.0557,0,0,0.0208,14.59,569.70)" font-size="100" font-weight="bold" fill="#f8a825" stroke="none">G</text>
<text transform="matrix(0.0574,0,0,0.0208,14.58,571.18)" font-size="100" font-weight="bold" fill="#2a46b0" stroke="none">C</text>
<text transform="matrix(0.0574,0,0,0.1042,18.64,571.10)" font-size="100" font-weight="bold" fill="#2a46b0" stroke="none">C</text>
<text transform="matrix(0.0561,0,0,0.1072,22.78,571.20)" font-size="100" font-weight="bold" fill="#2aa83c" stroke="none">A</text>
<text transform="matrix(0.0574,0,0,0.0417,26.75,566.72)" font-size="100" font-weight="bold" fill="#2a46b0" stroke="none">C</text>
<text transform="matrix(0.0557,0,0,0.0313,26.76,568.95)" font-size="100" font-weight="bold" fill="#f8a825" stroke="none">G</text>
<text transform="matrix(0.0637,0,0,0.0322,26.92,571.20)" font-size="100" font-weight="bold" fill="#e02a2a" stroke="none">T</text>
<text transform="matrix(0.0561,0,0,0.0643,30.90,569.72)" font-size="100" font-weight="bold" fill="#2aa83c" stroke="none">A</text>
<text transform="matrix(0.0557,0,0,0.0208,30.82,571.18)" font-size="100" font-weight="bold" fill="#f8a825" stroke="none">G</text>
<text transform="matrix(0.0637,0,0,0.1072,35.04,571.20)" font-size="100" font-weight="bold" fill="#e02a2a" stroke="none">T</text>
<text transform="matrix(0.0557,0,0,0.1042,38.94,571.10)" font-size="100" font-weight="bold" fill="#f8a825" stroke="none">G</text>
<text transform="matrix(0.0561,0,0,0.1072,43.08,571.20)" font-size="100" font-weight="bold" fill="#2aa83c" stroke="none">A</text>
<text transform="matrix(0.0574,0,0,0.1042,47.05,571.10)" font-size="100" font-weight="bold" fill="#2a46b0" stroke="none">C</text>
<text transform="matrix(0.0637,0,0,0.0429,51.27,566.76)" font-size="100" font-weight="bold" fill="#e02a2a" stroke="none">T</text>
<text transform="matrix(0.0574,0,0,0.0313,51.10,568.95)" font-size="100" font-weight="bold" fill="#2a46b0" stroke="none">C</text>
<text transform="matrix(0.0561,0,0,0.0322,51.19,571.20)" font-size="100" font-weight="bold" fill="#2aa83c" stroke="none">A</text>
<text transform="matrix(0.0637,0,0,0.0429,55.33,566.76)" font-size="100" font-weight="bold" fill="#e02a2a" stroke="none">T</text>
<text transform="matrix(0.0561,0,0,0.0322,55.25,568.98)" font-size="100" font-weight="bold" fill="#2aa83c" stroke="none">A</text>
<text transform="matrix(0.0557,0,0,0.0313,55.17,571.17)" font-size="100" font-weight="bold" fill="#f8a825" stroke="none">G</text>
<text x="62.40" y="569.40" font-size="6.90" fill="#111" color="#111" >MITF</text>
<text x="91.30" y="568.28" font-size="6.90" fill="#111" color="#111" >1e-437</text>
<text x="137.20" y="568.28" font-size="6.90" fill="#111" color="#111" >21 / 8</text>
<text transform="matrix(0.0677,0,0,0.0313,10.48,576.79)" font-size="100" font-weight="bold" fill="#f8a825" stroke="none">G</text>
<text transform="matrix(0.0698,0,0,0.0313,10.47,579.01)" font-size="100" font-weight="bold" fill="#2a46b0" stroke="none">C</text>
<text transform="matrix(0.0775,0,0,0.0214,10.67,580.52)" font-size="100" font-weight="bold" fill="#e02a2a" stroke="none">T</text>
<text transform="matrix(0.0682,0,0,0.0214,10.58,582.00)" font-size="100" font-weight="bold" fill="#2aa83c" stroke="none">A</text>
<text transform="matrix(0.0698,0,0,0.0417,15.34,577.52)" font-size="100" font-weight="bold" fill="#2a46b0" stroke="none">C</text>
<text transform="matrix(0.0775,0,0,0.0322,15.54,579.78)" font-size="100" font-weight="bold" fill="#e02a2a" stroke="none">T</text>
<text transform="matrix(0.0682,0,0,0.0322,15.45,582.00)" font-size="100" font-weight="bold" fill="#2aa83c" stroke="none">A</text>
<text transform="matrix(0.0677,0,0,0.1042,20.22,581.90)" font-size="100" font-weight="bold" fill="#f8a825" stroke="none">G</text>
<text transform="matrix(0.0775,0,0,0.1072,25.28,582.00)" font-size="100" font-weight="bold" fill="#e02a2a" stroke="none">T</text>
<text transform="matrix(0.0677,0,0,0.0521,29.96,578.25)" font-size="100" font-weight="bold" fill="#f8a825" stroke="none">G</text>
<text transform="matrix(0.0682,0,0,0.0322,30.06,580.52)" font-size="100" font-weight="bold" fill="#2aa83c" stroke="none">A</text>
<text transform="matrix(0.0698,0,0,0.0208,29.95,581.98)" font-size="100" font-weight="bold" fill="#2a46b0" stroke="none">C</text>
<text transform="matrix(0.0677,0,0,0.1042,34.83,581.90)" font-size="100" font-weight="bold" fill="#f8a825" stroke="none">G</text>
<text transform="matrix(0.0677,0,0,0.1042,39.70,581.90)" font-size="100" font-weight="bold" fill="#f8a825" stroke="none">G</text>
<text transform="matrix(0.0698,0,0,0.0417,44.56,577.52)" font-size="100" font-weight="bold" fill="#2a46b0" stroke="none">C</text>
<text transform="matrix(0.0677,0,0,0.0313,44.57,579.75)" font-size="100" font-weight="bold" fill="#f8a825" stroke="none">G</text>
<text transform="matrix(0.0682,0,0,0.0322,44.67,582.00)" font-size="100" font-weight="bold" fill="#2aa83c" stroke="none">A</text>
<text transform="matrix(0.0677,0,0,0.0521,49.44,578.25)" font-size="100" font-weight="bold" fill="#f8a825" stroke="none">G</text>
<text transform="matrix(0.0698,0,0,0.0313,49.43,580.49)" font-size="100" font-weight="bold" fill="#2a46b0" stroke="none">C</text>
<text transform="matrix(0.0775,0,0,0.0214,49.63,582.00)" font-size="100" font-weight="bold" fill="#e02a2a" stroke="none">T</text>
<text transform="matrix(0.0677,0,0,0.0521,54.31,578.25)" font-size="100" font-weight="bold" fill="#f8a825" stroke="none">G</text>
<text transform="matrix(0.0698,0,0,0.0313,54.30,580.49)" font-size="100" font-weight="bold" fill="#2a46b0" stroke="none">C</text>
<text transform="matrix(0.0775,0,0,0.0214,54.50,582.00)" font-size="100" font-weight="bold" fill="#e02a2a" stroke="none">T</text>
<text x="62.40" y="580.40" font-size="6.90" fill="#111" color="#111" >EGR2</text>
<text x="91.30" y="578.34" font-size="6.90" fill="#111" color="#111" >1e-186</text>
<text x="137.20" y="578.34" font-size="6.90" fill="#111" color="#111" >16 / 8</text>
<text transform="matrix(0.0677,0,0,0.0986,10.48,591.90)" font-size="100" font-weight="bold" fill="#f8a825" stroke="none">G</text>
<text transform="matrix(0.0677,0,0,0.0592,15.35,589.84)" font-size="100" font-weight="bold" fill="#f8a825" stroke="none">G</text>
<text transform="matrix(0.0682,0,0,0.0304,15.45,592.00)" font-size="100" font-weight="bold" fill="#2aa83c" stroke="none">A</text>
<text transform="matrix(0.0682,0,0,0.1014,20.32,592.00)" font-size="100" font-weight="bold" fill="#2aa83c" stroke="none">A</text>
<text transform="matrix(0.0682,0,0,0.1014,25.19,592.00)" font-size="100" font-weight="bold" fill="#2aa83c" stroke="none">A</text>
<text transform="matrix(0.0682,0,0,0.1014,30.06,592.00)" font-size="100" font-weight="bold" fill="#2aa83c" stroke="none">A</text>
<text transform="matrix(0.0682,0,0,0.0507,34.93,588.50)" font-size="100" font-weight="bold" fill="#2aa83c" stroke="none">A</text>
<text transform="matrix(0.0775,0,0,0.0304,35.02,590.60)" font-size="100" font-weight="bold" fill="#e02a2a" stroke="none">T</text>
<text transform="matrix(0.0677,0,0,0.0197,34.83,591.98)" font-size="100" font-weight="bold" fill="#f8a825" stroke="none">G</text>
<text transform="matrix(0.0775,0,0,0.0609,39.89,589.20)" font-size="100" font-weight="bold" fill="#e02a2a" stroke="none">T</text>
<text transform="matrix(0.0698,0,0,0.0197,39.69,590.58)" font-size="100" font-weight="bold" fill="#2a46b0" stroke="none">C</text>
<text transform="matrix(0.0677,0,0,0.0197,39.70,591.98)" font-size="100" font-weight="bold" fill="#f8a825" stroke="none">G</text>
<text transform="matrix(0.0698,0,0,0.0986,44.56,591.90)" font-size="100" font-weight="bold" fill="#2a46b0" stroke="none">C</text>
<text transform="matrix(0.0698,0,0,0.0986,49.43,591.90)" font-size="100" font-weight="bold" fill="#2a46b0" stroke="none">C</text>
<text transform="matrix(0.0698,0,0,0.0493,54.30,588.45)" font-size="100" font-weight="bold" fill="#2a46b0" stroke="none">C</text>
<text transform="matrix(0.0682,0,0,0.0304,54.41,590.60)" font-size="100" font-weight="bold" fill="#2aa83c" stroke="none">A</text>
<text transform="matrix(0.0677,0,0,0.0197,54.31,591.98)" font-size="100" font-weight="bold" fill="#f8a825" stroke="none">G</text>
<text x="62.40" y="590.80" font-size="6.90" fill="#111" color="#111" >REL</text>
<text x="91.30" y="588.40" font-size="6.90" fill="#111" color="#111" >1e-136</text>
<text x="137.20" y="588.40" font-size="6.90" fill="#111" color="#111" >7 / 3</text>
<text transform="matrix(0.0784,0,0,0.0812,10.67,601.30)" font-size="100" font-weight="bold" fill="#e02a2a" stroke="none">T</text>
<text transform="matrix(0.0685,0,0,0.0789,15.40,601.22)" font-size="100" font-weight="bold" fill="#f8a825" stroke="none">G</text>
<text transform="matrix(0.0690,0,0,0.0812,20.43,601.30)" font-size="100" font-weight="bold" fill="#2aa83c" stroke="none">A</text>
<text transform="matrix(0.0706,0,0,0.0394,25.24,599.02)" font-size="100" font-weight="bold" fill="#2a46b0" stroke="none">C</text>
<text transform="matrix(0.0685,0,0,0.0315,25.25,601.27)" font-size="100" font-weight="bold" fill="#f8a825" stroke="none">G</text>
<text transform="matrix(0.0685,0,0,0.0394,30.18,599.02)" font-size="100" font-weight="bold" fill="#f8a825" stroke="none">G</text>
<text transform="matrix(0.0706,0,0,0.0315,30.17,601.27)" font-size="100" font-weight="bold" fill="#2a46b0" stroke="none">C</text>
<text transform="matrix(0.0784,0,0,0.0812,35.30,601.30)" font-size="100" font-weight="bold" fill="#e02a2a" stroke="none">T</text>
<text transform="matrix(0.0706,0,0,0.0789,40.02,601.22)" font-size="100" font-weight="bold" fill="#2a46b0" stroke="none">C</text>
<text transform="matrix(0.0690,0,0,0.0812,45.05,601.30)" font-size="100" font-weight="bold" fill="#2aa83c" stroke="none">A</text>
<text x="62.40" y="600.00" font-size="6.90" fill="#111" color="#111" >ATF2</text>
<text x="91.30" y="598.46" font-size="6.90" fill="#111" color="#111" >1e-130</text>
<text x="137.20" y="598.46" font-size="6.90" fill="#111" color="#111" >11 / 6</text>
<text transform="matrix(0.0557,0,0,0.0408,10.53,606.54)" font-size="100" font-weight="bold" fill="#f8a825" stroke="none">G</text>
<text transform="matrix(0.0574,0,0,0.0327,10.52,608.87)" font-size="100" font-weight="bold" fill="#2a46b0" stroke="none">C</text>
<text transform="matrix(0.0574,0,0,0.0817,14.58,608.82)" font-size="100" font-weight="bold" fill="#2a46b0" stroke="none">C</text>
<text transform="matrix(0.0574,0,0,0.0817,18.64,608.82)" font-size="100" font-weight="bold" fill="#2a46b0" stroke="none">C</text>
<text transform="matrix(0.0561,0,0,0.0841,22.78,608.90)" font-size="100" font-weight="bold" fill="#2aa83c" stroke="none">A</text>
<text transform="matrix(0.0574,0,0,0.0817,26.75,608.82)" font-size="100" font-weight="bold" fill="#2a46b0" stroke="none">C</text>
<text transform="matrix(0.0637,0,0,0.0420,30.98,606.00)" font-size="100" font-weight="bold" fill="#e02a2a" stroke="none">T</text>
<text transform="matrix(0.0574,0,0,0.0245,30.81,607.72)" font-size="100" font-weight="bold" fill="#2a46b0" stroke="none">C</text>
<text transform="matrix(0.0561,0,0,0.0168,30.90,608.90)" font-size="100" font-weight="bold" fill="#2aa83c" stroke="none">A</text>
<text transform="matrix(0.0561,0,0,0.0841,34.96,608.90)" font-size="100" font-weight="bold" fill="#2aa83c" stroke="none">A</text>
<text transform="matrix(0.0557,0,0,0.0817,38.94,608.82)" font-size="100" font-weight="bold" fill="#f8a825" stroke="none">G</text>
<text transform="matrix(0.0557,0,0,0.0408,42.99,607.12)" font-size="100" font-weight="bold" fill="#f8a825" stroke="none">G</text>
<text transform="matrix(0.0561,0,0,0.0252,43.08,608.90)" font-size="100" font-weight="bold" fill="#2aa83c" stroke="none">A</text>
<text transform="matrix(0.0557,0,0,0.0408,47.05,607.12)" font-size="100" font-weight="bold" fill="#f8a825" stroke="none">G</text>
<text transform="matrix(0.0574,0,0,0.0245,47.05,608.88)" font-size="100" font-weight="bold" fill="#2a46b0" stroke="none">C</text>
<text transform="matrix(0.0557,0,0,0.0408,51.11,607.12)" font-size="100" font-weight="bold" fill="#f8a825" stroke="none">G</text>
<text transform="matrix(0.0561,0,0,0.0252,51.19,608.90)" font-size="100" font-weight="bold" fill="#2aa83c" stroke="none">A</text>
<text transform="matrix(0.0557,0,0,0.0817,55.17,608.82)" font-size="100" font-weight="bold" fill="#f8a825" stroke="none">G</text>
<text x="62.40" y="609.70" font-size="6.90" fill="#111" color="#111" >CTCF</text>
<text x="91.30" y="608.52" font-size="6.90" fill="#111" color="#111" >1e-93</text>
<text x="137.20" y="608.52" font-size="6.90" fill="#111" color="#111" >4 / 1</text>
<text transform="matrix(0.0599,0,0,0.0901,10.51,618.41)" font-size="100" font-weight="bold" fill="#f8a825" stroke="none">G</text>
<text transform="matrix(0.0603,0,0,0.0928,14.94,618.50)" font-size="100" font-weight="bold" fill="#2aa83c" stroke="none">A</text>
<text transform="matrix(0.0603,0,0,0.0928,19.28,618.50)" font-size="100" font-weight="bold" fill="#2aa83c" stroke="none">A</text>
<text transform="matrix(0.0599,0,0,0.0451,23.53,615.25)" font-size="100" font-weight="bold" fill="#f8a825" stroke="none">G</text>
<text transform="matrix(0.0603,0,0,0.0278,23.62,617.22)" font-size="100" font-weight="bold" fill="#2aa83c" stroke="none">A</text>
<text transform="matrix(0.0685,0,0,0.0186,23.70,618.50)" font-size="100" font-weight="bold" fill="#e02a2a" stroke="none">T</text>
<text transform="matrix(0.0685,0,0,0.0928,28.04,618.50)" font-size="100" font-weight="bold" fill="#e02a2a" stroke="none">T</text>
<text transform="matrix(0.0599,0,0,0.0901,32.21,618.41)" font-size="100" font-weight="bold" fill="#f8a825" stroke="none">G</text>
<text transform="matrix(0.0603,0,0,0.0928,36.64,618.50)" font-size="100" font-weight="bold" fill="#2aa83c" stroke="none">A</text>
<text transform="matrix(0.0603,0,0,0.0928,40.98,618.50)" font-size="100" font-weight="bold" fill="#2aa83c" stroke="none">A</text>
<text transform="matrix(0.0603,0,0,0.0928,45.32,618.50)" font-size="100" font-weight="bold" fill="#2aa83c" stroke="none">A</text>
<text transform="matrix(0.0617,0,0,0.0901,49.56,618.41)" font-size="100" font-weight="bold" fill="#2a46b0" stroke="none">C</text>
<text x="62.40" y="619.60" font-size="6.90" fill="#111" color="#111" >PU.1-IRF</text>
<text x="91.30" y="618.58" font-size="6.90" fill="#111" color="#111" >1e-75</text>
<text x="137.20" y="618.58" font-size="6.90" fill="#111" color="#111" >3 / 1</text>
<text transform="matrix(0.0665,0,0,0.0493,175.78,537.15)" font-size="100" font-weight="bold" fill="#f8a825" stroke="none">G</text>
<text transform="matrix(0.0670,0,0,0.0406,175.88,540.00)" font-size="100" font-weight="bold" fill="#2aa83c" stroke="none">A</text>
<text transform="matrix(0.0761,0,0,0.1014,180.76,540.00)" font-size="100" font-weight="bold" fill="#e02a2a" stroke="none">T</text>
<text transform="matrix(0.0665,0,0,0.0986,185.36,539.90)" font-size="100" font-weight="bold" fill="#f8a825" stroke="none">G</text>
<text transform="matrix(0.0670,0,0,0.1014,190.25,540.00)" font-size="100" font-weight="bold" fill="#2aa83c" stroke="none">A</text>
<text transform="matrix(0.0685,0,0,0.0493,194.94,537.15)" font-size="100" font-weight="bold" fill="#2a46b0" stroke="none">C</text>
<text transform="matrix(0.0665,0,0,0.0394,194.94,539.96)" font-size="100" font-weight="bold" fill="#f8a825" stroke="none">G</text>
<text transform="matrix(0.0761,0,0,0.1014,199.92,540.00)" font-size="100" font-weight="bold" fill="#e02a2a" stroke="none">T</text>
<text transform="matrix(0.0685,0,0,0.0986,204.52,539.90)" font-size="100" font-weight="bold" fill="#2a46b0" stroke="none">C</text>
<text transform="matrix(0.0670,0,0,0.1014,209.41,540.00)" font-size="100" font-weight="bold" fill="#2aa83c" stroke="none">A</text>
<text transform="matrix(0.0761,0,0,0.0406,214.29,535.80)" font-size="100" font-weight="bold" fill="#e02a2a" stroke="none">T</text>
<text transform="matrix(0.0685,0,0,0.0296,214.10,537.87)" font-size="100" font-weight="bold" fill="#2a46b0" stroke="none">C</text>
<text transform="matrix(0.0670,0,0,0.0304,214.20,540.00)" font-size="100" font-weight="bold" fill="#2aa83c" stroke="none">A</text>
<text transform="matrix(0.0685,0,0,0.0493,218.89,536.45)" font-size="100" font-weight="bold" fill="#2a46b0" stroke="none">C</text>
<text transform="matrix(0.0665,0,0,0.0296,218.89,538.57)" font-size="100" font-weight="bold" fill="#f8a825" stroke="none">G</text>
<text transform="matrix(0.0761,0,0,0.0203,219.08,540.00)" font-size="100" font-weight="bold" fill="#e02a2a" stroke="none">T</text>
<text x="229.70" y="537.70" font-size="6.90" fill="#111" color="#111" >ATF3</text>
<text x="258.10" y="537.70" font-size="6.90" fill="#111" color="#111" >1e-238</text>
<text x="303.50" y="537.70" font-size="6.90" fill="#111" color="#111" >40 / 7</text>
<text transform="matrix(0.0551,0,0,0.0971,175.91,552.00)" font-size="100" font-weight="bold" fill="#2aa83c" stroke="none">A</text>
<text transform="matrix(0.0564,0,0,0.0472,179.82,548.60)" font-size="100" font-weight="bold" fill="#2a46b0" stroke="none">C</text>
<text transform="matrix(0.0547,0,0,0.0283,179.82,550.63)" font-size="100" font-weight="bold" fill="#f8a825" stroke="none">G</text>
<text transform="matrix(0.0626,0,0,0.0194,179.98,552.00)" font-size="100" font-weight="bold" fill="#e02a2a" stroke="none">T</text>
<text transform="matrix(0.0626,0,0,0.0971,183.97,552.00)" font-size="100" font-weight="bold" fill="#e02a2a" stroke="none">T</text>
<text transform="matrix(0.0626,0,0,0.0971,187.96,552.00)" font-size="100" font-weight="bold" fill="#e02a2a" stroke="none">T</text>
<text transform="matrix(0.0564,0,0,0.0944,191.79,551.91)" font-size="100" font-weight="bold" fill="#2a46b0" stroke="none">C</text>
<text transform="matrix(0.0564,0,0,0.0944,195.78,551.91)" font-size="100" font-weight="bold" fill="#2a46b0" stroke="none">C</text>
<text transform="matrix(0.0626,0,0,0.0583,199.94,549.32)" font-size="100" font-weight="bold" fill="#e02a2a" stroke="none">T</text>
<text transform="matrix(0.0564,0,0,0.0189,199.77,550.64)" font-size="100" font-weight="bold" fill="#2a46b0" stroke="none">C</text>
<text transform="matrix(0.0551,0,0,0.0194,199.86,552.00)" font-size="100" font-weight="bold" fill="#2aa83c" stroke="none">A</text>
<text transform="matrix(0.0564,0,0,0.0472,203.77,548.60)" font-size="100" font-weight="bold" fill="#2a46b0" stroke="none">C</text>
<text transform="matrix(0.0626,0,0,0.0291,203.93,550.66)" font-size="100" font-weight="bold" fill="#e02a2a" stroke="none">T</text>
<text transform="matrix(0.0547,0,0,0.0189,203.77,551.98)" font-size="100" font-weight="bold" fill="#f8a825" stroke="none">G</text>
<text transform="matrix(0.0626,0,0,0.0971,207.92,552.00)" font-size="100" font-weight="bold" fill="#e02a2a" stroke="none">T</text>
<text transform="matrix(0.0626,0,0,0.0971,211.91,552.00)" font-size="100" font-weight="bold" fill="#e02a2a" stroke="none">T</text>
<text transform="matrix(0.0626,0,0,0.0971,215.90,552.00)" font-size="100" font-weight="bold" fill="#e02a2a" stroke="none">T</text>
<text transform="matrix(0.0626,0,0,0.0486,219.90,548.65)" font-size="100" font-weight="bold" fill="#e02a2a" stroke="none">T</text>
<text transform="matrix(0.0551,0,0,0.0291,219.82,550.66)" font-size="100" font-weight="bold" fill="#2aa83c" stroke="none">A</text>
<text transform="matrix(0.0547,0,0,0.0189,219.74,551.98)" font-size="100" font-weight="bold" fill="#f8a825" stroke="none">G</text>
<text x="229.70" y="549.70" font-size="6.90" fill="#111" color="#111" >SpiB</text>
<text x="258.10" y="549.70" font-size="6.90" fill="#111" color="#111" >1e-60</text>
<text x="303.50" y="549.70" font-size="6.90" fill="#111" color="#111" >19 / 6</text>
<text transform="matrix(0.0670,0,0,0.0388,175.88,559.68)" font-size="100" font-weight="bold" fill="#2aa83c" stroke="none">A</text>
<text transform="matrix(0.0761,0,0,0.0291,175.97,561.69)" font-size="100" font-weight="bold" fill="#e02a2a" stroke="none">T</text>
<text transform="matrix(0.0665,0,0,0.0283,175.78,563.67)" font-size="100" font-weight="bold" fill="#f8a825" stroke="none">G</text>
<text transform="matrix(0.0670,0,0,0.0486,180.67,560.35)" font-size="100" font-weight="bold" fill="#2aa83c" stroke="none">A</text>
<text transform="matrix(0.0761,0,0,0.0291,180.76,562.36)" font-size="100" font-weight="bold" fill="#e02a2a" stroke="none">T</text>
<text transform="matrix(0.0665,0,0,0.0189,180.57,563.68)" font-size="100" font-weight="bold" fill="#f8a825" stroke="none">G</text>
<text transform="matrix(0.0761,0,0,0.0971,185.55,563.70)" font-size="100" font-weight="bold" fill="#e02a2a" stroke="none">T</text>
<text transform="matrix(0.0761,0,0,0.0971,190.34,563.70)" font-size="100" font-weight="bold" fill="#e02a2a" stroke="none">T</text>
<text transform="matrix(0.0665,0,0,0.0472,194.94,560.30)" font-size="100" font-weight="bold" fill="#f8a825" stroke="none">G</text>
<text transform="matrix(0.0761,0,0,0.0291,195.13,562.36)" font-size="100" font-weight="bold" fill="#e02a2a" stroke="none">T</text>
<text transform="matrix(0.0670,0,0,0.0194,195.04,563.70)" font-size="100" font-weight="bold" fill="#2aa83c" stroke="none">A</text>
<text transform="matrix(0.0685,0,0,0.0377,199.73,559.64)" font-size="100" font-weight="bold" fill="#2a46b0" stroke="none">C</text>
<text transform="matrix(0.0670,0,0,0.0291,199.83,561.69)" font-size="100" font-weight="bold" fill="#2aa83c" stroke="none">A</text>
<text transform="matrix(0.0665,0,0,0.0283,199.73,563.67)" font-size="100" font-weight="bold" fill="#f8a825" stroke="none">G</text>
<text transform="matrix(0.0665,0,0,0.0472,204.52,560.30)" font-size="100" font-weight="bold" fill="#f8a825" stroke="none">G</text>
<text transform="matrix(0.0685,0,0,0.0283,204.52,562.33)" font-size="100" font-weight="bold" fill="#2a46b0" stroke="none">C</text>
<text transform="matrix(0.0670,0,0,0.0194,204.62,563.70)" font-size="100" font-weight="bold" fill="#2aa83c" stroke="none">A</text>
<text transform="matrix(0.0685,0,0,0.0472,209.31,560.30)" font-size="100" font-weight="bold" fill="#2a46b0" stroke="none">C</text>
<text transform="matrix(0.0670,0,0,0.0291,209.41,562.36)" font-size="100" font-weight="bold" fill="#2aa83c" stroke="none">A</text>
<text transform="matrix(0.0665,0,0,0.0189,209.31,563.68)" font-size="100" font-weight="bold" fill="#f8a825" stroke="none">G</text>
<text transform="matrix(0.0670,0,0,0.0971,214.20,563.70)" font-size="100" font-weight="bold" fill="#2aa83c" stroke="none">A</text>
<text transform="matrix(0.0670,0,0,0.0971,218.99,563.70)" font-size="100" font-weight="bold" fill="#2aa83c" stroke="none">A</text>
<text x="229.70" y="560.80" font-size="6.90" fill="#111" color="#111" >CEBPE</text>
<text x="258.10" y="560.80" font-size="6.90" fill="#111" color="#111" >1e-59</text>
<text x="303.50" y="560.80" font-size="6.90" fill="#111" color="#111" >28 / 11</text>
<text transform="matrix(0.0665,0,0,0.0944,175.78,573.61)" font-size="100" font-weight="bold" fill="#f8a825" stroke="none">G</text>
<text transform="matrix(0.0761,0,0,0.0583,180.76,571.02)" font-size="100" font-weight="bold" fill="#e02a2a" stroke="none">T</text>
<text transform="matrix(0.0685,0,0,0.0189,180.57,572.34)" font-size="100" font-weight="bold" fill="#2a46b0" stroke="none">C</text>
<text transform="matrix(0.0665,0,0,0.0189,180.57,573.68)" font-size="100" font-weight="bold" fill="#f8a825" stroke="none">G</text>
<text transform="matrix(0.0685,0,0,0.0944,185.36,573.61)" font-size="100" font-weight="bold" fill="#2a46b0" stroke="none">C</text>
<text transform="matrix(0.0670,0,0,0.0971,190.25,573.70)" font-size="100" font-weight="bold" fill="#2aa83c" stroke="none">A</text>
<text transform="matrix(0.0761,0,0,0.0971,195.13,573.70)" font-size="100" font-weight="bold" fill="#e02a2a" stroke="none">T</text>
<text transform="matrix(0.0665,0,0,0.0944,199.73,573.61)" font-size="100" font-weight="bold" fill="#f8a825" stroke="none">G</text>
<text transform="matrix(0.0761,0,0,0.0971,204.71,573.70)" font-size="100" font-weight="bold" fill="#e02a2a" stroke="none">T</text>
<text transform="matrix(0.0665,0,0,0.0944,209.31,573.61)" font-size="100" font-weight="bold" fill="#f8a825" stroke="none">G</text>
<text transform="matrix(0.0670,0,0,0.0971,214.20,573.70)" font-size="100" font-weight="bold" fill="#2aa83c" stroke="none">A</text>
<text transform="matrix(0.0685,0,0,0.0472,218.89,570.30)" font-size="100" font-weight="bold" fill="#2a46b0" stroke="none">C</text>
<text transform="matrix(0.0665,0,0,0.0283,218.89,572.33)" font-size="100" font-weight="bold" fill="#f8a825" stroke="none">G</text>
<text transform="matrix(0.0761,0,0,0.0194,219.08,573.70)" font-size="100" font-weight="bold" fill="#e02a2a" stroke="none">T</text>
<text x="229.70" y="570.50" font-size="6.90" fill="#111" color="#111" >USF2</text>
<text x="258.10" y="570.50" font-size="6.90" fill="#111" color="#111" >1e-53</text>
<text x="303.50" y="570.50" font-size="6.90" fill="#111" color="#111" >14 / 4</text>
<text transform="matrix(0.0761,0,0,0.1130,175.97,585.40)" font-size="100" font-weight="bold" fill="#e02a2a" stroke="none">T</text>
<text transform="matrix(0.0761,0,0,0.0678,180.76,582.28)" font-size="100" font-weight="bold" fill="#e02a2a" stroke="none">T</text>
<text transform="matrix(0.0670,0,0,0.0226,180.67,583.84)" font-size="100" font-weight="bold" fill="#2aa83c" stroke="none">A</text>
<text transform="matrix(0.0665,0,0,0.0220,180.57,585.38)" font-size="100" font-weight="bold" fill="#f8a825" stroke="none">G</text>
<text transform="matrix(0.0670,0,0,0.0565,185.46,581.50)" font-size="100" font-weight="bold" fill="#2aa83c" stroke="none">A</text>
<text transform="matrix(0.0685,0,0,0.0330,185.36,583.81)" font-size="100" font-weight="bold" fill="#2a46b0" stroke="none">C</text>
<text transform="matrix(0.0665,0,0,0.0220,185.36,585.38)" font-size="100" font-weight="bold" fill="#f8a825" stroke="none">G</text>
<text transform="matrix(0.0685,0,0,0.0439,190.15,580.68)" font-size="100" font-weight="bold" fill="#2a46b0" stroke="none">C</text>
<text transform="matrix(0.0761,0,0,0.0339,190.34,583.06)" font-size="100" font-weight="bold" fill="#e02a2a" stroke="none">T</text>
<text transform="matrix(0.0670,0,0,0.0339,190.25,585.40)" font-size="100" font-weight="bold" fill="#2aa83c" stroke="none">A</text>
<text transform="matrix(0.0665,0,0,0.0549,194.94,581.45)" font-size="100" font-weight="bold" fill="#f8a825" stroke="none">G</text>
<text transform="matrix(0.0685,0,0,0.0330,194.94,583.81)" font-size="100" font-weight="bold" fill="#2a46b0" stroke="none">C</text>
<text transform="matrix(0.0670,0,0,0.0226,195.04,585.40)" font-size="100" font-weight="bold" fill="#2aa83c" stroke="none">A</text>
<text transform="matrix(0.0761,0,0,0.0565,199.92,581.50)" font-size="100" font-weight="bold" fill="#e02a2a" stroke="none">T</text>
<text transform="matrix(0.0685,0,0,0.0330,199.73,583.81)" font-size="100" font-weight="bold" fill="#2a46b0" stroke="none">C</text>
<text transform="matrix(0.0665,0,0,0.0220,199.73,585.38)" font-size="100" font-weight="bold" fill="#f8a825" stroke="none">G</text>
<text transform="matrix(0.0685,0,0,0.1099,204.52,585.29)" font-size="100" font-weight="bold" fill="#2a46b0" stroke="none">C</text>
<text transform="matrix(0.0670,0,0,0.1130,209.41,585.40)" font-size="100" font-weight="bold" fill="#2aa83c" stroke="none">A</text>
<text transform="matrix(0.0761,0,0,0.0452,214.29,580.72)" font-size="100" font-weight="bold" fill="#e02a2a" stroke="none">T</text>
<text transform="matrix(0.0685,0,0,0.0330,214.10,583.03)" font-size="100" font-weight="bold" fill="#2a46b0" stroke="none">C</text>
<text transform="matrix(0.0665,0,0,0.0330,214.10,585.37)" font-size="100" font-weight="bold" fill="#f8a825" stroke="none">G</text>
<text transform="matrix(0.0685,0,0,0.0549,218.89,581.45)" font-size="100" font-weight="bold" fill="#2a46b0" stroke="none">C</text>
<text transform="matrix(0.0761,0,0,0.0339,219.08,583.84)" font-size="100" font-weight="bold" fill="#e02a2a" stroke="none">T</text>
<text transform="matrix(0.0670,0,0,0.0226,218.99,585.40)" font-size="100" font-weight="bold" fill="#2aa83c" stroke="none">A</text>
<text x="229.70" y="581.50" font-size="6.90" fill="#111" color="#111" >Atf2</text>
<text x="258.10" y="581.50" font-size="6.90" fill="#111" color="#111" >1e-34</text>
<text x="303.50" y="581.50" font-size="6.90" fill="#111" color="#111" >19 / 8</text>
<text transform="matrix(0.0662,0,0,0.0859,175.79,594.21)" font-size="100" font-weight="bold" fill="#2a46b0" stroke="none">C</text>
<text transform="matrix(0.0662,0,0,0.0859,180.42,594.21)" font-size="100" font-weight="bold" fill="#2a46b0" stroke="none">C</text>
<text transform="matrix(0.0643,0,0,0.0430,185.07,591.21)" font-size="100" font-weight="bold" fill="#f8a825" stroke="none">G</text>
<text transform="matrix(0.0662,0,0,0.0258,185.06,593.05)" font-size="100" font-weight="bold" fill="#2a46b0" stroke="none">C</text>
<text transform="matrix(0.0735,0,0,0.0177,185.25,594.30)" font-size="100" font-weight="bold" fill="#e02a2a" stroke="none">T</text>
<text transform="matrix(0.0662,0,0,0.0859,189.70,594.21)" font-size="100" font-weight="bold" fill="#2a46b0" stroke="none">C</text>
<text transform="matrix(0.0662,0,0,0.0859,194.34,594.21)" font-size="100" font-weight="bold" fill="#2a46b0" stroke="none">C</text>
<text transform="matrix(0.0662,0,0,0.0859,198.97,594.21)" font-size="100" font-weight="bold" fill="#2a46b0" stroke="none">C</text>
<text transform="matrix(0.0647,0,0,0.0884,203.71,594.30)" font-size="100" font-weight="bold" fill="#2aa83c" stroke="none">A</text>
<text transform="matrix(0.0662,0,0,0.0859,208.25,594.21)" font-size="100" font-weight="bold" fill="#2a46b0" stroke="none">C</text>
<text x="229.70" y="591.20" font-size="6.90" fill="#111" color="#111" >Egr2</text>
<text x="258.10" y="591.20" font-size="6.90" fill="#111" color="#111" >1e-28</text>
<text x="303.50" y="591.20" font-size="6.90" fill="#111" color="#111" >16 / 7</text>
<text transform="matrix(0.0547,0,0,0.0944,175.83,604.31)" font-size="100" font-weight="bold" fill="#f8a825" stroke="none">G</text>
<text transform="matrix(0.0551,0,0,0.0971,179.90,604.40)" font-size="100" font-weight="bold" fill="#2aa83c" stroke="none">A</text>
<text transform="matrix(0.0551,0,0,0.0971,183.90,604.40)" font-size="100" font-weight="bold" fill="#2aa83c" stroke="none">A</text>
<text transform="matrix(0.0626,0,0,0.0971,187.96,604.40)" font-size="100" font-weight="bold" fill="#e02a2a" stroke="none">T</text>
<text transform="matrix(0.0626,0,0,0.0971,191.95,604.40)" font-size="100" font-weight="bold" fill="#e02a2a" stroke="none">T</text>
<text transform="matrix(0.0551,0,0,0.0486,195.87,601.05)" font-size="100" font-weight="bold" fill="#2aa83c" stroke="none">A</text>
<text transform="matrix(0.0564,0,0,0.0283,195.78,603.03)" font-size="100" font-weight="bold" fill="#2a46b0" stroke="none">C</text>
<text transform="matrix(0.0626,0,0,0.0194,195.95,604.40)" font-size="100" font-weight="bold" fill="#e02a2a" stroke="none">T</text>
<text transform="matrix(0.0564,0,0,0.0944,199.77,604.31)" font-size="100" font-weight="bold" fill="#2a46b0" stroke="none">C</text>
<text transform="matrix(0.0551,0,0,0.0971,203.85,604.40)" font-size="100" font-weight="bold" fill="#2aa83c" stroke="none">A</text>
<text transform="matrix(0.0551,0,0,0.0971,207.85,604.40)" font-size="100" font-weight="bold" fill="#2aa83c" stroke="none">A</text>
<text transform="matrix(0.0547,0,0,0.0944,211.76,604.31)" font-size="100" font-weight="bold" fill="#f8a825" stroke="none">G</text>
<text transform="matrix(0.0551,0,0,0.0971,215.83,604.40)" font-size="100" font-weight="bold" fill="#2aa83c" stroke="none">A</text>
<text transform="matrix(0.0551,0,0,0.0971,219.82,604.40)" font-size="100" font-weight="bold" fill="#2aa83c" stroke="none">A</text>
<text x="229.70" y="601.80" font-size="6.90" fill="#111" color="#111" >Stat5a</text>
<text x="258.10" y="601.80" font-size="6.90" fill="#111" color="#111" >1e-25</text>
<text x="303.50" y="601.80" font-size="6.90" fill="#111" color="#111" >1 / 0.01</text>
<text transform="matrix(0.0714,0,0,0.0348,175.98,607.90)" font-size="100" font-weight="bold" fill="#e02a2a" stroke="none">T</text>
<text transform="matrix(0.0629,0,0,0.0261,175.89,609.70)" font-size="100" font-weight="bold" fill="#2aa83c" stroke="none">A</text>
<text transform="matrix(0.0624,0,0,0.0254,175.80,611.47)" font-size="100" font-weight="bold" fill="#f8a825" stroke="none">G</text>
<text transform="matrix(0.0629,0,0,0.0870,180.41,611.50)" font-size="100" font-weight="bold" fill="#2aa83c" stroke="none">A</text>
<text transform="matrix(0.0629,0,0,0.0870,184.92,611.50)" font-size="100" font-weight="bold" fill="#2aa83c" stroke="none">A</text>
<text transform="matrix(0.0643,0,0,0.0423,189.33,608.46)" font-size="100" font-weight="bold" fill="#2a46b0" stroke="none">C</text>
<text transform="matrix(0.0624,0,0,0.0254,189.34,610.27)" font-size="100" font-weight="bold" fill="#f8a825" stroke="none">G</text>
<text transform="matrix(0.0714,0,0,0.0174,189.52,611.50)" font-size="100" font-weight="bold" fill="#e02a2a" stroke="none">T</text>
<text transform="matrix(0.0643,0,0,0.0845,193.84,611.42)" font-size="100" font-weight="bold" fill="#2a46b0" stroke="none">C</text>
<text transform="matrix(0.0629,0,0,0.0870,198.46,611.50)" font-size="100" font-weight="bold" fill="#2aa83c" stroke="none">A</text>
<text transform="matrix(0.0643,0,0,0.0845,202.87,611.42)" font-size="100" font-weight="bold" fill="#2a46b0" stroke="none">C</text>
<text transform="matrix(0.0629,0,0,0.0435,207.48,608.50)" font-size="100" font-weight="bold" fill="#2aa83c" stroke="none">A</text>
<text transform="matrix(0.0643,0,0,0.0254,207.38,610.27)" font-size="100" font-weight="bold" fill="#2a46b0" stroke="none">C</text>
<text transform="matrix(0.0714,0,0,0.0174,207.57,611.50)" font-size="100" font-weight="bold" fill="#e02a2a" stroke="none">T</text>
<text x="229.70" y="612.70" font-size="6.90" fill="#111" color="#111" >RUNX1</text>
<text x="258.10" y="612.70" font-size="6.90" fill="#111" color="#111" >1e-22</text>
<text x="303.50" y="612.70" font-size="6.90" fill="#111" color="#111" >9 / 3</text>
<rect x="0.5" y="0.5" width="519" height="664" fill="none" stroke="#000" stroke-width="1.2"/>
</svg></body></html>
